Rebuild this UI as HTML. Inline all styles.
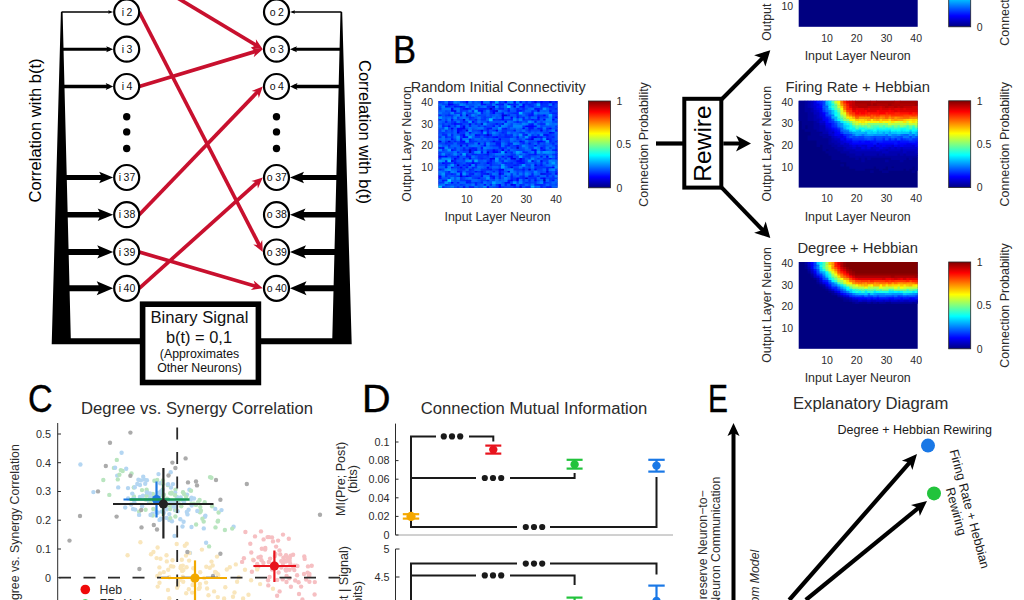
<!DOCTYPE html>
<html><head><meta charset="utf-8"><style>
html,body{margin:0;padding:0;background:#fff;width:1024px;height:600px;overflow:hidden}
svg{display:block;font-family:"Liberation Sans", sans-serif}
</style></head><body>
<svg width="1024" height="600" viewBox="0 0 1024 600">
<defs><linearGradient id="jet" x1="0" y1="1" x2="0" y2="0"><stop offset="0.0000" stop-color="#000080"/><stop offset="0.0625" stop-color="#0000bf"/><stop offset="0.1250" stop-color="#0000ff"/><stop offset="0.1875" stop-color="#0040ff"/><stop offset="0.2500" stop-color="#0080ff"/><stop offset="0.3125" stop-color="#00bfff"/><stop offset="0.3750" stop-color="#00ffff"/><stop offset="0.4375" stop-color="#40ffbf"/><stop offset="0.5000" stop-color="#80ff80"/><stop offset="0.5625" stop-color="#bfff40"/><stop offset="0.6250" stop-color="#ffff00"/><stop offset="0.6875" stop-color="#ffbf00"/><stop offset="0.7500" stop-color="#ff8000"/><stop offset="0.8125" stop-color="#ff4000"/><stop offset="0.8750" stop-color="#ff0000"/><stop offset="0.9375" stop-color="#bf0000"/><stop offset="1.0000" stop-color="#800000"/></linearGradient></defs>
<rect width="1024" height="600" fill="#fff"/>
<polygon points="60.9,12 62.6,12 70.8,338.3 140.5,338.3 140.5,344.2 51.7,344.2" fill="#000"/>
<polygon points="340.5,12 342.2,12 351.7,344.2 260.5,344.2 260.5,338.3 332.3,338.3" fill="#000"/>
<line x1="61.5" y1="12" x2="110.7" y2="12" stroke="#000" stroke-width="1.5"/>
<path d="M113.2 12 L108.2 10.2 Q109.6 12 108.2 13.8 Z" fill="#000"/>
<line x1="341.5" y1="12" x2="292.5" y2="12" stroke="#000" stroke-width="1.5"/>
<path d="M290 12 L295 10.2 Q293.6 12 295 13.8 Z" fill="#000"/>
<line x1="61.5" y1="49.2" x2="109.7" y2="49.2" stroke="#000" stroke-width="3"/>
<path d="M113.2 49.2 L106.2 46.2 Q108.2 49.2 106.2 52.2 Z" fill="#000"/>
<line x1="341.5" y1="49.2" x2="293.5" y2="49.2" stroke="#000" stroke-width="3"/>
<path d="M290 49.2 L297 46.2 Q295 49.2 297 52.2 Z" fill="#000"/>
<line x1="61.5" y1="86.5" x2="109.5" y2="86.5" stroke="#000" stroke-width="3.3"/>
<path d="M113.2 86.5 L105.7 83 Q107.8 86.5 105.7 90 Z" fill="#000"/>
<line x1="341.5" y1="86.5" x2="293.8" y2="86.5" stroke="#000" stroke-width="3.3"/>
<path d="M290 86.5 L297.5 83 Q295.4 86.5 297.5 90 Z" fill="#000"/>
<line x1="61.5" y1="177.5" x2="106.2" y2="177.5" stroke="#000" stroke-width="5"/>
<path d="M113.2 177.5 L99.2 171.7 Q103.1 177.5 99.2 183.3 Z" fill="#000"/>
<line x1="341.5" y1="177.5" x2="297" y2="177.5" stroke="#000" stroke-width="5"/>
<path d="M290 177.5 L304 171.7 Q300.1 177.5 304 183.3 Z" fill="#000"/>
<line x1="61.5" y1="214.7" x2="105.5" y2="214.7" stroke="#000" stroke-width="5.6"/>
<path d="M113.2 214.7 L97.7 208.4 Q102 214.7 97.7 220.9 Z" fill="#000"/>
<line x1="341.5" y1="214.7" x2="297.8" y2="214.7" stroke="#000" stroke-width="5.6"/>
<path d="M290 214.7 L305.5 208.4 Q301.2 214.7 305.5 220.9 Z" fill="#000"/>
<line x1="61.5" y1="252" x2="105.2" y2="252" stroke="#000" stroke-width="5.8"/>
<path d="M113.2 252 L97.2 245.3 Q101.7 252 97.2 258.6 Z" fill="#000"/>
<line x1="341.5" y1="252" x2="298" y2="252" stroke="#000" stroke-width="5.8"/>
<path d="M290 252 L306 245.3 Q301.5 252 306 258.6 Z" fill="#000"/>
<line x1="61.5" y1="288.3" x2="105" y2="288.3" stroke="#000" stroke-width="6"/>
<path d="M113.2 288.3 L96.7 281.3 Q101.3 288.3 96.7 295.3 Z" fill="#000"/>
<line x1="341.5" y1="288.3" x2="298.2" y2="288.3" stroke="#000" stroke-width="6"/>
<path d="M290 288.3 L306.5 281.3 Q301.9 288.3 306.5 295.3 Z" fill="#000"/>
<circle cx="126.7" cy="116.7" r="3.7" fill="#000"/>
<circle cx="276.5" cy="116.7" r="3.7" fill="#000"/>
<circle cx="126.7" cy="131.9" r="3.7" fill="#000"/>
<circle cx="276.5" cy="131.9" r="3.7" fill="#000"/>
<circle cx="126.7" cy="148.5" r="3.7" fill="#000"/>
<circle cx="276.5" cy="148.5" r="3.7" fill="#000"/>
<line x1="139.2" y1="-25" x2="257.7" y2="46.1" stroke="#c8102e" stroke-width="3.7"/>
<polygon points="262.8,49.2 250.8,47.8 256.2,45.2 255.9,39.3" fill="#c8102e"/>
<line x1="139.2" y1="12" x2="260.1" y2="246.7" stroke="#c8102e" stroke-width="3.7"/>
<polygon points="262.8,252 253.3,244.5 259.3,245.2 262.2,239.9" fill="#c8102e"/>
<line x1="139.2" y1="86.5" x2="257.1" y2="50.9" stroke="#c8102e" stroke-width="3.7"/>
<polygon points="262.8,49.2 253.7,57.2 255.4,51.4 250.8,47.6" fill="#c8102e"/>
<line x1="139.2" y1="214.7" x2="258.6" y2="90.8" stroke="#c8102e" stroke-width="3.7"/>
<polygon points="262.8,86.5 258.8,97.9 257.5,92 251.6,90.9" fill="#c8102e"/>
<line x1="139.2" y1="252" x2="257" y2="286.6" stroke="#c8102e" stroke-width="3.7"/>
<polygon points="262.8,288.3 250.8,290 255.4,286.1 253.7,280.4" fill="#c8102e"/>
<line x1="139.2" y1="288.3" x2="258.3" y2="181.5" stroke="#c8102e" stroke-width="3.7"/>
<polygon points="262.8,177.5 257.9,188.6 257.1,182.6 251.3,181.1" fill="#c8102e"/>
<circle cx="126.7" cy="12" r="12.5" fill="#fff" stroke="#000" stroke-width="2.2"/>
<text x="127" y="15.6" font-size="10.5" fill="#111" text-anchor="middle">i<tspan dx="2.5">2</tspan></text>
<circle cx="276.5" cy="12" r="12.5" fill="#fff" stroke="#000" stroke-width="2.2"/>
<text x="276.8" y="15.6" font-size="10.5" fill="#111" text-anchor="middle">o<tspan dx="2.5">2</tspan></text>
<circle cx="126.7" cy="49.2" r="12.5" fill="#fff" stroke="#000" stroke-width="2.2"/>
<text x="127" y="52.8" font-size="10.5" fill="#111" text-anchor="middle">i<tspan dx="2.5">3</tspan></text>
<circle cx="276.5" cy="49.2" r="12.5" fill="#fff" stroke="#000" stroke-width="2.2"/>
<text x="276.8" y="52.8" font-size="10.5" fill="#111" text-anchor="middle">o<tspan dx="2.5">3</tspan></text>
<circle cx="126.7" cy="86.5" r="12.5" fill="#fff" stroke="#000" stroke-width="2.2"/>
<text x="127" y="90.1" font-size="10.5" fill="#111" text-anchor="middle">i<tspan dx="2.5">4</tspan></text>
<circle cx="276.5" cy="86.5" r="12.5" fill="#fff" stroke="#000" stroke-width="2.2"/>
<text x="276.8" y="90.1" font-size="10.5" fill="#111" text-anchor="middle">o<tspan dx="2.5">4</tspan></text>
<circle cx="126.7" cy="177.5" r="12.5" fill="#fff" stroke="#000" stroke-width="2.2"/>
<text x="127" y="181.1" font-size="10.5" fill="#111" text-anchor="middle">i<tspan dx="2.5">37</tspan></text>
<circle cx="276.5" cy="177.5" r="12.5" fill="#fff" stroke="#000" stroke-width="2.2"/>
<text x="276.8" y="181.1" font-size="10.5" fill="#111" text-anchor="middle">o<tspan dx="2.5">37</tspan></text>
<circle cx="126.7" cy="214.7" r="12.5" fill="#fff" stroke="#000" stroke-width="2.2"/>
<text x="127" y="218.3" font-size="10.5" fill="#111" text-anchor="middle">i<tspan dx="2.5">38</tspan></text>
<circle cx="276.5" cy="214.7" r="12.5" fill="#fff" stroke="#000" stroke-width="2.2"/>
<text x="276.8" y="218.3" font-size="10.5" fill="#111" text-anchor="middle">o<tspan dx="2.5">38</tspan></text>
<circle cx="126.7" cy="252" r="12.5" fill="#fff" stroke="#000" stroke-width="2.2"/>
<text x="127" y="255.6" font-size="10.5" fill="#111" text-anchor="middle">i<tspan dx="2.5">39</tspan></text>
<circle cx="276.5" cy="252" r="12.5" fill="#fff" stroke="#000" stroke-width="2.2"/>
<text x="276.8" y="255.6" font-size="10.5" fill="#111" text-anchor="middle">o<tspan dx="2.5">39</tspan></text>
<circle cx="126.7" cy="288.3" r="12.5" fill="#fff" stroke="#000" stroke-width="2.2"/>
<text x="127" y="291.9" font-size="10.5" fill="#111" text-anchor="middle">i<tspan dx="2.5">40</tspan></text>
<circle cx="276.5" cy="288.3" r="12.5" fill="#fff" stroke="#000" stroke-width="2.2"/>
<text x="276.8" y="291.9" font-size="10.5" fill="#111" text-anchor="middle">o<tspan dx="2.5">40</tspan></text>
<text x="41" y="130.5" font-size="16.5" fill="#000" text-anchor="middle" transform="rotate(-90 41 130.5)">Correlation with b(t)</text>
<text x="358.5" y="132" font-size="16.5" fill="#000" text-anchor="middle" transform="rotate(90 358.5 132)">Correlation with b(t)</text>
<rect x="142.6" y="304.2" width="115.8" height="78.3" fill="#fff" stroke="#000" stroke-width="5.6"/>
<text x="199.5" y="322.8" font-size="16" fill="#111" text-anchor="middle" textLength="98" lengthAdjust="spacingAndGlyphs">Binary Signal</text>
<text x="199" y="342.8" font-size="16" fill="#111" text-anchor="middle" textLength="66" lengthAdjust="spacingAndGlyphs">b(t) = 0,1</text>
<text x="199.5" y="357.8" font-size="12.3" fill="#111" text-anchor="middle">(Approximates</text>
<text x="199.5" y="372" font-size="12.3" fill="#111" text-anchor="middle">Other Neurons)</text>
<text transform="translate(393,63) scale(0.89,1)" font-size="38.8" fill="#000" stroke="#000" stroke-width="0.4">B</text>
<rect x="438.5" y="101" width="119" height="86.8" fill="#000080"/>
<path fill="#0000c0" d="M542.62 179.12h3.58v2.77h-3.58zM515.85 146.57h3.58v2.77h-3.58zM489.07 107.51h3.58v2.77h-3.58z"/>
<path fill="#0000d0" d="M456.35 163.93h3.58v2.77h-3.58zM468.25 150.91h3.58v2.77h-3.58zM468.25 148.74h3.58v2.77h-3.58zM486.10 133.55h3.58v2.77h-3.58zM495.02 109.68h3.58v2.77h-3.58z"/>
<path fill="#0000e1" d="M509.90 183.46h3.58v2.77h-3.58zM524.77 176.95h3.58v2.77h-3.58zM459.32 174.78h3.58v2.77h-3.58zM486.10 172.61h3.58v2.77h-3.58zM498.00 172.61h3.58v2.77h-3.58zM539.65 172.61h3.58v2.77h-3.58zM527.75 168.27h3.58v2.77h-3.58zM450.40 159.59h3.58v2.77h-3.58zM530.73 159.59h3.58v2.77h-3.58zM512.88 157.42h3.58v2.77h-3.58zM518.83 157.42h3.58v2.77h-3.58zM486.10 150.91h3.58v2.77h-3.58zM438.50 146.57h3.58v2.77h-3.58zM447.43 140.06h3.58v2.77h-3.58zM530.73 137.89h3.58v2.77h-3.58zM456.35 131.38h3.58v2.77h-3.58zM465.27 129.21h3.58v2.77h-3.58zM480.15 122.70h3.58v2.77h-3.58zM462.30 118.36h3.58v2.77h-3.58zM465.27 114.02h3.58v2.77h-3.58zM500.98 114.02h3.58v2.77h-3.58zM503.95 114.02h3.58v2.77h-3.58zM536.67 109.68h3.58v2.77h-3.58zM492.05 105.34h3.58v2.77h-3.58zM512.88 105.34h3.58v2.77h-3.58zM548.58 101.00h3.58v2.77h-3.58z"/>
<path fill="#0000f1" d="M518.83 185.63h3.58v2.17h-3.58zM542.62 176.95h3.58v2.77h-3.58zM542.62 172.61h3.58v2.77h-3.58zM554.52 172.61h2.98v2.77h-2.98zM506.93 170.44h3.58v2.77h-3.58zM545.60 170.44h3.58v2.77h-3.58zM500.98 168.27h3.58v2.77h-3.58zM509.90 166.10h3.58v2.77h-3.58zM533.70 163.93h3.58v2.77h-3.58zM539.65 159.59h3.58v2.77h-3.58zM468.25 157.42h3.58v2.77h-3.58zM489.07 157.42h3.58v2.77h-3.58zM492.05 157.42h3.58v2.77h-3.58zM509.90 157.42h3.58v2.77h-3.58zM503.95 150.91h3.58v2.77h-3.58zM500.98 148.74h3.58v2.77h-3.58zM459.32 144.40h3.58v2.77h-3.58zM438.50 140.06h3.58v2.77h-3.58zM492.05 140.06h3.58v2.77h-3.58zM545.60 137.89h3.58v2.77h-3.58zM533.70 135.72h3.58v2.77h-3.58zM462.30 133.55h3.58v2.77h-3.58zM524.77 133.55h3.58v2.77h-3.58zM542.62 133.55h3.58v2.77h-3.58zM548.58 131.38h3.58v2.77h-3.58zM480.15 129.21h3.58v2.77h-3.58zM495.02 129.21h3.58v2.77h-3.58zM539.65 129.21h3.58v2.77h-3.58zM450.40 127.04h3.58v2.77h-3.58zM462.30 127.04h3.58v2.77h-3.58zM462.30 124.87h3.58v2.77h-3.58zM468.25 122.70h3.58v2.77h-3.58zM500.98 122.70h3.58v2.77h-3.58zM450.40 109.68h3.58v2.77h-3.58zM453.38 109.68h3.58v2.77h-3.58zM447.43 103.17h3.58v2.77h-3.58zM533.70 101.00h3.58v2.77h-3.58z"/>
<path fill="#0002ff" d="M486.10 185.63h3.58v2.17h-3.58zM498.00 185.63h3.58v2.17h-3.58zM498.00 183.46h3.58v2.77h-3.58zM512.88 183.46h3.58v2.77h-3.58zM450.40 181.29h3.58v2.77h-3.58zM506.93 181.29h3.58v2.77h-3.58zM509.90 179.12h3.58v2.77h-3.58zM515.85 179.12h3.58v2.77h-3.58zM533.70 179.12h3.58v2.77h-3.58zM515.85 176.95h3.58v2.77h-3.58zM438.50 174.78h3.58v2.77h-3.58zM465.27 174.78h3.58v2.77h-3.58zM459.32 172.61h3.58v2.77h-3.58zM498.00 168.27h3.58v2.77h-3.58zM533.70 168.27h3.58v2.77h-3.58zM459.32 166.10h3.58v2.77h-3.58zM486.10 166.10h3.58v2.77h-3.58zM551.55 166.10h3.58v2.77h-3.58zM468.25 163.93h3.58v2.77h-3.58zM441.48 161.76h3.58v2.77h-3.58zM471.23 161.76h3.58v2.77h-3.58zM486.10 161.76h3.58v2.77h-3.58zM515.85 159.59h3.58v2.77h-3.58zM518.83 159.59h3.58v2.77h-3.58zM453.38 157.42h3.58v2.77h-3.58zM438.50 155.25h3.58v2.77h-3.58zM444.45 155.25h3.58v2.77h-3.58zM456.35 155.25h3.58v2.77h-3.58zM509.90 155.25h3.58v2.77h-3.58zM545.60 155.25h3.58v2.77h-3.58zM492.05 150.91h3.58v2.77h-3.58zM495.02 150.91h3.58v2.77h-3.58zM492.05 148.74h3.58v2.77h-3.58zM533.70 148.74h3.58v2.77h-3.58zM441.48 146.57h3.58v2.77h-3.58zM539.65 146.57h3.58v2.77h-3.58zM483.12 144.40h3.58v2.77h-3.58zM533.70 144.40h3.58v2.77h-3.58zM477.18 142.23h3.58v2.77h-3.58zM462.30 140.06h3.58v2.77h-3.58zM518.83 140.06h3.58v2.77h-3.58zM536.67 140.06h3.58v2.77h-3.58zM539.65 140.06h3.58v2.77h-3.58zM498.00 137.89h3.58v2.77h-3.58zM462.30 135.72h3.58v2.77h-3.58zM495.02 135.72h3.58v2.77h-3.58zM530.73 135.72h3.58v2.77h-3.58zM474.20 133.55h3.58v2.77h-3.58zM545.60 133.55h3.58v2.77h-3.58zM456.35 129.21h3.58v2.77h-3.58zM456.35 127.04h3.58v2.77h-3.58zM459.32 127.04h3.58v2.77h-3.58zM521.80 127.04h3.58v2.77h-3.58zM548.58 127.04h3.58v2.77h-3.58zM447.43 124.87h3.58v2.77h-3.58zM524.77 124.87h3.58v2.77h-3.58zM527.75 124.87h3.58v2.77h-3.58zM530.73 124.87h3.58v2.77h-3.58zM453.38 122.70h3.58v2.77h-3.58zM456.35 122.70h3.58v2.77h-3.58zM495.02 122.70h3.58v2.77h-3.58zM471.23 120.53h3.58v2.77h-3.58zM503.95 120.53h3.58v2.77h-3.58zM500.98 118.36h3.58v2.77h-3.58zM542.62 118.36h3.58v2.77h-3.58zM551.55 118.36h3.58v2.77h-3.58zM500.98 116.19h3.58v2.77h-3.58zM509.90 116.19h3.58v2.77h-3.58zM536.67 116.19h3.58v2.77h-3.58zM554.52 116.19h2.98v2.77h-2.98zM542.62 114.02h3.58v2.77h-3.58zM492.05 111.85h3.58v2.77h-3.58zM480.15 109.68h3.58v2.77h-3.58zM492.05 109.68h3.58v2.77h-3.58zM518.83 109.68h3.58v2.77h-3.58zM450.40 107.51h3.58v2.77h-3.58zM465.27 107.51h3.58v2.77h-3.58zM459.32 105.34h3.58v2.77h-3.58zM521.80 105.34h3.58v2.77h-3.58zM450.40 103.17h3.58v2.77h-3.58zM521.80 103.17h3.58v2.77h-3.58zM465.27 101.00h3.58v2.77h-3.58zM480.15 101.00h3.58v2.77h-3.58zM503.95 101.00h3.58v2.77h-3.58zM512.88 101.00h3.58v2.77h-3.58zM539.65 101.00h3.58v2.77h-3.58z"/>
<path fill="#0012ff" d="M462.30 185.63h3.58v2.17h-3.58zM545.60 185.63h3.58v2.17h-3.58zM548.58 185.63h3.58v2.17h-3.58zM483.12 183.46h3.58v2.77h-3.58zM465.27 181.29h3.58v2.77h-3.58zM503.95 181.29h3.58v2.77h-3.58zM542.62 181.29h3.58v2.77h-3.58zM441.48 179.12h3.58v2.77h-3.58zM506.93 179.12h3.58v2.77h-3.58zM551.55 179.12h3.58v2.77h-3.58zM438.50 176.95h3.58v2.77h-3.58zM477.18 176.95h3.58v2.77h-3.58zM492.05 176.95h3.58v2.77h-3.58zM539.65 176.95h3.58v2.77h-3.58zM480.15 174.78h3.58v2.77h-3.58zM489.07 174.78h3.58v2.77h-3.58zM492.05 174.78h3.58v2.77h-3.58zM527.75 174.78h3.58v2.77h-3.58zM450.40 172.61h3.58v2.77h-3.58zM471.23 172.61h3.58v2.77h-3.58zM483.12 172.61h3.58v2.77h-3.58zM500.98 172.61h3.58v2.77h-3.58zM456.35 170.44h3.58v2.77h-3.58zM474.20 170.44h3.58v2.77h-3.58zM480.15 170.44h3.58v2.77h-3.58zM498.00 170.44h3.58v2.77h-3.58zM489.07 168.27h3.58v2.77h-3.58zM521.80 168.27h3.58v2.77h-3.58zM545.60 168.27h3.58v2.77h-3.58zM444.45 166.10h3.58v2.77h-3.58zM450.40 166.10h3.58v2.77h-3.58zM465.27 166.10h3.58v2.77h-3.58zM462.30 163.93h3.58v2.77h-3.58zM512.88 163.93h3.58v2.77h-3.58zM539.65 163.93h3.58v2.77h-3.58zM453.38 161.76h3.58v2.77h-3.58zM518.83 161.76h3.58v2.77h-3.58zM521.80 161.76h3.58v2.77h-3.58zM444.45 159.59h3.58v2.77h-3.58zM489.07 159.59h3.58v2.77h-3.58zM548.58 157.42h3.58v2.77h-3.58zM441.48 155.25h3.58v2.77h-3.58zM465.27 155.25h3.58v2.77h-3.58zM468.25 155.25h3.58v2.77h-3.58zM500.98 155.25h3.58v2.77h-3.58zM506.93 155.25h3.58v2.77h-3.58zM539.65 155.25h3.58v2.77h-3.58zM486.10 153.08h3.58v2.77h-3.58zM533.70 153.08h3.58v2.77h-3.58zM480.15 150.91h3.58v2.77h-3.58zM533.70 150.91h3.58v2.77h-3.58zM450.40 148.74h3.58v2.77h-3.58zM474.20 148.74h3.58v2.77h-3.58zM530.73 148.74h3.58v2.77h-3.58zM542.62 148.74h3.58v2.77h-3.58zM554.52 148.74h2.98v2.77h-2.98zM471.23 146.57h3.58v2.77h-3.58zM480.15 146.57h3.58v2.77h-3.58zM465.27 144.40h3.58v2.77h-3.58zM498.00 144.40h3.58v2.77h-3.58zM506.93 144.40h3.58v2.77h-3.58zM515.85 144.40h3.58v2.77h-3.58zM495.02 142.23h3.58v2.77h-3.58zM498.00 142.23h3.58v2.77h-3.58zM527.75 142.23h3.58v2.77h-3.58zM459.32 140.06h3.58v2.77h-3.58zM450.40 137.89h3.58v2.77h-3.58zM459.32 137.89h3.58v2.77h-3.58zM468.25 137.89h3.58v2.77h-3.58zM527.75 137.89h3.58v2.77h-3.58zM465.27 135.72h3.58v2.77h-3.58zM492.05 135.72h3.58v2.77h-3.58zM515.85 135.72h3.58v2.77h-3.58zM539.65 135.72h3.58v2.77h-3.58zM477.18 133.55h3.58v2.77h-3.58zM483.12 133.55h3.58v2.77h-3.58zM489.07 133.55h3.58v2.77h-3.58zM468.25 131.38h3.58v2.77h-3.58zM551.55 131.38h3.58v2.77h-3.58zM459.32 129.21h3.58v2.77h-3.58zM512.88 129.21h3.58v2.77h-3.58zM554.52 129.21h2.98v2.77h-2.98zM486.10 127.04h3.58v2.77h-3.58zM489.07 127.04h3.58v2.77h-3.58zM503.95 127.04h3.58v2.77h-3.58zM527.75 127.04h3.58v2.77h-3.58zM530.73 127.04h3.58v2.77h-3.58zM536.67 127.04h3.58v2.77h-3.58zM492.05 124.87h3.58v2.77h-3.58zM533.70 124.87h3.58v2.77h-3.58zM459.32 122.70h3.58v2.77h-3.58zM530.73 122.70h3.58v2.77h-3.58zM444.45 120.53h3.58v2.77h-3.58zM515.85 120.53h3.58v2.77h-3.58zM533.70 120.53h3.58v2.77h-3.58zM450.40 118.36h3.58v2.77h-3.58zM530.73 118.36h3.58v2.77h-3.58zM536.67 118.36h3.58v2.77h-3.58zM515.85 116.19h3.58v2.77h-3.58zM459.32 114.02h3.58v2.77h-3.58zM527.75 114.02h3.58v2.77h-3.58zM530.73 114.02h3.58v2.77h-3.58zM500.98 111.85h3.58v2.77h-3.58zM530.73 111.85h3.58v2.77h-3.58zM477.18 109.68h3.58v2.77h-3.58zM506.93 109.68h3.58v2.77h-3.58zM515.85 109.68h3.58v2.77h-3.58zM548.58 109.68h3.58v2.77h-3.58zM462.30 107.51h3.58v2.77h-3.58zM533.70 107.51h3.58v2.77h-3.58zM536.67 107.51h3.58v2.77h-3.58zM444.45 105.34h3.58v2.77h-3.58zM453.38 105.34h3.58v2.77h-3.58zM518.83 105.34h3.58v2.77h-3.58zM548.58 105.34h3.58v2.77h-3.58zM480.15 103.17h3.58v2.77h-3.58zM483.12 103.17h3.58v2.77h-3.58zM495.02 103.17h3.58v2.77h-3.58zM500.98 103.17h3.58v2.77h-3.58zM506.93 103.17h3.58v2.77h-3.58zM551.55 103.17h3.58v2.77h-3.58zM489.07 101.00h3.58v2.77h-3.58zM518.83 101.00h3.58v2.77h-3.58zM554.52 101.00h2.98v2.77h-2.98z"/>
<path fill="#0022ff" d="M441.48 185.63h3.58v2.17h-3.58zM468.25 185.63h3.58v2.17h-3.58zM471.23 185.63h3.58v2.17h-3.58zM512.88 185.63h3.58v2.17h-3.58zM524.77 185.63h3.58v2.17h-3.58zM527.75 185.63h3.58v2.17h-3.58zM539.65 185.63h3.58v2.17h-3.58zM474.20 183.46h3.58v2.77h-3.58zM489.07 183.46h3.58v2.77h-3.58zM503.95 183.46h3.58v2.77h-3.58zM518.83 183.46h3.58v2.77h-3.58zM533.70 183.46h3.58v2.77h-3.58zM536.67 183.46h3.58v2.77h-3.58zM539.65 183.46h3.58v2.77h-3.58zM456.35 181.29h3.58v2.77h-3.58zM468.25 181.29h3.58v2.77h-3.58zM474.20 181.29h3.58v2.77h-3.58zM480.15 181.29h3.58v2.77h-3.58zM524.77 181.29h3.58v2.77h-3.58zM444.45 179.12h3.58v2.77h-3.58zM465.27 179.12h3.58v2.77h-3.58zM468.25 179.12h3.58v2.77h-3.58zM486.10 179.12h3.58v2.77h-3.58zM527.75 179.12h3.58v2.77h-3.58zM498.00 176.95h3.58v2.77h-3.58zM509.90 176.95h3.58v2.77h-3.58zM521.80 176.95h3.58v2.77h-3.58zM533.70 176.95h3.58v2.77h-3.58zM462.30 174.78h3.58v2.77h-3.58zM468.25 174.78h3.58v2.77h-3.58zM498.00 174.78h3.58v2.77h-3.58zM503.95 174.78h3.58v2.77h-3.58zM509.90 174.78h3.58v2.77h-3.58zM521.80 174.78h3.58v2.77h-3.58zM530.73 174.78h3.58v2.77h-3.58zM536.67 174.78h3.58v2.77h-3.58zM545.60 174.78h3.58v2.77h-3.58zM468.25 172.61h3.58v2.77h-3.58zM480.15 172.61h3.58v2.77h-3.58zM530.73 172.61h3.58v2.77h-3.58zM545.60 172.61h3.58v2.77h-3.58zM548.58 172.61h3.58v2.77h-3.58zM447.43 170.44h3.58v2.77h-3.58zM459.32 170.44h3.58v2.77h-3.58zM492.05 170.44h3.58v2.77h-3.58zM554.52 170.44h2.98v2.77h-2.98zM438.50 168.27h3.58v2.77h-3.58zM468.25 168.27h3.58v2.77h-3.58zM486.10 168.27h3.58v2.77h-3.58zM471.23 166.10h3.58v2.77h-3.58zM545.60 166.10h3.58v2.77h-3.58zM548.58 166.10h3.58v2.77h-3.58zM444.45 163.93h3.58v2.77h-3.58zM474.20 163.93h3.58v2.77h-3.58zM489.07 163.93h3.58v2.77h-3.58zM515.85 163.93h3.58v2.77h-3.58zM444.45 161.76h3.58v2.77h-3.58zM447.43 161.76h3.58v2.77h-3.58zM465.27 161.76h3.58v2.77h-3.58zM468.25 161.76h3.58v2.77h-3.58zM474.20 161.76h3.58v2.77h-3.58zM489.07 161.76h3.58v2.77h-3.58zM503.95 161.76h3.58v2.77h-3.58zM509.90 161.76h3.58v2.77h-3.58zM515.85 161.76h3.58v2.77h-3.58zM539.65 161.76h3.58v2.77h-3.58zM453.38 159.59h3.58v2.77h-3.58zM471.23 159.59h3.58v2.77h-3.58zM500.98 159.59h3.58v2.77h-3.58zM521.80 159.59h3.58v2.77h-3.58zM462.30 157.42h3.58v2.77h-3.58zM480.15 157.42h3.58v2.77h-3.58zM503.95 157.42h3.58v2.77h-3.58zM521.80 157.42h3.58v2.77h-3.58zM554.52 157.42h2.98v2.77h-2.98zM459.32 153.08h3.58v2.77h-3.58zM465.27 153.08h3.58v2.77h-3.58zM471.23 153.08h3.58v2.77h-3.58zM474.20 153.08h3.58v2.77h-3.58zM483.12 153.08h3.58v2.77h-3.58zM527.75 153.08h3.58v2.77h-3.58zM530.73 153.08h3.58v2.77h-3.58zM554.52 153.08h2.98v2.77h-2.98zM456.35 150.91h3.58v2.77h-3.58zM509.90 150.91h3.58v2.77h-3.58zM521.80 150.91h3.58v2.77h-3.58zM524.77 150.91h3.58v2.77h-3.58zM462.30 148.74h3.58v2.77h-3.58zM471.23 148.74h3.58v2.77h-3.58zM495.02 148.74h3.58v2.77h-3.58zM506.93 148.74h3.58v2.77h-3.58zM539.65 148.74h3.58v2.77h-3.58zM551.55 148.74h3.58v2.77h-3.58zM462.30 146.57h3.58v2.77h-3.58zM468.25 146.57h3.58v2.77h-3.58zM474.20 146.57h3.58v2.77h-3.58zM498.00 146.57h3.58v2.77h-3.58zM500.98 146.57h3.58v2.77h-3.58zM447.43 144.40h3.58v2.77h-3.58zM495.02 144.40h3.58v2.77h-3.58zM554.52 144.40h2.98v2.77h-2.98zM444.45 142.23h3.58v2.77h-3.58zM459.32 142.23h3.58v2.77h-3.58zM462.30 142.23h3.58v2.77h-3.58zM465.27 142.23h3.58v2.77h-3.58zM483.12 142.23h3.58v2.77h-3.58zM506.93 142.23h3.58v2.77h-3.58zM509.90 142.23h3.58v2.77h-3.58zM521.80 142.23h3.58v2.77h-3.58zM536.67 142.23h3.58v2.77h-3.58zM551.55 142.23h3.58v2.77h-3.58zM453.38 140.06h3.58v2.77h-3.58zM468.25 140.06h3.58v2.77h-3.58zM495.02 140.06h3.58v2.77h-3.58zM498.00 140.06h3.58v2.77h-3.58zM521.80 140.06h3.58v2.77h-3.58zM542.62 140.06h3.58v2.77h-3.58zM548.58 140.06h3.58v2.77h-3.58zM554.52 140.06h2.98v2.77h-2.98zM524.77 137.89h3.58v2.77h-3.58zM548.58 137.89h3.58v2.77h-3.58zM444.45 135.72h3.58v2.77h-3.58zM486.10 135.72h3.58v2.77h-3.58zM503.95 135.72h3.58v2.77h-3.58zM506.93 135.72h3.58v2.77h-3.58zM536.67 135.72h3.58v2.77h-3.58zM545.60 135.72h3.58v2.77h-3.58zM551.55 135.72h3.58v2.77h-3.58zM441.48 133.55h3.58v2.77h-3.58zM444.45 133.55h3.58v2.77h-3.58zM450.40 133.55h3.58v2.77h-3.58zM459.32 133.55h3.58v2.77h-3.58zM503.95 133.55h3.58v2.77h-3.58zM509.90 133.55h3.58v2.77h-3.58zM521.80 133.55h3.58v2.77h-3.58zM536.67 133.55h3.58v2.77h-3.58zM480.15 131.38h3.58v2.77h-3.58zM486.10 131.38h3.58v2.77h-3.58zM500.98 131.38h3.58v2.77h-3.58zM486.10 129.21h3.58v2.77h-3.58zM527.75 129.21h3.58v2.77h-3.58zM500.98 127.04h3.58v2.77h-3.58zM539.65 127.04h3.58v2.77h-3.58zM545.60 127.04h3.58v2.77h-3.58zM441.48 124.87h3.58v2.77h-3.58zM468.25 124.87h3.58v2.77h-3.58zM483.12 124.87h3.58v2.77h-3.58zM498.00 124.87h3.58v2.77h-3.58zM450.40 122.70h3.58v2.77h-3.58zM474.20 122.70h3.58v2.77h-3.58zM527.75 122.70h3.58v2.77h-3.58zM539.65 122.70h3.58v2.77h-3.58zM542.62 122.70h3.58v2.77h-3.58zM453.38 120.53h3.58v2.77h-3.58zM462.30 120.53h3.58v2.77h-3.58zM486.10 120.53h3.58v2.77h-3.58zM438.50 118.36h3.58v2.77h-3.58zM474.20 118.36h3.58v2.77h-3.58zM492.05 118.36h3.58v2.77h-3.58zM498.00 118.36h3.58v2.77h-3.58zM509.90 118.36h3.58v2.77h-3.58zM521.80 118.36h3.58v2.77h-3.58zM468.25 116.19h3.58v2.77h-3.58zM521.80 116.19h3.58v2.77h-3.58zM438.50 114.02h3.58v2.77h-3.58zM447.43 114.02h3.58v2.77h-3.58zM506.93 114.02h3.58v2.77h-3.58zM515.85 114.02h3.58v2.77h-3.58zM536.67 114.02h3.58v2.77h-3.58zM480.15 111.85h3.58v2.77h-3.58zM512.88 111.85h3.58v2.77h-3.58zM515.85 111.85h3.58v2.77h-3.58zM551.55 111.85h3.58v2.77h-3.58zM554.52 111.85h2.98v2.77h-2.98zM471.23 109.68h3.58v2.77h-3.58zM489.07 109.68h3.58v2.77h-3.58zM530.73 109.68h3.58v2.77h-3.58zM468.25 107.51h3.58v2.77h-3.58zM477.18 107.51h3.58v2.77h-3.58zM480.15 107.51h3.58v2.77h-3.58zM483.12 107.51h3.58v2.77h-3.58zM492.05 107.51h3.58v2.77h-3.58zM498.00 107.51h3.58v2.77h-3.58zM500.98 107.51h3.58v2.77h-3.58zM506.93 107.51h3.58v2.77h-3.58zM515.85 107.51h3.58v2.77h-3.58zM521.80 107.51h3.58v2.77h-3.58zM554.52 107.51h2.98v2.77h-2.98zM447.43 105.34h3.58v2.77h-3.58zM456.35 105.34h3.58v2.77h-3.58zM462.30 105.34h3.58v2.77h-3.58zM486.10 105.34h3.58v2.77h-3.58zM489.07 105.34h3.58v2.77h-3.58zM530.73 105.34h3.58v2.77h-3.58zM498.00 103.17h3.58v2.77h-3.58zM509.90 103.17h3.58v2.77h-3.58zM512.88 103.17h3.58v2.77h-3.58zM527.75 103.17h3.58v2.77h-3.58zM539.65 103.17h3.58v2.77h-3.58zM447.43 101.00h3.58v2.77h-3.58zM524.77 101.00h3.58v2.77h-3.58zM530.73 101.00h3.58v2.77h-3.58zM542.62 101.00h3.58v2.77h-3.58zM545.60 101.00h3.58v2.77h-3.58zM551.55 101.00h3.58v2.77h-3.58z"/>
<path fill="#0033ff" d="M456.35 185.63h3.58v2.17h-3.58zM500.98 185.63h3.58v2.17h-3.58zM444.45 183.46h3.58v2.77h-3.58zM459.32 183.46h3.58v2.77h-3.58zM495.02 183.46h3.58v2.77h-3.58zM521.80 183.46h3.58v2.77h-3.58zM542.62 183.46h3.58v2.77h-3.58zM438.50 181.29h3.58v2.77h-3.58zM441.48 181.29h3.58v2.77h-3.58zM527.75 181.29h3.58v2.77h-3.58zM533.70 181.29h3.58v2.77h-3.58zM545.60 181.29h3.58v2.77h-3.58zM459.32 179.12h3.58v2.77h-3.58zM462.30 179.12h3.58v2.77h-3.58zM480.15 179.12h3.58v2.77h-3.58zM512.88 179.12h3.58v2.77h-3.58zM521.80 179.12h3.58v2.77h-3.58zM548.58 179.12h3.58v2.77h-3.58zM447.43 176.95h3.58v2.77h-3.58zM459.32 176.95h3.58v2.77h-3.58zM474.20 176.95h3.58v2.77h-3.58zM489.07 176.95h3.58v2.77h-3.58zM512.88 176.95h3.58v2.77h-3.58zM518.83 176.95h3.58v2.77h-3.58zM527.75 176.95h3.58v2.77h-3.58zM530.73 176.95h3.58v2.77h-3.58zM548.58 176.95h3.58v2.77h-3.58zM551.55 176.95h3.58v2.77h-3.58zM554.52 176.95h2.98v2.77h-2.98zM444.45 174.78h3.58v2.77h-3.58zM456.35 174.78h3.58v2.77h-3.58zM518.83 174.78h3.58v2.77h-3.58zM551.55 174.78h3.58v2.77h-3.58zM444.45 172.61h3.58v2.77h-3.58zM447.43 172.61h3.58v2.77h-3.58zM453.38 172.61h3.58v2.77h-3.58zM489.07 172.61h3.58v2.77h-3.58zM509.90 172.61h3.58v2.77h-3.58zM515.85 172.61h3.58v2.77h-3.58zM465.27 170.44h3.58v2.77h-3.58zM468.25 170.44h3.58v2.77h-3.58zM477.18 170.44h3.58v2.77h-3.58zM483.12 170.44h3.58v2.77h-3.58zM500.98 170.44h3.58v2.77h-3.58zM521.80 170.44h3.58v2.77h-3.58zM459.32 168.27h3.58v2.77h-3.58zM462.30 168.27h3.58v2.77h-3.58zM471.23 168.27h3.58v2.77h-3.58zM480.15 168.27h3.58v2.77h-3.58zM483.12 168.27h3.58v2.77h-3.58zM495.02 168.27h3.58v2.77h-3.58zM512.88 168.27h3.58v2.77h-3.58zM515.85 168.27h3.58v2.77h-3.58zM518.83 168.27h3.58v2.77h-3.58zM456.35 166.10h3.58v2.77h-3.58zM474.20 166.10h3.58v2.77h-3.58zM506.93 166.10h3.58v2.77h-3.58zM521.80 166.10h3.58v2.77h-3.58zM533.70 166.10h3.58v2.77h-3.58zM536.67 166.10h3.58v2.77h-3.58zM539.65 166.10h3.58v2.77h-3.58zM542.62 166.10h3.58v2.77h-3.58zM465.27 163.93h3.58v2.77h-3.58zM498.00 163.93h3.58v2.77h-3.58zM506.93 163.93h3.58v2.77h-3.58zM509.90 163.93h3.58v2.77h-3.58zM527.75 163.93h3.58v2.77h-3.58zM536.67 163.93h3.58v2.77h-3.58zM456.35 161.76h3.58v2.77h-3.58zM477.18 161.76h3.58v2.77h-3.58zM500.98 161.76h3.58v2.77h-3.58zM506.93 161.76h3.58v2.77h-3.58zM533.70 161.76h3.58v2.77h-3.58zM545.60 161.76h3.58v2.77h-3.58zM486.10 159.59h3.58v2.77h-3.58zM512.88 159.59h3.58v2.77h-3.58zM438.50 157.42h3.58v2.77h-3.58zM456.35 157.42h3.58v2.77h-3.58zM477.18 157.42h3.58v2.77h-3.58zM483.12 157.42h3.58v2.77h-3.58zM498.00 157.42h3.58v2.77h-3.58zM527.75 157.42h3.58v2.77h-3.58zM536.67 157.42h3.58v2.77h-3.58zM542.62 157.42h3.58v2.77h-3.58zM545.60 157.42h3.58v2.77h-3.58zM450.40 155.25h3.58v2.77h-3.58zM453.38 155.25h3.58v2.77h-3.58zM477.18 155.25h3.58v2.77h-3.58zM480.15 155.25h3.58v2.77h-3.58zM486.10 155.25h3.58v2.77h-3.58zM492.05 155.25h3.58v2.77h-3.58zM524.77 155.25h3.58v2.77h-3.58zM527.75 155.25h3.58v2.77h-3.58zM554.52 155.25h2.98v2.77h-2.98zM447.43 153.08h3.58v2.77h-3.58zM477.18 153.08h3.58v2.77h-3.58zM480.15 153.08h3.58v2.77h-3.58zM509.90 153.08h3.58v2.77h-3.58zM512.88 153.08h3.58v2.77h-3.58zM542.62 153.08h3.58v2.77h-3.58zM551.55 153.08h3.58v2.77h-3.58zM438.50 150.91h3.58v2.77h-3.58zM471.23 150.91h3.58v2.77h-3.58zM489.07 150.91h3.58v2.77h-3.58zM498.00 150.91h3.58v2.77h-3.58zM441.48 148.74h3.58v2.77h-3.58zM453.38 148.74h3.58v2.77h-3.58zM465.27 148.74h3.58v2.77h-3.58zM480.15 148.74h3.58v2.77h-3.58zM486.10 148.74h3.58v2.77h-3.58zM489.07 148.74h3.58v2.77h-3.58zM453.38 146.57h3.58v2.77h-3.58zM503.95 146.57h3.58v2.77h-3.58zM509.90 146.57h3.58v2.77h-3.58zM530.73 146.57h3.58v2.77h-3.58zM542.62 146.57h3.58v2.77h-3.58zM548.58 146.57h3.58v2.77h-3.58zM554.52 146.57h2.98v2.77h-2.98zM492.05 144.40h3.58v2.77h-3.58zM503.95 144.40h3.58v2.77h-3.58zM512.88 144.40h3.58v2.77h-3.58zM542.62 144.40h3.58v2.77h-3.58zM447.43 142.23h3.58v2.77h-3.58zM450.40 142.23h3.58v2.77h-3.58zM456.35 142.23h3.58v2.77h-3.58zM444.45 140.06h3.58v2.77h-3.58zM471.23 140.06h3.58v2.77h-3.58zM474.20 140.06h3.58v2.77h-3.58zM489.07 140.06h3.58v2.77h-3.58zM506.93 140.06h3.58v2.77h-3.58zM515.85 137.89h3.58v2.77h-3.58zM539.65 137.89h3.58v2.77h-3.58zM438.50 135.72h3.58v2.77h-3.58zM450.40 135.72h3.58v2.77h-3.58zM459.32 135.72h3.58v2.77h-3.58zM474.20 135.72h3.58v2.77h-3.58zM477.18 135.72h3.58v2.77h-3.58zM483.12 135.72h3.58v2.77h-3.58zM489.07 135.72h3.58v2.77h-3.58zM498.00 135.72h3.58v2.77h-3.58zM500.98 135.72h3.58v2.77h-3.58zM509.90 135.72h3.58v2.77h-3.58zM527.75 135.72h3.58v2.77h-3.58zM548.58 135.72h3.58v2.77h-3.58zM480.15 133.55h3.58v2.77h-3.58zM498.00 133.55h3.58v2.77h-3.58zM506.93 133.55h3.58v2.77h-3.58zM530.73 133.55h3.58v2.77h-3.58zM548.58 133.55h3.58v2.77h-3.58zM441.48 131.38h3.58v2.77h-3.58zM459.32 131.38h3.58v2.77h-3.58zM462.30 131.38h3.58v2.77h-3.58zM503.95 131.38h3.58v2.77h-3.58zM518.83 131.38h3.58v2.77h-3.58zM521.80 131.38h3.58v2.77h-3.58zM444.45 129.21h3.58v2.77h-3.58zM450.40 129.21h3.58v2.77h-3.58zM462.30 129.21h3.58v2.77h-3.58zM477.18 129.21h3.58v2.77h-3.58zM492.05 129.21h3.58v2.77h-3.58zM500.98 129.21h3.58v2.77h-3.58zM503.95 129.21h3.58v2.77h-3.58zM545.60 129.21h3.58v2.77h-3.58zM444.45 124.87h3.58v2.77h-3.58zM453.38 124.87h3.58v2.77h-3.58zM459.32 124.87h3.58v2.77h-3.58zM477.18 124.87h3.58v2.77h-3.58zM521.80 124.87h3.58v2.77h-3.58zM554.52 124.87h2.98v2.77h-2.98zM441.48 122.70h3.58v2.77h-3.58zM492.05 122.70h3.58v2.77h-3.58zM498.00 122.70h3.58v2.77h-3.58zM536.67 122.70h3.58v2.77h-3.58zM450.40 120.53h3.58v2.77h-3.58zM465.27 120.53h3.58v2.77h-3.58zM512.88 120.53h3.58v2.77h-3.58zM518.83 120.53h3.58v2.77h-3.58zM554.52 120.53h2.98v2.77h-2.98zM468.25 118.36h3.58v2.77h-3.58zM480.15 118.36h3.58v2.77h-3.58zM483.12 118.36h3.58v2.77h-3.58zM495.02 118.36h3.58v2.77h-3.58zM503.95 118.36h3.58v2.77h-3.58zM506.93 118.36h3.58v2.77h-3.58zM527.75 118.36h3.58v2.77h-3.58zM533.70 118.36h3.58v2.77h-3.58zM456.35 116.19h3.58v2.77h-3.58zM471.23 116.19h3.58v2.77h-3.58zM483.12 116.19h3.58v2.77h-3.58zM527.75 116.19h3.58v2.77h-3.58zM551.55 116.19h3.58v2.77h-3.58zM444.45 114.02h3.58v2.77h-3.58zM450.40 114.02h3.58v2.77h-3.58zM477.18 114.02h3.58v2.77h-3.58zM539.65 114.02h3.58v2.77h-3.58zM554.52 114.02h2.98v2.77h-2.98zM453.38 111.85h3.58v2.77h-3.58zM456.35 111.85h3.58v2.77h-3.58zM459.32 111.85h3.58v2.77h-3.58zM468.25 111.85h3.58v2.77h-3.58zM489.07 111.85h3.58v2.77h-3.58zM509.90 111.85h3.58v2.77h-3.58zM527.75 111.85h3.58v2.77h-3.58zM459.32 109.68h3.58v2.77h-3.58zM521.80 109.68h3.58v2.77h-3.58zM438.50 107.51h3.58v2.77h-3.58zM459.32 107.51h3.58v2.77h-3.58zM474.20 107.51h3.58v2.77h-3.58zM486.10 107.51h3.58v2.77h-3.58zM539.65 107.51h3.58v2.77h-3.58zM548.58 107.51h3.58v2.77h-3.58zM551.55 107.51h3.58v2.77h-3.58zM471.23 105.34h3.58v2.77h-3.58zM498.00 105.34h3.58v2.77h-3.58zM527.75 105.34h3.58v2.77h-3.58zM539.65 105.34h3.58v2.77h-3.58zM542.62 105.34h3.58v2.77h-3.58zM545.60 105.34h3.58v2.77h-3.58zM551.55 105.34h3.58v2.77h-3.58zM453.38 103.17h3.58v2.77h-3.58zM489.07 103.17h3.58v2.77h-3.58zM515.85 103.17h3.58v2.77h-3.58zM524.77 103.17h3.58v2.77h-3.58zM530.73 103.17h3.58v2.77h-3.58zM542.62 103.17h3.58v2.77h-3.58zM545.60 103.17h3.58v2.77h-3.58zM438.50 101.00h3.58v2.77h-3.58zM450.40 101.00h3.58v2.77h-3.58zM462.30 101.00h3.58v2.77h-3.58zM492.05 101.00h3.58v2.77h-3.58zM498.00 101.00h3.58v2.77h-3.58zM536.67 101.00h3.58v2.77h-3.58z"/>
<path fill="#0043ff" d="M495.02 185.63h3.58v2.17h-3.58zM503.95 185.63h3.58v2.17h-3.58zM506.93 185.63h3.58v2.17h-3.58zM509.90 185.63h3.58v2.17h-3.58zM515.85 185.63h3.58v2.17h-3.58zM542.62 185.63h3.58v2.17h-3.58zM447.43 183.46h3.58v2.77h-3.58zM453.38 183.46h3.58v2.77h-3.58zM462.30 183.46h3.58v2.77h-3.58zM527.75 183.46h3.58v2.77h-3.58zM548.58 183.46h3.58v2.77h-3.58zM554.52 183.46h2.98v2.77h-2.98zM471.23 181.29h3.58v2.77h-3.58zM477.18 181.29h3.58v2.77h-3.58zM509.90 181.29h3.58v2.77h-3.58zM515.85 181.29h3.58v2.77h-3.58zM521.80 181.29h3.58v2.77h-3.58zM530.73 181.29h3.58v2.77h-3.58zM548.58 181.29h3.58v2.77h-3.58zM483.12 179.12h3.58v2.77h-3.58zM492.05 179.12h3.58v2.77h-3.58zM536.67 179.12h3.58v2.77h-3.58zM462.30 176.95h3.58v2.77h-3.58zM471.23 176.95h3.58v2.77h-3.58zM480.15 176.95h3.58v2.77h-3.58zM545.60 176.95h3.58v2.77h-3.58zM453.38 174.78h3.58v2.77h-3.58zM471.23 174.78h3.58v2.77h-3.58zM474.20 174.78h3.58v2.77h-3.58zM477.18 174.78h3.58v2.77h-3.58zM533.70 174.78h3.58v2.77h-3.58zM521.80 172.61h3.58v2.77h-3.58zM444.45 170.44h3.58v2.77h-3.58zM471.23 170.44h3.58v2.77h-3.58zM515.85 170.44h3.58v2.77h-3.58zM530.73 170.44h3.58v2.77h-3.58zM539.65 170.44h3.58v2.77h-3.58zM548.58 170.44h3.58v2.77h-3.58zM441.48 168.27h3.58v2.77h-3.58zM456.35 168.27h3.58v2.77h-3.58zM492.05 168.27h3.58v2.77h-3.58zM524.77 168.27h3.58v2.77h-3.58zM536.67 168.27h3.58v2.77h-3.58zM539.65 168.27h3.58v2.77h-3.58zM554.52 168.27h2.98v2.77h-2.98zM453.38 166.10h3.58v2.77h-3.58zM462.30 166.10h3.58v2.77h-3.58zM489.07 166.10h3.58v2.77h-3.58zM498.00 166.10h3.58v2.77h-3.58zM512.88 166.10h3.58v2.77h-3.58zM515.85 166.10h3.58v2.77h-3.58zM527.75 166.10h3.58v2.77h-3.58zM438.50 163.93h3.58v2.77h-3.58zM441.48 163.93h3.58v2.77h-3.58zM453.38 163.93h3.58v2.77h-3.58zM459.32 163.93h3.58v2.77h-3.58zM483.12 163.93h3.58v2.77h-3.58zM492.05 163.93h3.58v2.77h-3.58zM495.02 163.93h3.58v2.77h-3.58zM503.95 163.93h3.58v2.77h-3.58zM518.83 163.93h3.58v2.77h-3.58zM524.77 163.93h3.58v2.77h-3.58zM542.62 163.93h3.58v2.77h-3.58zM438.50 161.76h3.58v2.77h-3.58zM450.40 161.76h3.58v2.77h-3.58zM459.32 161.76h3.58v2.77h-3.58zM483.12 161.76h3.58v2.77h-3.58zM492.05 161.76h3.58v2.77h-3.58zM512.88 161.76h3.58v2.77h-3.58zM524.77 161.76h3.58v2.77h-3.58zM462.30 159.59h3.58v2.77h-3.58zM492.05 159.59h3.58v2.77h-3.58zM498.00 159.59h3.58v2.77h-3.58zM509.90 159.59h3.58v2.77h-3.58zM524.77 159.59h3.58v2.77h-3.58zM533.70 159.59h3.58v2.77h-3.58zM542.62 159.59h3.58v2.77h-3.58zM545.60 159.59h3.58v2.77h-3.58zM450.40 157.42h3.58v2.77h-3.58zM486.10 157.42h3.58v2.77h-3.58zM515.85 157.42h3.58v2.77h-3.58zM551.55 157.42h3.58v2.77h-3.58zM447.43 155.25h3.58v2.77h-3.58zM483.12 155.25h3.58v2.77h-3.58zM495.02 155.25h3.58v2.77h-3.58zM503.95 155.25h3.58v2.77h-3.58zM512.88 155.25h3.58v2.77h-3.58zM515.85 155.25h3.58v2.77h-3.58zM521.80 155.25h3.58v2.77h-3.58zM438.50 153.08h3.58v2.77h-3.58zM444.45 153.08h3.58v2.77h-3.58zM468.25 153.08h3.58v2.77h-3.58zM489.07 153.08h3.58v2.77h-3.58zM518.83 153.08h3.58v2.77h-3.58zM524.77 153.08h3.58v2.77h-3.58zM536.67 153.08h3.58v2.77h-3.58zM462.30 150.91h3.58v2.77h-3.58zM465.27 150.91h3.58v2.77h-3.58zM506.93 150.91h3.58v2.77h-3.58zM554.52 150.91h2.98v2.77h-2.98zM459.32 148.74h3.58v2.77h-3.58zM498.00 148.74h3.58v2.77h-3.58zM515.85 148.74h3.58v2.77h-3.58zM518.83 148.74h3.58v2.77h-3.58zM521.80 148.74h3.58v2.77h-3.58zM447.43 146.57h3.58v2.77h-3.58zM512.88 146.57h3.58v2.77h-3.58zM518.83 146.57h3.58v2.77h-3.58zM527.75 146.57h3.58v2.77h-3.58zM480.15 144.40h3.58v2.77h-3.58zM489.07 144.40h3.58v2.77h-3.58zM509.90 144.40h3.58v2.77h-3.58zM518.83 144.40h3.58v2.77h-3.58zM527.75 144.40h3.58v2.77h-3.58zM530.73 144.40h3.58v2.77h-3.58zM539.65 144.40h3.58v2.77h-3.58zM551.55 144.40h3.58v2.77h-3.58zM438.50 142.23h3.58v2.77h-3.58zM441.48 142.23h3.58v2.77h-3.58zM468.25 142.23h3.58v2.77h-3.58zM471.23 142.23h3.58v2.77h-3.58zM518.83 142.23h3.58v2.77h-3.58zM530.73 142.23h3.58v2.77h-3.58zM542.62 142.23h3.58v2.77h-3.58zM548.58 142.23h3.58v2.77h-3.58zM450.40 140.06h3.58v2.77h-3.58zM456.35 140.06h3.58v2.77h-3.58zM483.12 140.06h3.58v2.77h-3.58zM503.95 140.06h3.58v2.77h-3.58zM512.88 140.06h3.58v2.77h-3.58zM527.75 140.06h3.58v2.77h-3.58zM530.73 140.06h3.58v2.77h-3.58zM533.70 140.06h3.58v2.77h-3.58zM551.55 140.06h3.58v2.77h-3.58zM453.38 137.89h3.58v2.77h-3.58zM471.23 137.89h3.58v2.77h-3.58zM480.15 137.89h3.58v2.77h-3.58zM486.10 137.89h3.58v2.77h-3.58zM492.05 137.89h3.58v2.77h-3.58zM500.98 137.89h3.58v2.77h-3.58zM503.95 137.89h3.58v2.77h-3.58zM506.93 137.89h3.58v2.77h-3.58zM518.83 137.89h3.58v2.77h-3.58zM551.55 137.89h3.58v2.77h-3.58zM447.43 135.72h3.58v2.77h-3.58zM521.80 135.72h3.58v2.77h-3.58zM500.98 133.55h3.58v2.77h-3.58zM551.55 133.55h3.58v2.77h-3.58zM438.50 131.38h3.58v2.77h-3.58zM444.45 131.38h3.58v2.77h-3.58zM450.40 131.38h3.58v2.77h-3.58zM498.00 131.38h3.58v2.77h-3.58zM527.75 131.38h3.58v2.77h-3.58zM542.62 131.38h3.58v2.77h-3.58zM545.60 131.38h3.58v2.77h-3.58zM438.50 129.21h3.58v2.77h-3.58zM471.23 129.21h3.58v2.77h-3.58zM474.20 129.21h3.58v2.77h-3.58zM483.12 129.21h3.58v2.77h-3.58zM506.93 129.21h3.58v2.77h-3.58zM509.90 129.21h3.58v2.77h-3.58zM524.77 129.21h3.58v2.77h-3.58zM530.73 129.21h3.58v2.77h-3.58zM533.70 129.21h3.58v2.77h-3.58zM536.67 129.21h3.58v2.77h-3.58zM441.48 127.04h3.58v2.77h-3.58zM447.43 127.04h3.58v2.77h-3.58zM465.27 127.04h3.58v2.77h-3.58zM483.12 127.04h3.58v2.77h-3.58zM506.93 127.04h3.58v2.77h-3.58zM554.52 127.04h2.98v2.77h-2.98zM486.10 124.87h3.58v2.77h-3.58zM489.07 124.87h3.58v2.77h-3.58zM506.93 124.87h3.58v2.77h-3.58zM509.90 124.87h3.58v2.77h-3.58zM539.65 124.87h3.58v2.77h-3.58zM447.43 122.70h3.58v2.77h-3.58zM462.30 122.70h3.58v2.77h-3.58zM465.27 122.70h3.58v2.77h-3.58zM477.18 122.70h3.58v2.77h-3.58zM489.07 122.70h3.58v2.77h-3.58zM509.90 122.70h3.58v2.77h-3.58zM459.32 120.53h3.58v2.77h-3.58zM474.20 120.53h3.58v2.77h-3.58zM524.77 120.53h3.58v2.77h-3.58zM539.65 120.53h3.58v2.77h-3.58zM551.55 120.53h3.58v2.77h-3.58zM444.45 118.36h3.58v2.77h-3.58zM456.35 118.36h3.58v2.77h-3.58zM459.32 118.36h3.58v2.77h-3.58zM471.23 118.36h3.58v2.77h-3.58zM524.77 118.36h3.58v2.77h-3.58zM450.40 116.19h3.58v2.77h-3.58zM480.15 116.19h3.58v2.77h-3.58zM486.10 116.19h3.58v2.77h-3.58zM489.07 116.19h3.58v2.77h-3.58zM518.83 116.19h3.58v2.77h-3.58zM539.65 116.19h3.58v2.77h-3.58zM542.62 116.19h3.58v2.77h-3.58zM545.60 116.19h3.58v2.77h-3.58zM468.25 114.02h3.58v2.77h-3.58zM480.15 114.02h3.58v2.77h-3.58zM483.12 114.02h3.58v2.77h-3.58zM489.07 114.02h3.58v2.77h-3.58zM518.83 114.02h3.58v2.77h-3.58zM524.77 114.02h3.58v2.77h-3.58zM551.55 114.02h3.58v2.77h-3.58zM447.43 111.85h3.58v2.77h-3.58zM465.27 111.85h3.58v2.77h-3.58zM471.23 111.85h3.58v2.77h-3.58zM498.00 111.85h3.58v2.77h-3.58zM506.93 111.85h3.58v2.77h-3.58zM524.77 111.85h3.58v2.77h-3.58zM548.58 111.85h3.58v2.77h-3.58zM444.45 109.68h3.58v2.77h-3.58zM462.30 109.68h3.58v2.77h-3.58zM465.27 109.68h3.58v2.77h-3.58zM483.12 109.68h3.58v2.77h-3.58zM503.95 109.68h3.58v2.77h-3.58zM533.70 109.68h3.58v2.77h-3.58zM551.55 109.68h3.58v2.77h-3.58zM554.52 109.68h2.98v2.77h-2.98zM518.83 107.51h3.58v2.77h-3.58zM524.77 107.51h3.58v2.77h-3.58zM438.50 105.34h3.58v2.77h-3.58zM450.40 105.34h3.58v2.77h-3.58zM468.25 105.34h3.58v2.77h-3.58zM477.18 105.34h3.58v2.77h-3.58zM500.98 105.34h3.58v2.77h-3.58zM554.52 105.34h2.98v2.77h-2.98zM441.48 103.17h3.58v2.77h-3.58zM444.45 103.17h3.58v2.77h-3.58zM456.35 103.17h3.58v2.77h-3.58zM465.27 103.17h3.58v2.77h-3.58zM486.10 103.17h3.58v2.77h-3.58zM554.52 103.17h2.98v2.77h-2.98zM441.48 101.00h3.58v2.77h-3.58zM459.32 101.00h3.58v2.77h-3.58zM471.23 101.00h3.58v2.77h-3.58zM500.98 101.00h3.58v2.77h-3.58z"/>
<path fill="#0053ff" d="M444.45 185.63h3.58v2.17h-3.58zM453.38 185.63h3.58v2.17h-3.58zM477.18 185.63h3.58v2.17h-3.58zM492.05 185.63h3.58v2.17h-3.58zM521.80 185.63h3.58v2.17h-3.58zM450.40 183.46h3.58v2.77h-3.58zM456.35 183.46h3.58v2.77h-3.58zM468.25 183.46h3.58v2.77h-3.58zM477.18 183.46h3.58v2.77h-3.58zM506.93 183.46h3.58v2.77h-3.58zM551.55 183.46h3.58v2.77h-3.58zM453.38 181.29h3.58v2.77h-3.58zM486.10 181.29h3.58v2.77h-3.58zM489.07 181.29h3.58v2.77h-3.58zM500.98 181.29h3.58v2.77h-3.58zM554.52 181.29h2.98v2.77h-2.98zM438.50 179.12h3.58v2.77h-3.58zM453.38 179.12h3.58v2.77h-3.58zM477.18 179.12h3.58v2.77h-3.58zM489.07 179.12h3.58v2.77h-3.58zM498.00 179.12h3.58v2.77h-3.58zM524.77 179.12h3.58v2.77h-3.58zM530.73 179.12h3.58v2.77h-3.58zM441.48 176.95h3.58v2.77h-3.58zM444.45 176.95h3.58v2.77h-3.58zM453.38 176.95h3.58v2.77h-3.58zM483.12 176.95h3.58v2.77h-3.58zM500.98 176.95h3.58v2.77h-3.58zM447.43 174.78h3.58v2.77h-3.58zM450.40 174.78h3.58v2.77h-3.58zM495.02 174.78h3.58v2.77h-3.58zM512.88 174.78h3.58v2.77h-3.58zM548.58 174.78h3.58v2.77h-3.58zM465.27 172.61h3.58v2.77h-3.58zM477.18 172.61h3.58v2.77h-3.58zM551.55 172.61h3.58v2.77h-3.58zM489.07 170.44h3.58v2.77h-3.58zM495.02 170.44h3.58v2.77h-3.58zM503.95 170.44h3.58v2.77h-3.58zM518.83 170.44h3.58v2.77h-3.58zM527.75 170.44h3.58v2.77h-3.58zM536.67 170.44h3.58v2.77h-3.58zM542.62 170.44h3.58v2.77h-3.58zM551.55 170.44h3.58v2.77h-3.58zM530.73 168.27h3.58v2.77h-3.58zM483.12 166.10h3.58v2.77h-3.58zM524.77 166.10h3.58v2.77h-3.58zM447.43 163.93h3.58v2.77h-3.58zM477.18 163.93h3.58v2.77h-3.58zM480.15 163.93h3.58v2.77h-3.58zM486.10 163.93h3.58v2.77h-3.58zM551.55 163.93h3.58v2.77h-3.58zM462.30 161.76h3.58v2.77h-3.58zM480.15 161.76h3.58v2.77h-3.58zM495.02 161.76h3.58v2.77h-3.58zM527.75 161.76h3.58v2.77h-3.58zM530.73 161.76h3.58v2.77h-3.58zM536.67 161.76h3.58v2.77h-3.58zM456.35 159.59h3.58v2.77h-3.58zM459.32 159.59h3.58v2.77h-3.58zM477.18 159.59h3.58v2.77h-3.58zM480.15 159.59h3.58v2.77h-3.58zM506.93 159.59h3.58v2.77h-3.58zM459.32 157.42h3.58v2.77h-3.58zM465.27 157.42h3.58v2.77h-3.58zM471.23 157.42h3.58v2.77h-3.58zM474.20 157.42h3.58v2.77h-3.58zM500.98 157.42h3.58v2.77h-3.58zM524.77 157.42h3.58v2.77h-3.58zM533.70 157.42h3.58v2.77h-3.58zM539.65 157.42h3.58v2.77h-3.58zM459.32 155.25h3.58v2.77h-3.58zM462.30 155.25h3.58v2.77h-3.58zM474.20 155.25h3.58v2.77h-3.58zM489.07 155.25h3.58v2.77h-3.58zM498.00 155.25h3.58v2.77h-3.58zM530.73 155.25h3.58v2.77h-3.58zM533.70 155.25h3.58v2.77h-3.58zM450.40 153.08h3.58v2.77h-3.58zM456.35 153.08h3.58v2.77h-3.58zM492.05 153.08h3.58v2.77h-3.58zM503.95 153.08h3.58v2.77h-3.58zM506.93 153.08h3.58v2.77h-3.58zM539.65 153.08h3.58v2.77h-3.58zM545.60 153.08h3.58v2.77h-3.58zM441.48 150.91h3.58v2.77h-3.58zM444.45 150.91h3.58v2.77h-3.58zM447.43 150.91h3.58v2.77h-3.58zM450.40 150.91h3.58v2.77h-3.58zM459.32 150.91h3.58v2.77h-3.58zM527.75 150.91h3.58v2.77h-3.58zM444.45 148.74h3.58v2.77h-3.58zM503.95 148.74h3.58v2.77h-3.58zM512.88 148.74h3.58v2.77h-3.58zM545.60 148.74h3.58v2.77h-3.58zM450.40 146.57h3.58v2.77h-3.58zM459.32 146.57h3.58v2.77h-3.58zM465.27 146.57h3.58v2.77h-3.58zM492.05 146.57h3.58v2.77h-3.58zM495.02 146.57h3.58v2.77h-3.58zM521.80 146.57h3.58v2.77h-3.58zM441.48 144.40h3.58v2.77h-3.58zM444.45 144.40h3.58v2.77h-3.58zM456.35 144.40h3.58v2.77h-3.58zM536.67 144.40h3.58v2.77h-3.58zM545.60 144.40h3.58v2.77h-3.58zM489.07 142.23h3.58v2.77h-3.58zM492.05 142.23h3.58v2.77h-3.58zM503.95 142.23h3.58v2.77h-3.58zM524.77 142.23h3.58v2.77h-3.58zM539.65 142.23h3.58v2.77h-3.58zM554.52 142.23h2.98v2.77h-2.98zM477.18 140.06h3.58v2.77h-3.58zM480.15 140.06h3.58v2.77h-3.58zM486.10 140.06h3.58v2.77h-3.58zM500.98 140.06h3.58v2.77h-3.58zM515.85 140.06h3.58v2.77h-3.58zM444.45 137.89h3.58v2.77h-3.58zM489.07 137.89h3.58v2.77h-3.58zM495.02 137.89h3.58v2.77h-3.58zM554.52 137.89h2.98v2.77h-2.98zM480.15 135.72h3.58v2.77h-3.58zM512.88 135.72h3.58v2.77h-3.58zM542.62 135.72h3.58v2.77h-3.58zM554.52 135.72h2.98v2.77h-2.98zM438.50 133.55h3.58v2.77h-3.58zM456.35 133.55h3.58v2.77h-3.58zM468.25 133.55h3.58v2.77h-3.58zM495.02 133.55h3.58v2.77h-3.58zM515.85 133.55h3.58v2.77h-3.58zM533.70 133.55h3.58v2.77h-3.58zM554.52 133.55h2.98v2.77h-2.98zM447.43 131.38h3.58v2.77h-3.58zM471.23 131.38h3.58v2.77h-3.58zM477.18 131.38h3.58v2.77h-3.58zM489.07 131.38h3.58v2.77h-3.58zM509.90 131.38h3.58v2.77h-3.58zM515.85 131.38h3.58v2.77h-3.58zM533.70 131.38h3.58v2.77h-3.58zM539.65 131.38h3.58v2.77h-3.58zM447.43 129.21h3.58v2.77h-3.58zM489.07 129.21h3.58v2.77h-3.58zM518.83 129.21h3.58v2.77h-3.58zM542.62 129.21h3.58v2.77h-3.58zM548.58 129.21h3.58v2.77h-3.58zM438.50 127.04h3.58v2.77h-3.58zM453.38 127.04h3.58v2.77h-3.58zM471.23 127.04h3.58v2.77h-3.58zM495.02 127.04h3.58v2.77h-3.58zM512.88 127.04h3.58v2.77h-3.58zM524.77 127.04h3.58v2.77h-3.58zM533.70 127.04h3.58v2.77h-3.58zM551.55 127.04h3.58v2.77h-3.58zM450.40 124.87h3.58v2.77h-3.58zM480.15 124.87h3.58v2.77h-3.58zM542.62 124.87h3.58v2.77h-3.58zM545.60 124.87h3.58v2.77h-3.58zM548.58 124.87h3.58v2.77h-3.58zM438.50 122.70h3.58v2.77h-3.58zM444.45 122.70h3.58v2.77h-3.58zM471.23 122.70h3.58v2.77h-3.58zM486.10 122.70h3.58v2.77h-3.58zM518.83 122.70h3.58v2.77h-3.58zM441.48 120.53h3.58v2.77h-3.58zM447.43 120.53h3.58v2.77h-3.58zM480.15 120.53h3.58v2.77h-3.58zM483.12 120.53h3.58v2.77h-3.58zM489.07 120.53h3.58v2.77h-3.58zM492.05 120.53h3.58v2.77h-3.58zM495.02 120.53h3.58v2.77h-3.58zM498.00 120.53h3.58v2.77h-3.58zM521.80 120.53h3.58v2.77h-3.58zM515.85 118.36h3.58v2.77h-3.58zM539.65 118.36h3.58v2.77h-3.58zM554.52 118.36h2.98v2.77h-2.98zM444.45 116.19h3.58v2.77h-3.58zM465.27 116.19h3.58v2.77h-3.58zM474.20 116.19h3.58v2.77h-3.58zM495.02 116.19h3.58v2.77h-3.58zM441.48 114.02h3.58v2.77h-3.58zM492.05 114.02h3.58v2.77h-3.58zM498.00 114.02h3.58v2.77h-3.58zM509.90 114.02h3.58v2.77h-3.58zM512.88 114.02h3.58v2.77h-3.58zM533.70 114.02h3.58v2.77h-3.58zM545.60 114.02h3.58v2.77h-3.58zM441.48 111.85h3.58v2.77h-3.58zM444.45 111.85h3.58v2.77h-3.58zM483.12 111.85h3.58v2.77h-3.58zM495.02 111.85h3.58v2.77h-3.58zM521.80 111.85h3.58v2.77h-3.58zM438.50 109.68h3.58v2.77h-3.58zM447.43 109.68h3.58v2.77h-3.58zM500.98 109.68h3.58v2.77h-3.58zM509.90 109.68h3.58v2.77h-3.58zM512.88 109.68h3.58v2.77h-3.58zM542.62 109.68h3.58v2.77h-3.58zM495.02 107.51h3.58v2.77h-3.58zM503.95 107.51h3.58v2.77h-3.58zM512.88 107.51h3.58v2.77h-3.58zM509.90 105.34h3.58v2.77h-3.58zM524.77 105.34h3.58v2.77h-3.58zM533.70 105.34h3.58v2.77h-3.58zM468.25 103.17h3.58v2.77h-3.58zM471.23 103.17h3.58v2.77h-3.58zM533.70 103.17h3.58v2.77h-3.58zM477.18 101.00h3.58v2.77h-3.58zM521.80 101.00h3.58v2.77h-3.58zM527.75 101.00h3.58v2.77h-3.58z"/>
<path fill="#0063ff" d="M447.43 185.63h3.58v2.17h-3.58zM459.32 185.63h3.58v2.17h-3.58zM465.27 185.63h3.58v2.17h-3.58zM480.15 185.63h3.58v2.17h-3.58zM489.07 185.63h3.58v2.17h-3.58zM533.70 185.63h3.58v2.17h-3.58zM551.55 185.63h3.58v2.17h-3.58zM554.52 185.63h2.98v2.17h-2.98zM438.50 183.46h3.58v2.77h-3.58zM465.27 183.46h3.58v2.77h-3.58zM480.15 183.46h3.58v2.77h-3.58zM486.10 183.46h3.58v2.77h-3.58zM500.98 183.46h3.58v2.77h-3.58zM515.85 183.46h3.58v2.77h-3.58zM524.77 183.46h3.58v2.77h-3.58zM545.60 183.46h3.58v2.77h-3.58zM447.43 181.29h3.58v2.77h-3.58zM459.32 181.29h3.58v2.77h-3.58zM462.30 181.29h3.58v2.77h-3.58zM536.67 181.29h3.58v2.77h-3.58zM551.55 181.29h3.58v2.77h-3.58zM450.40 179.12h3.58v2.77h-3.58zM456.35 179.12h3.58v2.77h-3.58zM471.23 179.12h3.58v2.77h-3.58zM474.20 179.12h3.58v2.77h-3.58zM500.98 179.12h3.58v2.77h-3.58zM539.65 179.12h3.58v2.77h-3.58zM545.60 179.12h3.58v2.77h-3.58zM554.52 179.12h2.98v2.77h-2.98zM465.27 176.95h3.58v2.77h-3.58zM495.02 176.95h3.58v2.77h-3.58zM506.93 176.95h3.58v2.77h-3.58zM536.67 176.95h3.58v2.77h-3.58zM500.98 174.78h3.58v2.77h-3.58zM506.93 174.78h3.58v2.77h-3.58zM515.85 174.78h3.58v2.77h-3.58zM524.77 174.78h3.58v2.77h-3.58zM539.65 174.78h3.58v2.77h-3.58zM542.62 174.78h3.58v2.77h-3.58zM438.50 172.61h3.58v2.77h-3.58zM474.20 172.61h3.58v2.77h-3.58zM495.02 172.61h3.58v2.77h-3.58zM527.75 172.61h3.58v2.77h-3.58zM536.67 172.61h3.58v2.77h-3.58zM441.48 170.44h3.58v2.77h-3.58zM462.30 170.44h3.58v2.77h-3.58zM486.10 170.44h3.58v2.77h-3.58zM512.88 170.44h3.58v2.77h-3.58zM524.77 170.44h3.58v2.77h-3.58zM450.40 168.27h3.58v2.77h-3.58zM453.38 168.27h3.58v2.77h-3.58zM465.27 168.27h3.58v2.77h-3.58zM474.20 168.27h3.58v2.77h-3.58zM477.18 168.27h3.58v2.77h-3.58zM503.95 168.27h3.58v2.77h-3.58zM542.62 168.27h3.58v2.77h-3.58zM438.50 166.10h3.58v2.77h-3.58zM441.48 166.10h3.58v2.77h-3.58zM468.25 166.10h3.58v2.77h-3.58zM480.15 166.10h3.58v2.77h-3.58zM492.05 166.10h3.58v2.77h-3.58zM495.02 166.10h3.58v2.77h-3.58zM503.95 166.10h3.58v2.77h-3.58zM545.60 163.93h3.58v2.77h-3.58zM498.00 161.76h3.58v2.77h-3.58zM542.62 161.76h3.58v2.77h-3.58zM554.52 161.76h2.98v2.77h-2.98zM483.12 159.59h3.58v2.77h-3.58zM554.52 159.59h2.98v2.77h-2.98zM506.93 157.42h3.58v2.77h-3.58zM536.67 155.25h3.58v2.77h-3.58zM542.62 155.25h3.58v2.77h-3.58zM551.55 155.25h3.58v2.77h-3.58zM521.80 153.08h3.58v2.77h-3.58zM548.58 153.08h3.58v2.77h-3.58zM512.88 150.91h3.58v2.77h-3.58zM539.65 150.91h3.58v2.77h-3.58zM456.35 148.74h3.58v2.77h-3.58zM477.18 148.74h3.58v2.77h-3.58zM483.12 148.74h3.58v2.77h-3.58zM509.90 148.74h3.58v2.77h-3.58zM524.77 148.74h3.58v2.77h-3.58zM527.75 148.74h3.58v2.77h-3.58zM548.58 148.74h3.58v2.77h-3.58zM456.35 146.57h3.58v2.77h-3.58zM477.18 146.57h3.58v2.77h-3.58zM489.07 146.57h3.58v2.77h-3.58zM506.93 146.57h3.58v2.77h-3.58zM536.67 146.57h3.58v2.77h-3.58zM551.55 146.57h3.58v2.77h-3.58zM450.40 144.40h3.58v2.77h-3.58zM453.38 144.40h3.58v2.77h-3.58zM462.30 144.40h3.58v2.77h-3.58zM468.25 144.40h3.58v2.77h-3.58zM477.18 144.40h3.58v2.77h-3.58zM524.77 144.40h3.58v2.77h-3.58zM548.58 144.40h3.58v2.77h-3.58zM453.38 142.23h3.58v2.77h-3.58zM480.15 142.23h3.58v2.77h-3.58zM533.70 142.23h3.58v2.77h-3.58zM545.60 142.23h3.58v2.77h-3.58zM441.48 140.06h3.58v2.77h-3.58zM509.90 140.06h3.58v2.77h-3.58zM438.50 137.89h3.58v2.77h-3.58zM447.43 137.89h3.58v2.77h-3.58zM474.20 137.89h3.58v2.77h-3.58zM477.18 137.89h3.58v2.77h-3.58zM483.12 137.89h3.58v2.77h-3.58zM512.88 137.89h3.58v2.77h-3.58zM521.80 137.89h3.58v2.77h-3.58zM533.70 137.89h3.58v2.77h-3.58zM536.67 137.89h3.58v2.77h-3.58zM453.38 135.72h3.58v2.77h-3.58zM471.23 135.72h3.58v2.77h-3.58zM518.83 135.72h3.58v2.77h-3.58zM453.38 133.55h3.58v2.77h-3.58zM492.05 133.55h3.58v2.77h-3.58zM453.38 131.38h3.58v2.77h-3.58zM474.20 131.38h3.58v2.77h-3.58zM495.02 131.38h3.58v2.77h-3.58zM512.88 131.38h3.58v2.77h-3.58zM524.77 131.38h3.58v2.77h-3.58zM530.73 131.38h3.58v2.77h-3.58zM536.67 131.38h3.58v2.77h-3.58zM554.52 131.38h2.98v2.77h-2.98zM453.38 129.21h3.58v2.77h-3.58zM498.00 129.21h3.58v2.77h-3.58zM515.85 129.21h3.58v2.77h-3.58zM474.20 127.04h3.58v2.77h-3.58zM492.05 127.04h3.58v2.77h-3.58zM509.90 127.04h3.58v2.77h-3.58zM518.83 127.04h3.58v2.77h-3.58zM465.27 124.87h3.58v2.77h-3.58zM471.23 124.87h3.58v2.77h-3.58zM474.20 124.87h3.58v2.77h-3.58zM495.02 124.87h3.58v2.77h-3.58zM551.55 124.87h3.58v2.77h-3.58zM506.93 122.70h3.58v2.77h-3.58zM515.85 122.70h3.58v2.77h-3.58zM551.55 122.70h3.58v2.77h-3.58zM438.50 120.53h3.58v2.77h-3.58zM500.98 120.53h3.58v2.77h-3.58zM509.90 120.53h3.58v2.77h-3.58zM536.67 120.53h3.58v2.77h-3.58zM542.62 120.53h3.58v2.77h-3.58zM441.48 118.36h3.58v2.77h-3.58zM453.38 118.36h3.58v2.77h-3.58zM477.18 118.36h3.58v2.77h-3.58zM486.10 118.36h3.58v2.77h-3.58zM441.48 116.19h3.58v2.77h-3.58zM447.43 116.19h3.58v2.77h-3.58zM459.32 116.19h3.58v2.77h-3.58zM498.00 116.19h3.58v2.77h-3.58zM503.95 116.19h3.58v2.77h-3.58zM506.93 116.19h3.58v2.77h-3.58zM512.88 116.19h3.58v2.77h-3.58zM524.77 116.19h3.58v2.77h-3.58zM530.73 116.19h3.58v2.77h-3.58zM533.70 116.19h3.58v2.77h-3.58zM453.38 114.02h3.58v2.77h-3.58zM474.20 114.02h3.58v2.77h-3.58zM486.10 114.02h3.58v2.77h-3.58zM495.02 114.02h3.58v2.77h-3.58zM521.80 114.02h3.58v2.77h-3.58zM474.20 111.85h3.58v2.77h-3.58zM486.10 111.85h3.58v2.77h-3.58zM503.95 111.85h3.58v2.77h-3.58zM536.67 111.85h3.58v2.77h-3.58zM441.48 109.68h3.58v2.77h-3.58zM524.77 109.68h3.58v2.77h-3.58zM527.75 109.68h3.58v2.77h-3.58zM539.65 109.68h3.58v2.77h-3.58zM545.60 109.68h3.58v2.77h-3.58zM453.38 107.51h3.58v2.77h-3.58zM509.90 107.51h3.58v2.77h-3.58zM527.75 107.51h3.58v2.77h-3.58zM545.60 107.51h3.58v2.77h-3.58zM480.15 105.34h3.58v2.77h-3.58zM503.95 105.34h3.58v2.77h-3.58zM536.67 105.34h3.58v2.77h-3.58zM438.50 103.17h3.58v2.77h-3.58zM474.20 103.17h3.58v2.77h-3.58zM474.20 101.00h3.58v2.77h-3.58z"/>
<path fill="#0073ff" d="M474.20 185.63h3.58v2.17h-3.58zM536.67 185.63h3.58v2.17h-3.58zM441.48 183.46h3.58v2.77h-3.58zM471.23 183.46h3.58v2.77h-3.58zM492.05 183.46h3.58v2.77h-3.58zM530.73 183.46h3.58v2.77h-3.58zM483.12 181.29h3.58v2.77h-3.58zM495.02 181.29h3.58v2.77h-3.58zM498.00 181.29h3.58v2.77h-3.58zM495.02 179.12h3.58v2.77h-3.58zM503.95 179.12h3.58v2.77h-3.58zM518.83 179.12h3.58v2.77h-3.58zM468.25 176.95h3.58v2.77h-3.58zM441.48 174.78h3.58v2.77h-3.58zM483.12 174.78h3.58v2.77h-3.58zM486.10 174.78h3.58v2.77h-3.58zM554.52 174.78h2.98v2.77h-2.98zM492.05 172.61h3.58v2.77h-3.58zM503.95 172.61h3.58v2.77h-3.58zM512.88 172.61h3.58v2.77h-3.58zM518.83 172.61h3.58v2.77h-3.58zM533.70 172.61h3.58v2.77h-3.58zM438.50 170.44h3.58v2.77h-3.58zM453.38 170.44h3.58v2.77h-3.58zM506.93 168.27h3.58v2.77h-3.58zM548.58 168.27h3.58v2.77h-3.58zM477.18 166.10h3.58v2.77h-3.58zM518.83 166.10h3.58v2.77h-3.58zM530.73 166.10h3.58v2.77h-3.58zM530.73 163.93h3.58v2.77h-3.58zM548.58 163.93h3.58v2.77h-3.58zM554.52 163.93h2.98v2.77h-2.98zM548.58 161.76h3.58v2.77h-3.58zM503.95 159.59h3.58v2.77h-3.58zM536.67 159.59h3.58v2.77h-3.58zM551.55 159.59h3.58v2.77h-3.58zM471.23 155.25h3.58v2.77h-3.58zM495.02 153.08h3.58v2.77h-3.58zM498.00 153.08h3.58v2.77h-3.58zM500.98 153.08h3.58v2.77h-3.58zM515.85 153.08h3.58v2.77h-3.58zM453.38 150.91h3.58v2.77h-3.58zM483.12 150.91h3.58v2.77h-3.58zM530.73 150.91h3.58v2.77h-3.58zM551.55 150.91h3.58v2.77h-3.58zM536.67 148.74h3.58v2.77h-3.58zM486.10 146.57h3.58v2.77h-3.58zM524.77 146.57h3.58v2.77h-3.58zM545.60 146.57h3.58v2.77h-3.58zM438.50 144.40h3.58v2.77h-3.58zM471.23 144.40h3.58v2.77h-3.58zM474.20 144.40h3.58v2.77h-3.58zM486.10 144.40h3.58v2.77h-3.58zM500.98 144.40h3.58v2.77h-3.58zM474.20 142.23h3.58v2.77h-3.58zM500.98 142.23h3.58v2.77h-3.58zM515.85 142.23h3.58v2.77h-3.58zM524.77 140.06h3.58v2.77h-3.58zM441.48 137.89h3.58v2.77h-3.58zM462.30 137.89h3.58v2.77h-3.58zM465.27 137.89h3.58v2.77h-3.58zM509.90 137.89h3.58v2.77h-3.58zM441.48 135.72h3.58v2.77h-3.58zM447.43 133.55h3.58v2.77h-3.58zM471.23 133.55h3.58v2.77h-3.58zM512.88 133.55h3.58v2.77h-3.58zM465.27 131.38h3.58v2.77h-3.58zM506.93 131.38h3.58v2.77h-3.58zM441.48 129.21h3.58v2.77h-3.58zM521.80 129.21h3.58v2.77h-3.58zM551.55 129.21h3.58v2.77h-3.58zM468.25 127.04h3.58v2.77h-3.58zM477.18 127.04h3.58v2.77h-3.58zM480.15 127.04h3.58v2.77h-3.58zM515.85 127.04h3.58v2.77h-3.58zM542.62 127.04h3.58v2.77h-3.58zM438.50 124.87h3.58v2.77h-3.58zM503.95 124.87h3.58v2.77h-3.58zM536.67 124.87h3.58v2.77h-3.58zM512.88 122.70h3.58v2.77h-3.58zM524.77 122.70h3.58v2.77h-3.58zM533.70 122.70h3.58v2.77h-3.58zM548.58 122.70h3.58v2.77h-3.58zM554.52 122.70h2.98v2.77h-2.98zM456.35 120.53h3.58v2.77h-3.58zM477.18 120.53h3.58v2.77h-3.58zM506.93 120.53h3.58v2.77h-3.58zM530.73 120.53h3.58v2.77h-3.58zM545.60 120.53h3.58v2.77h-3.58zM548.58 120.53h3.58v2.77h-3.58zM447.43 118.36h3.58v2.77h-3.58zM465.27 118.36h3.58v2.77h-3.58zM462.30 116.19h3.58v2.77h-3.58zM477.18 116.19h3.58v2.77h-3.58zM492.05 116.19h3.58v2.77h-3.58zM462.30 114.02h3.58v2.77h-3.58zM438.50 111.85h3.58v2.77h-3.58zM539.65 111.85h3.58v2.77h-3.58zM542.62 111.85h3.58v2.77h-3.58zM545.60 111.85h3.58v2.77h-3.58zM456.35 109.68h3.58v2.77h-3.58zM468.25 109.68h3.58v2.77h-3.58zM486.10 109.68h3.58v2.77h-3.58zM498.00 109.68h3.58v2.77h-3.58zM441.48 107.51h3.58v2.77h-3.58zM444.45 107.51h3.58v2.77h-3.58zM447.43 107.51h3.58v2.77h-3.58zM456.35 107.51h3.58v2.77h-3.58zM471.23 107.51h3.58v2.77h-3.58zM530.73 107.51h3.58v2.77h-3.58zM465.27 105.34h3.58v2.77h-3.58zM474.20 105.34h3.58v2.77h-3.58zM483.12 105.34h3.58v2.77h-3.58zM515.85 105.34h3.58v2.77h-3.58zM462.30 103.17h3.58v2.77h-3.58zM477.18 103.17h3.58v2.77h-3.58zM492.05 103.17h3.58v2.77h-3.58zM503.95 103.17h3.58v2.77h-3.58zM548.58 103.17h3.58v2.77h-3.58zM444.45 101.00h3.58v2.77h-3.58zM456.35 101.00h3.58v2.77h-3.58zM468.25 101.00h3.58v2.77h-3.58zM483.12 101.00h3.58v2.77h-3.58zM486.10 101.00h3.58v2.77h-3.58zM506.93 101.00h3.58v2.77h-3.58z"/>
<path fill="#0084ff" d="M450.40 185.63h3.58v2.17h-3.58zM518.83 181.29h3.58v2.77h-3.58zM539.65 181.29h3.58v2.77h-3.58zM450.40 176.95h3.58v2.77h-3.58zM456.35 176.95h3.58v2.77h-3.58zM503.95 176.95h3.58v2.77h-3.58zM456.35 172.61h3.58v2.77h-3.58zM506.93 172.61h3.58v2.77h-3.58zM524.77 172.61h3.58v2.77h-3.58zM450.40 170.44h3.58v2.77h-3.58zM509.90 170.44h3.58v2.77h-3.58zM533.70 170.44h3.58v2.77h-3.58zM444.45 168.27h3.58v2.77h-3.58zM509.90 168.27h3.58v2.77h-3.58zM551.55 168.27h3.58v2.77h-3.58zM447.43 166.10h3.58v2.77h-3.58zM554.52 166.10h2.98v2.77h-2.98zM471.23 163.93h3.58v2.77h-3.58zM441.48 159.59h3.58v2.77h-3.58zM465.27 159.59h3.58v2.77h-3.58zM495.02 159.59h3.58v2.77h-3.58zM548.58 159.59h3.58v2.77h-3.58zM441.48 157.42h3.58v2.77h-3.58zM444.45 157.42h3.58v2.77h-3.58zM447.43 157.42h3.58v2.77h-3.58zM530.73 157.42h3.58v2.77h-3.58zM548.58 155.25h3.58v2.77h-3.58zM441.48 153.08h3.58v2.77h-3.58zM453.38 153.08h3.58v2.77h-3.58zM474.20 150.91h3.58v2.77h-3.58zM518.83 150.91h3.58v2.77h-3.58zM548.58 150.91h3.58v2.77h-3.58zM438.50 148.74h3.58v2.77h-3.58zM444.45 146.57h3.58v2.77h-3.58zM483.12 146.57h3.58v2.77h-3.58zM533.70 146.57h3.58v2.77h-3.58zM521.80 144.40h3.58v2.77h-3.58zM486.10 142.23h3.58v2.77h-3.58zM512.88 142.23h3.58v2.77h-3.58zM456.35 137.89h3.58v2.77h-3.58zM465.27 133.55h3.58v2.77h-3.58zM527.75 133.55h3.58v2.77h-3.58zM539.65 133.55h3.58v2.77h-3.58zM492.05 131.38h3.58v2.77h-3.58zM468.25 129.21h3.58v2.77h-3.58zM456.35 124.87h3.58v2.77h-3.58zM500.98 124.87h3.58v2.77h-3.58zM512.88 124.87h3.58v2.77h-3.58zM515.85 124.87h3.58v2.77h-3.58zM518.83 124.87h3.58v2.77h-3.58zM503.95 122.70h3.58v2.77h-3.58zM521.80 122.70h3.58v2.77h-3.58zM512.88 118.36h3.58v2.77h-3.58zM518.83 118.36h3.58v2.77h-3.58zM545.60 118.36h3.58v2.77h-3.58zM548.58 118.36h3.58v2.77h-3.58zM453.38 116.19h3.58v2.77h-3.58zM548.58 116.19h3.58v2.77h-3.58zM456.35 114.02h3.58v2.77h-3.58zM471.23 114.02h3.58v2.77h-3.58zM450.40 111.85h3.58v2.77h-3.58zM462.30 111.85h3.58v2.77h-3.58zM533.70 111.85h3.58v2.77h-3.58zM441.48 105.34h3.58v2.77h-3.58zM495.02 105.34h3.58v2.77h-3.58zM459.32 103.17h3.58v2.77h-3.58zM518.83 103.17h3.58v2.77h-3.58zM453.38 101.00h3.58v2.77h-3.58zM509.90 101.00h3.58v2.77h-3.58zM515.85 101.00h3.58v2.77h-3.58z"/>
<path fill="#0094ff" d="M483.12 185.63h3.58v2.17h-3.58zM444.45 181.29h3.58v2.77h-3.58zM512.88 181.29h3.58v2.77h-3.58zM486.10 176.95h3.58v2.77h-3.58zM441.48 172.61h3.58v2.77h-3.58zM462.30 172.61h3.58v2.77h-3.58zM447.43 168.27h3.58v2.77h-3.58zM450.40 163.93h3.58v2.77h-3.58zM500.98 163.93h3.58v2.77h-3.58zM521.80 163.93h3.58v2.77h-3.58zM438.50 159.59h3.58v2.77h-3.58zM468.25 159.59h3.58v2.77h-3.58zM527.75 159.59h3.58v2.77h-3.58zM495.02 157.42h3.58v2.77h-3.58zM477.18 150.91h3.58v2.77h-3.58zM536.67 150.91h3.58v2.77h-3.58zM542.62 150.91h3.58v2.77h-3.58zM545.60 150.91h3.58v2.77h-3.58zM447.43 148.74h3.58v2.77h-3.58zM465.27 140.06h3.58v2.77h-3.58zM545.60 140.06h3.58v2.77h-3.58zM542.62 137.89h3.58v2.77h-3.58zM456.35 135.72h3.58v2.77h-3.58zM524.77 135.72h3.58v2.77h-3.58zM518.83 133.55h3.58v2.77h-3.58zM483.12 131.38h3.58v2.77h-3.58zM444.45 127.04h3.58v2.77h-3.58zM498.00 127.04h3.58v2.77h-3.58zM483.12 122.70h3.58v2.77h-3.58zM545.60 122.70h3.58v2.77h-3.58zM468.25 120.53h3.58v2.77h-3.58zM527.75 120.53h3.58v2.77h-3.58zM438.50 116.19h3.58v2.77h-3.58zM477.18 111.85h3.58v2.77h-3.58zM542.62 107.51h3.58v2.77h-3.58z"/>
<path fill="#00a4ff" d="M492.05 181.29h3.58v2.77h-3.58zM500.98 166.10h3.58v2.77h-3.58zM551.55 161.76h3.58v2.77h-3.58zM474.20 159.59h3.58v2.77h-3.58zM518.83 155.25h3.58v2.77h-3.58zM462.30 153.08h3.58v2.77h-3.58zM500.98 150.91h3.58v2.77h-3.58zM515.85 150.91h3.58v2.77h-3.58zM468.25 135.72h3.58v2.77h-3.58zM548.58 114.02h3.58v2.77h-3.58zM474.20 109.68h3.58v2.77h-3.58zM536.67 103.17h3.58v2.77h-3.58zM495.02 101.00h3.58v2.77h-3.58z"/>
<path fill="#00b4ff" d="M530.73 185.63h3.58v2.17h-3.58zM447.43 159.59h3.58v2.77h-3.58zM518.83 111.85h3.58v2.77h-3.58z"/>
<path fill="#00c4ff" d="M438.50 185.63h3.58v2.17h-3.58zM489.07 118.36h3.58v2.77h-3.58zM506.93 105.34h3.58v2.77h-3.58z"/>
<path fill="#00d4ff" d="M447.43 179.12h3.58v2.77h-3.58z"/>
<text x="466.8" y="202.6" font-size="10.5" fill="#2b2b2b" text-anchor="middle">10</text>
<text x="433" y="170.9" font-size="10.5" fill="#2b2b2b" text-anchor="end">10</text>
<text x="496.5" y="202.6" font-size="10.5" fill="#2b2b2b" text-anchor="middle">20</text>
<text x="433" y="149.2" font-size="10.5" fill="#2b2b2b" text-anchor="end">20</text>
<text x="526.3" y="202.6" font-size="10.5" fill="#2b2b2b" text-anchor="middle">30</text>
<text x="433" y="127.5" font-size="10.5" fill="#2b2b2b" text-anchor="end">30</text>
<text x="556" y="202.6" font-size="10.5" fill="#2b2b2b" text-anchor="middle">40</text>
<text x="433" y="105.8" font-size="10.5" fill="#2b2b2b" text-anchor="end">40</text>
<text x="497.5" y="221.2" font-size="12.4" fill="#2b2b2b" text-anchor="middle">Input Layer Neuron</text>
<text x="411" y="143.9" font-size="12.4" fill="#2b2b2b" text-anchor="middle" transform="rotate(-90 411 143.9)">Output Layer Neuron</text>
<rect x="588.5" y="101" width="22" height="86.8" fill="url(#jet)" stroke="#262626" stroke-width="0.8"/>
<text x="616.5" y="104.7" font-size="10.5" fill="#2b2b2b" text-anchor="start">1</text>
<text x="616.5" y="148.1" font-size="10.5" fill="#2b2b2b" text-anchor="start">0.5</text>
<text x="616.5" y="191.5" font-size="10.5" fill="#2b2b2b" text-anchor="start">0</text>
<text x="648.5" y="144.4" font-size="12.45" fill="#2b2b2b" text-anchor="middle" transform="rotate(-90 648.5 144.4)">Connection Probability</text>
<text x="498.3" y="92" font-size="14.45" fill="#2b2b2b" text-anchor="middle">Random Initial Connectivity</text>
<rect x="798.7" y="-60" width="119" height="86.8" fill="#000080"/>
<path fill="#000090" d="M852.25 -20.94h3.58v2.77h-3.58zM858.20 -20.94h3.58v2.77h-3.58zM861.18 -20.94h3.58v2.77h-3.58zM864.15 -20.94h3.58v2.77h-3.58zM870.10 -20.94h3.58v2.77h-3.58zM876.05 -20.94h3.58v2.77h-3.58zM884.98 -20.94h3.58v2.77h-3.58zM887.95 -20.94h3.58v2.77h-3.58zM911.75 -20.94h3.58v2.77h-3.58zM843.33 -23.11h3.58v2.77h-3.58zM846.30 -23.11h3.58v2.77h-3.58zM840.35 -25.28h3.58v2.77h-3.58zM831.43 -29.62h3.58v2.77h-3.58zM828.45 -31.79h3.58v2.77h-3.58zM825.48 -33.96h3.58v2.77h-3.58zM822.50 -36.13h3.58v2.77h-3.58zM819.53 -38.30h3.58v2.77h-3.58zM816.55 -40.47h3.58v2.77h-3.58zM813.58 -44.81h3.58v2.77h-3.58zM810.60 -46.98h3.58v2.77h-3.58zM807.62 -51.32h3.58v2.77h-3.58zM804.65 -55.66h3.58v2.77h-3.58zM804.65 -57.83h3.58v2.77h-3.58z"/>
<path fill="#0000a0" d="M855.23 -20.94h3.58v2.77h-3.58zM867.12 -20.94h3.58v2.77h-3.58zM873.08 -20.94h3.58v2.77h-3.58zM879.03 -20.94h3.58v2.77h-3.58zM882.00 -20.94h3.58v2.77h-3.58zM890.93 -20.94h3.58v2.77h-3.58zM893.90 -20.94h3.58v2.77h-3.58zM896.88 -20.94h3.58v2.77h-3.58zM899.85 -20.94h3.58v2.77h-3.58zM902.83 -20.94h3.58v2.77h-3.58zM905.80 -20.94h3.58v2.77h-3.58zM908.78 -20.94h3.58v2.77h-3.58zM914.73 -20.94h2.98v2.77h-2.98zM849.28 -23.11h3.58v2.77h-3.58zM843.33 -25.28h3.58v2.77h-3.58zM837.38 -27.45h3.58v2.77h-3.58zM834.40 -29.62h3.58v2.77h-3.58zM831.43 -31.79h3.58v2.77h-3.58zM822.50 -38.30h3.58v2.77h-3.58zM816.55 -42.64h3.58v2.77h-3.58zM810.60 -49.15h3.58v2.77h-3.58zM807.62 -53.49h3.58v2.77h-3.58zM804.65 -60.00h3.58v2.77h-3.58z"/>
<path fill="#0000b0" d="M852.25 -23.11h3.58v2.77h-3.58zM855.23 -23.11h3.58v2.77h-3.58zM846.30 -25.28h3.58v2.77h-3.58zM840.35 -27.45h3.58v2.77h-3.58zM828.45 -33.96h3.58v2.77h-3.58zM825.48 -36.13h3.58v2.77h-3.58zM819.53 -40.47h3.58v2.77h-3.58zM816.55 -44.81h3.58v2.77h-3.58zM807.62 -55.66h3.58v2.77h-3.58z"/>
<path fill="#0000c0" d="M861.18 -23.11h3.58v2.77h-3.58zM864.15 -23.11h3.58v2.77h-3.58zM870.10 -23.11h3.58v2.77h-3.58zM873.08 -23.11h3.58v2.77h-3.58zM882.00 -23.11h3.58v2.77h-3.58zM887.95 -23.11h3.58v2.77h-3.58zM896.88 -23.11h3.58v2.77h-3.58zM902.83 -23.11h3.58v2.77h-3.58zM905.80 -23.11h3.58v2.77h-3.58zM914.73 -23.11h2.98v2.77h-2.98zM849.28 -25.28h3.58v2.77h-3.58zM837.38 -29.62h3.58v2.77h-3.58zM813.58 -46.98h3.58v2.77h-3.58zM810.60 -51.32h3.58v2.77h-3.58zM807.62 -57.83h3.58v2.77h-3.58z"/>
<path fill="#0000d0" d="M858.20 -23.11h3.58v2.77h-3.58zM867.12 -23.11h3.58v2.77h-3.58zM876.05 -23.11h3.58v2.77h-3.58zM879.03 -23.11h3.58v2.77h-3.58zM884.98 -23.11h3.58v2.77h-3.58zM890.93 -23.11h3.58v2.77h-3.58zM893.90 -23.11h3.58v2.77h-3.58zM899.85 -23.11h3.58v2.77h-3.58zM908.78 -23.11h3.58v2.77h-3.58zM911.75 -23.11h3.58v2.77h-3.58zM843.33 -27.45h3.58v2.77h-3.58zM834.40 -31.79h3.58v2.77h-3.58zM819.53 -42.64h3.58v2.77h-3.58zM813.58 -49.15h3.58v2.77h-3.58zM810.60 -53.49h3.58v2.77h-3.58zM807.62 -60.00h3.58v2.77h-3.58z"/>
<path fill="#0000e1" d="M852.25 -25.28h3.58v2.77h-3.58zM846.30 -27.45h3.58v2.77h-3.58zM831.43 -33.96h3.58v2.77h-3.58zM828.45 -36.13h3.58v2.77h-3.58zM825.48 -38.30h3.58v2.77h-3.58zM822.50 -40.47h3.58v2.77h-3.58zM816.55 -46.98h3.58v2.77h-3.58z"/>
<path fill="#0000f1" d="M855.23 -25.28h3.58v2.77h-3.58zM908.78 -25.28h3.58v2.77h-3.58zM840.35 -29.62h3.58v2.77h-3.58zM837.38 -31.79h3.58v2.77h-3.58zM819.53 -44.81h3.58v2.77h-3.58zM813.58 -51.32h3.58v2.77h-3.58zM810.60 -55.66h3.58v2.77h-3.58zM810.60 -57.83h3.58v2.77h-3.58z"/>
<path fill="#0002ff" d="M858.20 -25.28h3.58v2.77h-3.58zM861.18 -25.28h3.58v2.77h-3.58zM864.15 -25.28h3.58v2.77h-3.58zM870.10 -25.28h3.58v2.77h-3.58zM876.05 -25.28h3.58v2.77h-3.58zM887.95 -25.28h3.58v2.77h-3.58zM890.93 -25.28h3.58v2.77h-3.58zM899.85 -25.28h3.58v2.77h-3.58zM911.75 -25.28h3.58v2.77h-3.58zM825.48 -40.47h3.58v2.77h-3.58zM810.60 -60.00h3.58v2.77h-3.58z"/>
<path fill="#0012ff" d="M867.12 -25.28h3.58v2.77h-3.58zM873.08 -25.28h3.58v2.77h-3.58zM879.03 -25.28h3.58v2.77h-3.58zM882.00 -25.28h3.58v2.77h-3.58zM884.98 -25.28h3.58v2.77h-3.58zM893.90 -25.28h3.58v2.77h-3.58zM896.88 -25.28h3.58v2.77h-3.58zM902.83 -25.28h3.58v2.77h-3.58zM905.80 -25.28h3.58v2.77h-3.58zM914.73 -25.28h2.98v2.77h-2.98zM843.33 -29.62h3.58v2.77h-3.58zM834.40 -33.96h3.58v2.77h-3.58zM828.45 -38.30h3.58v2.77h-3.58zM822.50 -42.64h3.58v2.77h-3.58zM813.58 -53.49h3.58v2.77h-3.58z"/>
<path fill="#0022ff" d="M849.28 -27.45h3.58v2.77h-3.58zM831.43 -36.13h3.58v2.77h-3.58zM834.40 -36.13h3.58v2.77h-3.58zM825.48 -42.64h3.58v2.77h-3.58zM819.53 -46.98h3.58v2.77h-3.58zM816.55 -49.15h3.58v2.77h-3.58z"/>
<path fill="#0033ff" d="M852.25 -27.45h3.58v2.77h-3.58zM861.18 -27.45h3.58v2.77h-3.58zM896.88 -27.45h3.58v2.77h-3.58zM914.73 -27.45h2.98v2.77h-2.98zM846.30 -29.62h3.58v2.77h-3.58zM840.35 -31.79h3.58v2.77h-3.58zM837.38 -33.96h3.58v2.77h-3.58zM813.58 -57.83h3.58v2.77h-3.58z"/>
<path fill="#0043ff" d="M855.23 -27.45h3.58v2.77h-3.58zM858.20 -27.45h3.58v2.77h-3.58zM867.12 -27.45h3.58v2.77h-3.58zM870.10 -27.45h3.58v2.77h-3.58zM876.05 -27.45h3.58v2.77h-3.58zM890.93 -27.45h3.58v2.77h-3.58zM899.85 -27.45h3.58v2.77h-3.58zM905.80 -27.45h3.58v2.77h-3.58zM828.45 -40.47h3.58v2.77h-3.58zM822.50 -44.81h3.58v2.77h-3.58zM819.53 -49.15h3.58v2.77h-3.58zM816.55 -51.32h3.58v2.77h-3.58zM813.58 -55.66h3.58v2.77h-3.58zM813.58 -60.00h3.58v2.77h-3.58z"/>
<path fill="#0053ff" d="M884.98 -27.45h3.58v2.77h-3.58zM887.95 -27.45h3.58v2.77h-3.58zM902.83 -27.45h3.58v2.77h-3.58zM908.78 -27.45h3.58v2.77h-3.58zM911.75 -27.45h3.58v2.77h-3.58zM849.28 -29.62h3.58v2.77h-3.58zM843.33 -31.79h3.58v2.77h-3.58zM816.55 -53.49h3.58v2.77h-3.58z"/>
<path fill="#0063ff" d="M864.15 -27.45h3.58v2.77h-3.58zM873.08 -27.45h3.58v2.77h-3.58zM879.03 -27.45h3.58v2.77h-3.58zM882.00 -27.45h3.58v2.77h-3.58zM893.90 -27.45h3.58v2.77h-3.58zM840.35 -33.96h3.58v2.77h-3.58zM837.38 -36.13h3.58v2.77h-3.58zM831.43 -38.30h3.58v2.77h-3.58zM825.48 -44.81h3.58v2.77h-3.58zM822.50 -46.98h3.58v2.77h-3.58z"/>
<path fill="#0073ff" d="M834.40 -38.30h3.58v2.77h-3.58zM831.43 -40.47h3.58v2.77h-3.58zM828.45 -42.64h3.58v2.77h-3.58zM816.55 -57.83h3.58v2.77h-3.58z"/>
<path fill="#0084ff" d="M852.25 -29.62h3.58v2.77h-3.58zM867.12 -29.62h3.58v2.77h-3.58zM914.73 -29.62h2.98v2.77h-2.98zM846.30 -31.79h3.58v2.77h-3.58zM816.55 -55.66h3.58v2.77h-3.58z"/>
<path fill="#0094ff" d="M876.05 -29.62h3.58v2.77h-3.58zM879.03 -29.62h3.58v2.77h-3.58zM882.00 -29.62h3.58v2.77h-3.58zM890.93 -29.62h3.58v2.77h-3.58zM893.90 -29.62h3.58v2.77h-3.58zM896.88 -29.62h3.58v2.77h-3.58zM899.85 -29.62h3.58v2.77h-3.58zM911.75 -29.62h3.58v2.77h-3.58zM843.33 -33.96h3.58v2.77h-3.58zM822.50 -49.15h3.58v2.77h-3.58zM819.53 -51.32h3.58v2.77h-3.58z"/>
<path fill="#00a4ff" d="M855.23 -29.62h3.58v2.77h-3.58zM873.08 -29.62h3.58v2.77h-3.58zM884.98 -29.62h3.58v2.77h-3.58zM887.95 -29.62h3.58v2.77h-3.58zM908.78 -29.62h3.58v2.77h-3.58zM840.35 -36.13h3.58v2.77h-3.58z"/>
<path fill="#00b4ff" d="M858.20 -29.62h3.58v2.77h-3.58zM861.18 -29.62h3.58v2.77h-3.58zM905.80 -29.62h3.58v2.77h-3.58zM837.38 -38.30h3.58v2.77h-3.58zM834.40 -40.47h3.58v2.77h-3.58zM822.50 -51.32h3.58v2.77h-3.58z"/>
<path fill="#00c4ff" d="M864.15 -29.62h3.58v2.77h-3.58zM870.10 -29.62h3.58v2.77h-3.58zM902.83 -29.62h3.58v2.77h-3.58zM849.28 -31.79h3.58v2.77h-3.58zM825.48 -46.98h3.58v2.77h-3.58zM816.55 -60.00h3.58v2.77h-3.58z"/>
<path fill="#00d4ff" d="M843.33 -36.13h3.58v2.77h-3.58zM819.53 -53.49h3.58v2.77h-3.58z"/>
<path fill="#00e5ff" d="M864.15 -31.79h3.58v2.77h-3.58zM873.08 -31.79h3.58v2.77h-3.58zM887.95 -31.79h3.58v2.77h-3.58zM890.93 -31.79h3.58v2.77h-3.58zM896.88 -31.79h3.58v2.77h-3.58zM911.75 -31.79h3.58v2.77h-3.58zM849.28 -33.96h3.58v2.77h-3.58zM840.35 -38.30h3.58v2.77h-3.58zM828.45 -44.81h3.58v2.77h-3.58zM825.48 -49.15h3.58v2.77h-3.58zM819.53 -55.66h3.58v2.77h-3.58z"/>
<path fill="#00f5ff" d="M852.25 -31.79h3.58v2.77h-3.58zM858.20 -31.79h3.58v2.77h-3.58zM893.90 -31.79h3.58v2.77h-3.58zM899.85 -31.79h3.58v2.77h-3.58zM846.30 -33.96h3.58v2.77h-3.58zM831.43 -42.64h3.58v2.77h-3.58zM819.53 -60.00h3.58v2.77h-3.58z"/>
<path fill="#06fff9" d="M876.05 -31.79h3.58v2.77h-3.58zM914.73 -31.79h2.98v2.77h-2.98zM846.30 -36.13h3.58v2.77h-3.58zM825.48 -51.32h3.58v2.77h-3.58z"/>
<path fill="#16ffe9" d="M855.23 -31.79h3.58v2.77h-3.58zM867.12 -31.79h3.58v2.77h-3.58zM879.03 -31.79h3.58v2.77h-3.58zM882.00 -31.79h3.58v2.77h-3.58zM884.98 -31.79h3.58v2.77h-3.58zM905.80 -31.79h3.58v2.77h-3.58zM908.78 -31.79h3.58v2.77h-3.58zM828.45 -46.98h3.58v2.77h-3.58zM822.50 -53.49h3.58v2.77h-3.58zM819.53 -57.83h3.58v2.77h-3.58z"/>
<path fill="#26ffd9" d="M861.18 -31.79h3.58v2.77h-3.58zM870.10 -31.79h3.58v2.77h-3.58zM902.83 -31.79h3.58v2.77h-3.58zM852.25 -33.96h3.58v2.77h-3.58zM831.43 -44.81h3.58v2.77h-3.58zM828.45 -49.15h3.58v2.77h-3.58z"/>
<path fill="#37ffc8" d="M855.23 -33.96h3.58v2.77h-3.58zM887.95 -33.96h3.58v2.77h-3.58zM843.33 -38.30h3.58v2.77h-3.58zM837.38 -40.47h3.58v2.77h-3.58zM834.40 -42.64h3.58v2.77h-3.58z"/>
<path fill="#47ffb8" d="M864.15 -33.96h3.58v2.77h-3.58zM890.93 -33.96h3.58v2.77h-3.58zM905.80 -33.96h3.58v2.77h-3.58zM914.73 -33.96h2.98v2.77h-2.98zM822.50 -57.83h3.58v2.77h-3.58zM822.50 -60.00h3.58v2.77h-3.58z"/>
<path fill="#57ffa8" d="M858.20 -33.96h3.58v2.77h-3.58zM873.08 -33.96h3.58v2.77h-3.58zM879.03 -33.96h3.58v2.77h-3.58zM822.50 -55.66h3.58v2.77h-3.58z"/>
<path fill="#67ff98" d="M861.18 -33.96h3.58v2.77h-3.58zM867.12 -33.96h3.58v2.77h-3.58zM870.10 -33.96h3.58v2.77h-3.58zM911.75 -33.96h3.58v2.77h-3.58zM849.28 -36.13h3.58v2.77h-3.58z"/>
<path fill="#77ff88" d="M908.78 -33.96h3.58v2.77h-3.58zM840.35 -40.47h3.58v2.77h-3.58zM834.40 -44.81h3.58v2.77h-3.58zM831.43 -46.98h3.58v2.77h-3.58zM828.45 -51.32h3.58v2.77h-3.58z"/>
<path fill="#88ff77" d="M876.05 -33.96h3.58v2.77h-3.58zM882.00 -33.96h3.58v2.77h-3.58zM884.98 -33.96h3.58v2.77h-3.58zM893.90 -33.96h3.58v2.77h-3.58zM896.88 -33.96h3.58v2.77h-3.58zM899.85 -33.96h3.58v2.77h-3.58zM902.83 -33.96h3.58v2.77h-3.58zM825.48 -53.49h3.58v2.77h-3.58z"/>
<path fill="#98ff67" d="M846.30 -38.30h3.58v2.77h-3.58zM837.38 -42.64h3.58v2.77h-3.58z"/>
<path fill="#a8ff57" d="M852.25 -36.13h3.58v2.77h-3.58zM855.23 -36.13h3.58v2.77h-3.58zM867.12 -36.13h3.58v2.77h-3.58zM873.08 -36.13h3.58v2.77h-3.58zM876.05 -36.13h3.58v2.77h-3.58zM896.88 -36.13h3.58v2.77h-3.58zM840.35 -42.64h3.58v2.77h-3.58zM831.43 -49.15h3.58v2.77h-3.58zM825.48 -55.66h3.58v2.77h-3.58zM825.48 -60.00h3.58v2.77h-3.58z"/>
<path fill="#b8ff47" d="M858.20 -36.13h3.58v2.77h-3.58zM861.18 -36.13h3.58v2.77h-3.58zM870.10 -36.13h3.58v2.77h-3.58zM884.98 -36.13h3.58v2.77h-3.58zM887.95 -36.13h3.58v2.77h-3.58zM890.93 -36.13h3.58v2.77h-3.58zM908.78 -36.13h3.58v2.77h-3.58zM849.28 -38.30h3.58v2.77h-3.58zM837.38 -44.81h3.58v2.77h-3.58zM834.40 -46.98h3.58v2.77h-3.58zM825.48 -57.83h3.58v2.77h-3.58z"/>
<path fill="#c8ff37" d="M882.00 -36.13h3.58v2.77h-3.58zM905.80 -36.13h3.58v2.77h-3.58zM911.75 -36.13h3.58v2.77h-3.58zM914.73 -36.13h2.98v2.77h-2.98zM852.25 -38.30h3.58v2.77h-3.58zM843.33 -40.47h3.58v2.77h-3.58z"/>
<path fill="#d9ff26" d="M902.83 -36.13h3.58v2.77h-3.58zM828.45 -55.66h3.58v2.77h-3.58z"/>
<path fill="#e9ff16" d="M864.15 -36.13h3.58v2.77h-3.58zM879.03 -36.13h3.58v2.77h-3.58zM893.90 -36.13h3.58v2.77h-3.58zM843.33 -42.64h3.58v2.77h-3.58zM831.43 -51.32h3.58v2.77h-3.58zM828.45 -53.49h3.58v2.77h-3.58z"/>
<path fill="#f9ff06" d="M899.85 -36.13h3.58v2.77h-3.58zM855.23 -38.30h3.58v2.77h-3.58zM840.35 -44.81h3.58v2.77h-3.58zM834.40 -49.15h3.58v2.77h-3.58z"/>
<path fill="#fff500" d="M870.10 -38.30h3.58v2.77h-3.58zM879.03 -38.30h3.58v2.77h-3.58zM914.73 -38.30h2.98v2.77h-2.98zM846.30 -40.47h3.58v2.77h-3.58zM849.28 -40.47h3.58v2.77h-3.58zM828.45 -57.83h3.58v2.77h-3.58z"/>
<path fill="#ffe500" d="M867.12 -38.30h3.58v2.77h-3.58zM884.98 -38.30h3.58v2.77h-3.58zM896.88 -38.30h3.58v2.77h-3.58zM902.83 -38.30h3.58v2.77h-3.58zM911.75 -38.30h3.58v2.77h-3.58zM837.38 -46.98h3.58v2.77h-3.58z"/>
<path fill="#ffd500" d="M858.20 -38.30h3.58v2.77h-3.58zM890.93 -38.30h3.58v2.77h-3.58zM893.90 -38.30h3.58v2.77h-3.58zM846.30 -42.64h3.58v2.77h-3.58zM831.43 -53.49h3.58v2.77h-3.58z"/>
<path fill="#ffc400" d="M861.18 -38.30h3.58v2.77h-3.58zM887.95 -38.30h3.58v2.77h-3.58zM899.85 -38.30h3.58v2.77h-3.58zM905.80 -38.30h3.58v2.77h-3.58zM834.40 -51.32h3.58v2.77h-3.58zM828.45 -60.00h3.58v2.77h-3.58z"/>
<path fill="#ffb400" d="M864.15 -38.30h3.58v2.77h-3.58zM873.08 -38.30h3.58v2.77h-3.58zM876.05 -38.30h3.58v2.77h-3.58zM882.00 -38.30h3.58v2.77h-3.58zM908.78 -38.30h3.58v2.77h-3.58z"/>
<path fill="#ffa400" d="M843.33 -44.81h3.58v2.77h-3.58zM831.43 -57.83h3.58v2.77h-3.58z"/>
<path fill="#ff9400" d="M852.25 -40.47h3.58v2.77h-3.58zM864.15 -40.47h3.58v2.77h-3.58zM873.08 -40.47h3.58v2.77h-3.58zM890.93 -40.47h3.58v2.77h-3.58zM896.88 -40.47h3.58v2.77h-3.58zM899.85 -40.47h3.58v2.77h-3.58zM905.80 -40.47h3.58v2.77h-3.58zM908.78 -40.47h3.58v2.77h-3.58zM846.30 -44.81h3.58v2.77h-3.58zM837.38 -49.15h3.58v2.77h-3.58zM831.43 -55.66h3.58v2.77h-3.58zM831.43 -60.00h3.58v2.77h-3.58z"/>
<path fill="#ff8400" d="M855.23 -40.47h3.58v2.77h-3.58zM861.18 -40.47h3.58v2.77h-3.58zM876.05 -40.47h3.58v2.77h-3.58zM884.98 -40.47h3.58v2.77h-3.58zM902.83 -40.47h3.58v2.77h-3.58zM911.75 -40.47h3.58v2.77h-3.58zM849.28 -42.64h3.58v2.77h-3.58zM840.35 -46.98h3.58v2.77h-3.58zM834.40 -53.49h3.58v2.77h-3.58z"/>
<path fill="#ff7300" d="M858.20 -40.47h3.58v2.77h-3.58zM867.12 -40.47h3.58v2.77h-3.58zM870.10 -40.47h3.58v2.77h-3.58zM879.03 -40.47h3.58v2.77h-3.58zM882.00 -40.47h3.58v2.77h-3.58zM893.90 -40.47h3.58v2.77h-3.58zM852.25 -42.64h3.58v2.77h-3.58z"/>
<path fill="#ff6300" d="M887.95 -40.47h3.58v2.77h-3.58zM914.73 -40.47h2.98v2.77h-2.98zM843.33 -46.98h3.58v2.77h-3.58zM840.35 -49.15h3.58v2.77h-3.58z"/>
<path fill="#ff5300" d="M837.38 -51.32h3.58v2.77h-3.58zM834.40 -55.66h3.58v2.77h-3.58z"/>
<path fill="#ff4300" d="M855.23 -42.64h3.58v2.77h-3.58zM858.20 -42.64h3.58v2.77h-3.58zM867.12 -42.64h3.58v2.77h-3.58zM908.78 -42.64h3.58v2.77h-3.58zM849.28 -44.81h3.58v2.77h-3.58z"/>
<path fill="#ff3300" d="M861.18 -42.64h3.58v2.77h-3.58zM864.15 -42.64h3.58v2.77h-3.58zM873.08 -42.64h3.58v2.77h-3.58zM876.05 -42.64h3.58v2.77h-3.58zM879.03 -42.64h3.58v2.77h-3.58zM882.00 -42.64h3.58v2.77h-3.58zM887.95 -42.64h3.58v2.77h-3.58zM893.90 -42.64h3.58v2.77h-3.58zM896.88 -42.64h3.58v2.77h-3.58zM899.85 -42.64h3.58v2.77h-3.58zM902.83 -42.64h3.58v2.77h-3.58zM846.30 -46.98h3.58v2.77h-3.58zM837.38 -53.49h3.58v2.77h-3.58z"/>
<path fill="#ff2200" d="M870.10 -42.64h3.58v2.77h-3.58zM884.98 -42.64h3.58v2.77h-3.58zM890.93 -42.64h3.58v2.77h-3.58zM905.80 -42.64h3.58v2.77h-3.58zM911.75 -42.64h3.58v2.77h-3.58zM914.73 -42.64h2.98v2.77h-2.98zM843.33 -49.15h3.58v2.77h-3.58zM840.35 -51.32h3.58v2.77h-3.58zM834.40 -57.83h3.58v2.77h-3.58zM834.40 -60.00h3.58v2.77h-3.58z"/>
<path fill="#ff1200" d="M852.25 -44.81h3.58v2.77h-3.58zM837.38 -55.66h3.58v2.77h-3.58z"/>
<path fill="#ff0200" d="M849.28 -46.98h3.58v2.77h-3.58zM846.30 -49.15h3.58v2.77h-3.58zM843.33 -51.32h3.58v2.77h-3.58zM837.38 -57.83h3.58v2.77h-3.58z"/>
<path fill="#f10000" d="M855.23 -44.81h3.58v2.77h-3.58zM884.98 -44.81h3.58v2.77h-3.58zM887.95 -44.81h3.58v2.77h-3.58zM899.85 -44.81h3.58v2.77h-3.58zM905.80 -44.81h3.58v2.77h-3.58zM840.35 -53.49h3.58v2.77h-3.58z"/>
<path fill="#e10000" d="M858.20 -44.81h3.58v2.77h-3.58zM861.18 -44.81h3.58v2.77h-3.58zM864.15 -44.81h3.58v2.77h-3.58zM867.12 -44.81h3.58v2.77h-3.58zM870.10 -44.81h3.58v2.77h-3.58zM873.08 -44.81h3.58v2.77h-3.58zM876.05 -44.81h3.58v2.77h-3.58zM879.03 -44.81h3.58v2.77h-3.58zM890.93 -44.81h3.58v2.77h-3.58zM896.88 -44.81h3.58v2.77h-3.58zM908.78 -44.81h3.58v2.77h-3.58zM911.75 -44.81h3.58v2.77h-3.58zM914.73 -44.81h2.98v2.77h-2.98zM837.38 -60.00h3.58v2.77h-3.58z"/>
<path fill="#d00000" d="M882.00 -44.81h3.58v2.77h-3.58zM893.90 -44.81h3.58v2.77h-3.58zM902.83 -44.81h3.58v2.77h-3.58zM852.25 -46.98h3.58v2.77h-3.58zM843.33 -53.49h3.58v2.77h-3.58zM840.35 -55.66h3.58v2.77h-3.58z"/>
<path fill="#c00000" d="M846.30 -51.32h3.58v2.77h-3.58z"/>
<path fill="#b00000" d="M855.23 -46.98h3.58v2.77h-3.58zM858.20 -46.98h3.58v2.77h-3.58zM861.18 -46.98h3.58v2.77h-3.58zM864.15 -46.98h3.58v2.77h-3.58zM867.12 -46.98h3.58v2.77h-3.58zM870.10 -46.98h3.58v2.77h-3.58zM873.08 -46.98h3.58v2.77h-3.58zM876.05 -46.98h3.58v2.77h-3.58zM879.03 -46.98h3.58v2.77h-3.58zM882.00 -46.98h3.58v2.77h-3.58zM884.98 -46.98h3.58v2.77h-3.58zM887.95 -46.98h3.58v2.77h-3.58zM893.90 -46.98h3.58v2.77h-3.58zM896.88 -46.98h3.58v2.77h-3.58zM899.85 -46.98h3.58v2.77h-3.58zM902.83 -46.98h3.58v2.77h-3.58zM905.80 -46.98h3.58v2.77h-3.58zM908.78 -46.98h3.58v2.77h-3.58zM911.75 -46.98h3.58v2.77h-3.58zM849.28 -49.15h3.58v2.77h-3.58zM843.33 -55.66h3.58v2.77h-3.58zM840.35 -57.83h3.58v2.77h-3.58zM840.35 -60.00h3.58v2.77h-3.58z"/>
<path fill="#a00000" d="M890.93 -46.98h3.58v2.77h-3.58zM914.73 -46.98h2.98v2.77h-2.98zM852.25 -49.15h3.58v2.77h-3.58zM849.28 -51.32h3.58v2.77h-3.58zM846.30 -53.49h3.58v2.77h-3.58z"/>
<path fill="#900000" d="M855.23 -49.15h3.58v2.77h-3.58zM858.20 -49.15h3.58v2.77h-3.58zM861.18 -49.15h3.58v2.77h-3.58zM864.15 -49.15h3.58v2.77h-3.58zM867.12 -49.15h3.58v2.77h-3.58zM870.10 -49.15h3.58v2.77h-3.58zM873.08 -49.15h3.58v2.77h-3.58zM876.05 -49.15h3.58v2.77h-3.58zM879.03 -49.15h3.58v2.77h-3.58zM882.00 -49.15h3.58v2.77h-3.58zM884.98 -49.15h3.58v2.77h-3.58zM887.95 -49.15h3.58v2.77h-3.58zM890.93 -49.15h3.58v2.77h-3.58zM893.90 -49.15h3.58v2.77h-3.58zM896.88 -49.15h3.58v2.77h-3.58zM899.85 -49.15h3.58v2.77h-3.58zM902.83 -49.15h3.58v2.77h-3.58zM905.80 -49.15h3.58v2.77h-3.58zM908.78 -49.15h3.58v2.77h-3.58zM911.75 -49.15h3.58v2.77h-3.58zM914.73 -49.15h2.98v2.77h-2.98zM852.25 -51.32h3.58v2.77h-3.58zM849.28 -53.49h3.58v2.77h-3.58zM846.30 -55.66h3.58v2.77h-3.58zM843.33 -57.83h3.58v2.77h-3.58zM843.33 -60.00h3.58v2.77h-3.58z"/>
<path fill="#800000" d="M855.23 -51.32h3.58v2.77h-3.58zM858.20 -51.32h3.58v2.77h-3.58zM861.18 -51.32h3.58v2.77h-3.58zM864.15 -51.32h3.58v2.77h-3.58zM867.12 -51.32h3.58v2.77h-3.58zM870.10 -51.32h3.58v2.77h-3.58zM873.08 -51.32h3.58v2.77h-3.58zM876.05 -51.32h3.58v2.77h-3.58zM879.03 -51.32h3.58v2.77h-3.58zM882.00 -51.32h3.58v2.77h-3.58zM884.98 -51.32h3.58v2.77h-3.58zM887.95 -51.32h3.58v2.77h-3.58zM890.93 -51.32h3.58v2.77h-3.58zM893.90 -51.32h3.58v2.77h-3.58zM896.88 -51.32h3.58v2.77h-3.58zM899.85 -51.32h3.58v2.77h-3.58zM902.83 -51.32h3.58v2.77h-3.58zM905.80 -51.32h3.58v2.77h-3.58zM908.78 -51.32h3.58v2.77h-3.58zM911.75 -51.32h3.58v2.77h-3.58zM914.73 -51.32h2.98v2.77h-2.98zM852.25 -53.49h3.58v2.77h-3.58zM855.23 -53.49h3.58v2.77h-3.58zM858.20 -53.49h3.58v2.77h-3.58zM861.18 -53.49h3.58v2.77h-3.58zM864.15 -53.49h3.58v2.77h-3.58zM867.12 -53.49h3.58v2.77h-3.58zM870.10 -53.49h3.58v2.77h-3.58zM873.08 -53.49h3.58v2.77h-3.58zM876.05 -53.49h3.58v2.77h-3.58zM879.03 -53.49h3.58v2.77h-3.58zM882.00 -53.49h3.58v2.77h-3.58zM884.98 -53.49h3.58v2.77h-3.58zM887.95 -53.49h3.58v2.77h-3.58zM890.93 -53.49h3.58v2.77h-3.58zM893.90 -53.49h3.58v2.77h-3.58zM896.88 -53.49h3.58v2.77h-3.58zM899.85 -53.49h3.58v2.77h-3.58zM902.83 -53.49h3.58v2.77h-3.58zM905.80 -53.49h3.58v2.77h-3.58zM908.78 -53.49h3.58v2.77h-3.58zM911.75 -53.49h3.58v2.77h-3.58zM914.73 -53.49h2.98v2.77h-2.98zM849.28 -55.66h3.58v2.77h-3.58zM852.25 -55.66h3.58v2.77h-3.58zM855.23 -55.66h3.58v2.77h-3.58zM858.20 -55.66h3.58v2.77h-3.58zM861.18 -55.66h3.58v2.77h-3.58zM864.15 -55.66h3.58v2.77h-3.58zM867.12 -55.66h3.58v2.77h-3.58zM870.10 -55.66h3.58v2.77h-3.58zM873.08 -55.66h3.58v2.77h-3.58zM876.05 -55.66h3.58v2.77h-3.58zM879.03 -55.66h3.58v2.77h-3.58zM882.00 -55.66h3.58v2.77h-3.58zM884.98 -55.66h3.58v2.77h-3.58zM887.95 -55.66h3.58v2.77h-3.58zM890.93 -55.66h3.58v2.77h-3.58zM893.90 -55.66h3.58v2.77h-3.58zM896.88 -55.66h3.58v2.77h-3.58zM899.85 -55.66h3.58v2.77h-3.58zM902.83 -55.66h3.58v2.77h-3.58zM905.80 -55.66h3.58v2.77h-3.58zM908.78 -55.66h3.58v2.77h-3.58zM911.75 -55.66h3.58v2.77h-3.58zM914.73 -55.66h2.98v2.77h-2.98zM846.30 -57.83h3.58v2.77h-3.58zM849.28 -57.83h3.58v2.77h-3.58zM852.25 -57.83h3.58v2.77h-3.58zM855.23 -57.83h3.58v2.77h-3.58zM858.20 -57.83h3.58v2.77h-3.58zM861.18 -57.83h3.58v2.77h-3.58zM864.15 -57.83h3.58v2.77h-3.58zM867.12 -57.83h3.58v2.77h-3.58zM870.10 -57.83h3.58v2.77h-3.58zM873.08 -57.83h3.58v2.77h-3.58zM876.05 -57.83h3.58v2.77h-3.58zM879.03 -57.83h3.58v2.77h-3.58zM882.00 -57.83h3.58v2.77h-3.58zM884.98 -57.83h3.58v2.77h-3.58zM887.95 -57.83h3.58v2.77h-3.58zM890.93 -57.83h3.58v2.77h-3.58zM893.90 -57.83h3.58v2.77h-3.58zM896.88 -57.83h3.58v2.77h-3.58zM899.85 -57.83h3.58v2.77h-3.58zM902.83 -57.83h3.58v2.77h-3.58zM905.80 -57.83h3.58v2.77h-3.58zM908.78 -57.83h3.58v2.77h-3.58zM911.75 -57.83h3.58v2.77h-3.58zM914.73 -57.83h2.98v2.77h-2.98zM846.30 -60.00h3.58v2.77h-3.58zM849.28 -60.00h3.58v2.77h-3.58zM852.25 -60.00h3.58v2.77h-3.58zM855.23 -60.00h3.58v2.77h-3.58zM858.20 -60.00h3.58v2.77h-3.58zM861.18 -60.00h3.58v2.77h-3.58zM864.15 -60.00h3.58v2.77h-3.58zM867.12 -60.00h3.58v2.77h-3.58zM870.10 -60.00h3.58v2.77h-3.58zM873.08 -60.00h3.58v2.77h-3.58zM876.05 -60.00h3.58v2.77h-3.58zM879.03 -60.00h3.58v2.77h-3.58zM882.00 -60.00h3.58v2.77h-3.58zM884.98 -60.00h3.58v2.77h-3.58zM887.95 -60.00h3.58v2.77h-3.58zM890.93 -60.00h3.58v2.77h-3.58zM893.90 -60.00h3.58v2.77h-3.58zM896.88 -60.00h3.58v2.77h-3.58zM899.85 -60.00h3.58v2.77h-3.58zM902.83 -60.00h3.58v2.77h-3.58zM905.80 -60.00h3.58v2.77h-3.58zM908.78 -60.00h3.58v2.77h-3.58zM911.75 -60.00h3.58v2.77h-3.58zM914.73 -60.00h2.98v2.77h-2.98z"/>
<text x="827" y="41.6" font-size="10.5" fill="#2b2b2b" text-anchor="middle">10</text>
<text x="793.2" y="9.9" font-size="10.5" fill="#2b2b2b" text-anchor="end">10</text>
<text x="856.7" y="41.6" font-size="10.5" fill="#2b2b2b" text-anchor="middle">20</text>
<text x="793.2" y="-11.8" font-size="10.5" fill="#2b2b2b" text-anchor="end">20</text>
<text x="886.5" y="41.6" font-size="10.5" fill="#2b2b2b" text-anchor="middle">30</text>
<text x="793.2" y="-33.5" font-size="10.5" fill="#2b2b2b" text-anchor="end">30</text>
<text x="916.2" y="41.6" font-size="10.5" fill="#2b2b2b" text-anchor="middle">40</text>
<text x="793.2" y="-55.2" font-size="10.5" fill="#2b2b2b" text-anchor="end">40</text>
<text x="857.7" y="60.2" font-size="12.4" fill="#2b2b2b" text-anchor="middle">Input Layer Neuron</text>
<text x="771.2" y="-17.1" font-size="12.4" fill="#2b2b2b" text-anchor="middle" transform="rotate(-90 771.2 -17.1)">Output Layer Neuron</text>
<rect x="948.7" y="-60" width="22" height="86.8" fill="url(#jet)" stroke="#262626" stroke-width="0.8"/>
<text x="976.7" y="-56.3" font-size="10.5" fill="#2b2b2b" text-anchor="start">1</text>
<text x="976.7" y="-12.9" font-size="10.5" fill="#2b2b2b" text-anchor="start">0.5</text>
<text x="976.7" y="30.5" font-size="10.5" fill="#2b2b2b" text-anchor="start">0</text>
<text x="1008.7" y="-16.6" font-size="12.45" fill="#2b2b2b" text-anchor="middle" transform="rotate(-90 1008.7 -16.6)">Connection Probability</text>
<rect x="798.7" y="100.8" width="119" height="86.8" fill="#000080"/>
<path fill="#000090" d="M870.10 170.24h3.58v2.77h-3.58zM882.00 170.24h3.58v2.77h-3.58zM884.98 170.24h3.58v2.77h-3.58zM911.75 170.24h3.58v2.77h-3.58zM855.23 168.07h3.58v2.77h-3.58zM858.20 168.07h3.58v2.77h-3.58zM861.18 168.07h3.58v2.77h-3.58zM879.03 168.07h3.58v2.77h-3.58zM887.95 168.07h3.58v2.77h-3.58zM890.93 168.07h3.58v2.77h-3.58zM893.90 168.07h3.58v2.77h-3.58zM896.88 168.07h3.58v2.77h-3.58zM899.85 168.07h3.58v2.77h-3.58zM905.80 168.07h3.58v2.77h-3.58zM914.73 168.07h2.98v2.77h-2.98zM849.28 165.90h3.58v2.77h-3.58zM852.25 165.90h3.58v2.77h-3.58zM855.23 165.90h3.58v2.77h-3.58zM858.20 165.90h3.58v2.77h-3.58zM861.18 165.90h3.58v2.77h-3.58zM864.15 165.90h3.58v2.77h-3.58zM867.12 165.90h3.58v2.77h-3.58zM870.10 165.90h3.58v2.77h-3.58zM876.05 165.90h3.58v2.77h-3.58zM879.03 165.90h3.58v2.77h-3.58zM882.00 165.90h3.58v2.77h-3.58zM887.95 165.90h3.58v2.77h-3.58zM893.90 165.90h3.58v2.77h-3.58zM896.88 165.90h3.58v2.77h-3.58zM899.85 165.90h3.58v2.77h-3.58zM902.83 165.90h3.58v2.77h-3.58zM905.80 165.90h3.58v2.77h-3.58zM908.78 165.90h3.58v2.77h-3.58zM914.73 165.90h2.98v2.77h-2.98zM840.35 163.73h3.58v2.77h-3.58zM846.30 163.73h3.58v2.77h-3.58zM849.28 163.73h3.58v2.77h-3.58zM852.25 163.73h3.58v2.77h-3.58zM855.23 163.73h3.58v2.77h-3.58zM858.20 163.73h3.58v2.77h-3.58zM861.18 163.73h3.58v2.77h-3.58zM864.15 163.73h3.58v2.77h-3.58zM867.12 163.73h3.58v2.77h-3.58zM870.10 163.73h3.58v2.77h-3.58zM873.08 163.73h3.58v2.77h-3.58zM876.05 163.73h3.58v2.77h-3.58zM879.03 163.73h3.58v2.77h-3.58zM882.00 163.73h3.58v2.77h-3.58zM884.98 163.73h3.58v2.77h-3.58zM887.95 163.73h3.58v2.77h-3.58zM890.93 163.73h3.58v2.77h-3.58zM893.90 163.73h3.58v2.77h-3.58zM896.88 163.73h3.58v2.77h-3.58zM899.85 163.73h3.58v2.77h-3.58zM902.83 163.73h3.58v2.77h-3.58zM905.80 163.73h3.58v2.77h-3.58zM908.78 163.73h3.58v2.77h-3.58zM911.75 163.73h3.58v2.77h-3.58zM914.73 163.73h2.98v2.77h-2.98zM846.30 161.56h3.58v2.77h-3.58zM849.28 161.56h3.58v2.77h-3.58zM852.25 161.56h3.58v2.77h-3.58zM855.23 161.56h3.58v2.77h-3.58zM858.20 161.56h3.58v2.77h-3.58zM861.18 161.56h3.58v2.77h-3.58zM864.15 161.56h3.58v2.77h-3.58zM867.12 161.56h3.58v2.77h-3.58zM870.10 161.56h3.58v2.77h-3.58zM873.08 161.56h3.58v2.77h-3.58zM876.05 161.56h3.58v2.77h-3.58zM879.03 161.56h3.58v2.77h-3.58zM882.00 161.56h3.58v2.77h-3.58zM884.98 161.56h3.58v2.77h-3.58zM887.95 161.56h3.58v2.77h-3.58zM890.93 161.56h3.58v2.77h-3.58zM893.90 161.56h3.58v2.77h-3.58zM896.88 161.56h3.58v2.77h-3.58zM899.85 161.56h3.58v2.77h-3.58zM902.83 161.56h3.58v2.77h-3.58zM905.80 161.56h3.58v2.77h-3.58zM908.78 161.56h3.58v2.77h-3.58zM911.75 161.56h3.58v2.77h-3.58zM914.73 161.56h2.98v2.77h-2.98zM840.35 159.39h3.58v2.77h-3.58zM843.33 159.39h3.58v2.77h-3.58zM846.30 159.39h3.58v2.77h-3.58zM849.28 159.39h3.58v2.77h-3.58zM852.25 159.39h3.58v2.77h-3.58zM855.23 159.39h3.58v2.77h-3.58zM858.20 159.39h3.58v2.77h-3.58zM864.15 159.39h3.58v2.77h-3.58zM867.12 159.39h3.58v2.77h-3.58zM870.10 159.39h3.58v2.77h-3.58zM873.08 159.39h3.58v2.77h-3.58zM876.05 159.39h3.58v2.77h-3.58zM879.03 159.39h3.58v2.77h-3.58zM882.00 159.39h3.58v2.77h-3.58zM887.95 159.39h3.58v2.77h-3.58zM890.93 159.39h3.58v2.77h-3.58zM893.90 159.39h3.58v2.77h-3.58zM896.88 159.39h3.58v2.77h-3.58zM902.83 159.39h3.58v2.77h-3.58zM905.80 159.39h3.58v2.77h-3.58zM908.78 159.39h3.58v2.77h-3.58zM911.75 159.39h3.58v2.77h-3.58zM914.73 159.39h2.98v2.77h-2.98zM831.43 157.22h3.58v2.77h-3.58zM834.40 157.22h3.58v2.77h-3.58zM837.38 157.22h3.58v2.77h-3.58zM840.35 157.22h3.58v2.77h-3.58zM843.33 157.22h3.58v2.77h-3.58zM846.30 157.22h3.58v2.77h-3.58zM849.28 157.22h3.58v2.77h-3.58zM852.25 157.22h3.58v2.77h-3.58zM858.20 157.22h3.58v2.77h-3.58zM864.15 157.22h3.58v2.77h-3.58zM870.10 157.22h3.58v2.77h-3.58zM873.08 157.22h3.58v2.77h-3.58zM876.05 157.22h3.58v2.77h-3.58zM879.03 157.22h3.58v2.77h-3.58zM882.00 157.22h3.58v2.77h-3.58zM884.98 157.22h3.58v2.77h-3.58zM887.95 157.22h3.58v2.77h-3.58zM905.80 157.22h3.58v2.77h-3.58zM911.75 157.22h3.58v2.77h-3.58zM914.73 157.22h2.98v2.77h-2.98zM831.43 155.05h3.58v2.77h-3.58zM834.40 155.05h3.58v2.77h-3.58zM837.38 155.05h3.58v2.77h-3.58zM840.35 155.05h3.58v2.77h-3.58zM843.33 155.05h3.58v2.77h-3.58zM846.30 155.05h3.58v2.77h-3.58zM828.45 152.88h3.58v2.77h-3.58zM831.43 152.88h3.58v2.77h-3.58zM834.40 152.88h3.58v2.77h-3.58zM837.38 152.88h3.58v2.77h-3.58zM840.35 152.88h3.58v2.77h-3.58zM843.33 152.88h3.58v2.77h-3.58zM825.48 150.71h3.58v2.77h-3.58zM828.45 150.71h3.58v2.77h-3.58zM831.43 150.71h3.58v2.77h-3.58zM834.40 150.71h3.58v2.77h-3.58zM837.38 150.71h3.58v2.77h-3.58zM822.50 148.54h3.58v2.77h-3.58zM828.45 148.54h3.58v2.77h-3.58zM831.43 148.54h3.58v2.77h-3.58zM834.40 148.54h3.58v2.77h-3.58zM822.50 146.37h3.58v2.77h-3.58zM825.48 146.37h3.58v2.77h-3.58zM828.45 146.37h3.58v2.77h-3.58zM831.43 146.37h3.58v2.77h-3.58zM816.55 144.20h3.58v2.77h-3.58zM822.50 144.20h3.58v2.77h-3.58zM825.48 144.20h3.58v2.77h-3.58zM828.45 144.20h3.58v2.77h-3.58zM816.55 142.03h3.58v2.77h-3.58zM819.53 142.03h3.58v2.77h-3.58zM822.50 142.03h3.58v2.77h-3.58zM825.48 142.03h3.58v2.77h-3.58zM816.55 139.86h3.58v2.77h-3.58zM819.53 139.86h3.58v2.77h-3.58zM822.50 139.86h3.58v2.77h-3.58zM825.48 139.86h3.58v2.77h-3.58zM807.62 137.69h3.58v2.77h-3.58zM810.60 137.69h3.58v2.77h-3.58zM813.58 137.69h3.58v2.77h-3.58zM816.55 137.69h3.58v2.77h-3.58zM819.53 137.69h3.58v2.77h-3.58zM822.50 137.69h3.58v2.77h-3.58zM825.48 137.69h3.58v2.77h-3.58zM807.62 135.52h3.58v2.77h-3.58zM810.60 135.52h3.58v2.77h-3.58zM813.58 135.52h3.58v2.77h-3.58zM816.55 135.52h3.58v2.77h-3.58zM819.53 135.52h3.58v2.77h-3.58zM810.60 133.35h3.58v2.77h-3.58zM813.58 133.35h3.58v2.77h-3.58zM816.55 133.35h3.58v2.77h-3.58zM810.60 131.18h3.58v2.77h-3.58zM813.58 131.18h3.58v2.77h-3.58zM816.55 131.18h3.58v2.77h-3.58zM819.53 131.18h3.58v2.77h-3.58zM804.65 129.01h3.58v2.77h-3.58zM807.62 129.01h3.58v2.77h-3.58zM810.60 129.01h3.58v2.77h-3.58zM813.58 129.01h3.58v2.77h-3.58zM801.68 126.84h3.58v2.77h-3.58zM807.62 126.84h3.58v2.77h-3.58zM810.60 126.84h3.58v2.77h-3.58zM801.68 124.67h3.58v2.77h-3.58zM807.62 124.67h3.58v2.77h-3.58zM810.60 124.67h3.58v2.77h-3.58zM801.68 122.50h3.58v2.77h-3.58zM804.65 122.50h3.58v2.77h-3.58zM807.62 122.50h3.58v2.77h-3.58zM810.60 122.50h3.58v2.77h-3.58zM801.68 120.33h3.58v2.77h-3.58zM804.65 120.33h3.58v2.77h-3.58zM807.62 120.33h3.58v2.77h-3.58zM810.60 120.33h3.58v2.77h-3.58zM798.70 118.16h3.58v2.77h-3.58zM801.68 118.16h3.58v2.77h-3.58zM804.65 118.16h3.58v2.77h-3.58zM798.70 115.99h3.58v2.77h-3.58zM801.68 115.99h3.58v2.77h-3.58zM804.65 115.99h3.58v2.77h-3.58zM798.70 113.82h3.58v2.77h-3.58zM801.68 113.82h3.58v2.77h-3.58zM804.65 113.82h3.58v2.77h-3.58zM798.70 111.65h3.58v2.77h-3.58zM801.68 111.65h3.58v2.77h-3.58zM804.65 111.65h3.58v2.77h-3.58zM798.70 109.48h3.58v2.77h-3.58zM801.68 109.48h3.58v2.77h-3.58zM798.70 107.31h3.58v2.77h-3.58zM801.68 107.31h3.58v2.77h-3.58zM798.70 105.14h3.58v2.77h-3.58zM801.68 105.14h3.58v2.77h-3.58zM798.70 102.97h3.58v2.77h-3.58zM801.68 102.97h3.58v2.77h-3.58zM798.70 100.80h3.58v2.77h-3.58zM801.68 100.80h3.58v2.77h-3.58z"/>
<path fill="#0000a0" d="M861.18 159.39h3.58v2.77h-3.58zM884.98 159.39h3.58v2.77h-3.58zM899.85 159.39h3.58v2.77h-3.58zM855.23 157.22h3.58v2.77h-3.58zM861.18 157.22h3.58v2.77h-3.58zM867.12 157.22h3.58v2.77h-3.58zM890.93 157.22h3.58v2.77h-3.58zM893.90 157.22h3.58v2.77h-3.58zM896.88 157.22h3.58v2.77h-3.58zM899.85 157.22h3.58v2.77h-3.58zM902.83 157.22h3.58v2.77h-3.58zM908.78 157.22h3.58v2.77h-3.58zM849.28 155.05h3.58v2.77h-3.58zM852.25 155.05h3.58v2.77h-3.58zM855.23 155.05h3.58v2.77h-3.58zM858.20 155.05h3.58v2.77h-3.58zM861.18 155.05h3.58v2.77h-3.58zM864.15 155.05h3.58v2.77h-3.58zM867.12 155.05h3.58v2.77h-3.58zM870.10 155.05h3.58v2.77h-3.58zM873.08 155.05h3.58v2.77h-3.58zM876.05 155.05h3.58v2.77h-3.58zM879.03 155.05h3.58v2.77h-3.58zM882.00 155.05h3.58v2.77h-3.58zM884.98 155.05h3.58v2.77h-3.58zM887.95 155.05h3.58v2.77h-3.58zM890.93 155.05h3.58v2.77h-3.58zM893.90 155.05h3.58v2.77h-3.58zM896.88 155.05h3.58v2.77h-3.58zM899.85 155.05h3.58v2.77h-3.58zM902.83 155.05h3.58v2.77h-3.58zM905.80 155.05h3.58v2.77h-3.58zM908.78 155.05h3.58v2.77h-3.58zM911.75 155.05h3.58v2.77h-3.58zM914.73 155.05h2.98v2.77h-2.98zM846.30 152.88h3.58v2.77h-3.58zM849.28 152.88h3.58v2.77h-3.58zM852.25 152.88h3.58v2.77h-3.58zM861.18 152.88h3.58v2.77h-3.58zM876.05 152.88h3.58v2.77h-3.58zM882.00 152.88h3.58v2.77h-3.58zM896.88 152.88h3.58v2.77h-3.58zM902.83 152.88h3.58v2.77h-3.58zM840.35 150.71h3.58v2.77h-3.58zM843.33 150.71h3.58v2.77h-3.58zM846.30 150.71h3.58v2.77h-3.58zM837.38 148.54h3.58v2.77h-3.58zM840.35 148.54h3.58v2.77h-3.58zM834.40 146.37h3.58v2.77h-3.58zM837.38 146.37h3.58v2.77h-3.58zM840.35 146.37h3.58v2.77h-3.58zM831.43 144.20h3.58v2.77h-3.58zM834.40 144.20h3.58v2.77h-3.58zM828.45 142.03h3.58v2.77h-3.58zM831.43 142.03h3.58v2.77h-3.58zM828.45 139.86h3.58v2.77h-3.58zM828.45 137.69h3.58v2.77h-3.58zM822.50 135.52h3.58v2.77h-3.58zM825.48 135.52h3.58v2.77h-3.58zM828.45 135.52h3.58v2.77h-3.58zM819.53 133.35h3.58v2.77h-3.58zM822.50 133.35h3.58v2.77h-3.58zM825.48 133.35h3.58v2.77h-3.58zM816.55 129.01h3.58v2.77h-3.58zM813.58 126.84h3.58v2.77h-3.58zM816.55 126.84h3.58v2.77h-3.58zM813.58 124.67h3.58v2.77h-3.58zM816.55 124.67h3.58v2.77h-3.58zM813.58 122.50h3.58v2.77h-3.58zM816.55 122.50h3.58v2.77h-3.58zM813.58 120.33h3.58v2.77h-3.58zM807.62 118.16h3.58v2.77h-3.58zM810.60 118.16h3.58v2.77h-3.58zM807.62 115.99h3.58v2.77h-3.58zM810.60 115.99h3.58v2.77h-3.58zM807.62 113.82h3.58v2.77h-3.58zM810.60 113.82h3.58v2.77h-3.58zM807.62 111.65h3.58v2.77h-3.58zM810.60 111.65h3.58v2.77h-3.58zM804.65 109.48h3.58v2.77h-3.58zM807.62 109.48h3.58v2.77h-3.58zM804.65 107.31h3.58v2.77h-3.58zM807.62 107.31h3.58v2.77h-3.58zM804.65 105.14h3.58v2.77h-3.58zM804.65 102.97h3.58v2.77h-3.58zM804.65 100.80h3.58v2.77h-3.58z"/>
<path fill="#0000b0" d="M855.23 152.88h3.58v2.77h-3.58zM858.20 152.88h3.58v2.77h-3.58zM864.15 152.88h3.58v2.77h-3.58zM867.12 152.88h3.58v2.77h-3.58zM870.10 152.88h3.58v2.77h-3.58zM873.08 152.88h3.58v2.77h-3.58zM879.03 152.88h3.58v2.77h-3.58zM884.98 152.88h3.58v2.77h-3.58zM887.95 152.88h3.58v2.77h-3.58zM890.93 152.88h3.58v2.77h-3.58zM893.90 152.88h3.58v2.77h-3.58zM899.85 152.88h3.58v2.77h-3.58zM905.80 152.88h3.58v2.77h-3.58zM908.78 152.88h3.58v2.77h-3.58zM911.75 152.88h3.58v2.77h-3.58zM914.73 152.88h2.98v2.77h-2.98zM849.28 150.71h3.58v2.77h-3.58zM852.25 150.71h3.58v2.77h-3.58zM855.23 150.71h3.58v2.77h-3.58zM858.20 150.71h3.58v2.77h-3.58zM861.18 150.71h3.58v2.77h-3.58zM864.15 150.71h3.58v2.77h-3.58zM867.12 150.71h3.58v2.77h-3.58zM870.10 150.71h3.58v2.77h-3.58zM873.08 150.71h3.58v2.77h-3.58zM876.05 150.71h3.58v2.77h-3.58zM879.03 150.71h3.58v2.77h-3.58zM887.95 150.71h3.58v2.77h-3.58zM890.93 150.71h3.58v2.77h-3.58zM893.90 150.71h3.58v2.77h-3.58zM896.88 150.71h3.58v2.77h-3.58zM899.85 150.71h3.58v2.77h-3.58zM905.80 150.71h3.58v2.77h-3.58zM908.78 150.71h3.58v2.77h-3.58zM911.75 150.71h3.58v2.77h-3.58zM843.33 148.54h3.58v2.77h-3.58zM846.30 148.54h3.58v2.77h-3.58zM849.28 148.54h3.58v2.77h-3.58zM852.25 148.54h3.58v2.77h-3.58zM884.98 148.54h3.58v2.77h-3.58zM899.85 148.54h3.58v2.77h-3.58zM843.33 146.37h3.58v2.77h-3.58zM837.38 144.20h3.58v2.77h-3.58zM840.35 144.20h3.58v2.77h-3.58zM834.40 142.03h3.58v2.77h-3.58zM837.38 142.03h3.58v2.77h-3.58zM831.43 139.86h3.58v2.77h-3.58zM834.40 139.86h3.58v2.77h-3.58zM831.43 137.69h3.58v2.77h-3.58zM822.50 131.18h3.58v2.77h-3.58zM825.48 131.18h3.58v2.77h-3.58zM819.53 129.01h3.58v2.77h-3.58zM822.50 129.01h3.58v2.77h-3.58zM819.53 126.84h3.58v2.77h-3.58zM822.50 126.84h3.58v2.77h-3.58zM819.53 124.67h3.58v2.77h-3.58zM822.50 124.67h3.58v2.77h-3.58zM816.55 120.33h3.58v2.77h-3.58zM813.58 118.16h3.58v2.77h-3.58zM816.55 118.16h3.58v2.77h-3.58zM813.58 115.99h3.58v2.77h-3.58zM813.58 113.82h3.58v2.77h-3.58zM810.60 109.48h3.58v2.77h-3.58zM810.60 107.31h3.58v2.77h-3.58zM807.62 105.14h3.58v2.77h-3.58zM807.62 102.97h3.58v2.77h-3.58zM807.62 100.80h3.58v2.77h-3.58z"/>
<path fill="#0000c0" d="M882.00 150.71h3.58v2.77h-3.58zM884.98 150.71h3.58v2.77h-3.58zM902.83 150.71h3.58v2.77h-3.58zM914.73 150.71h2.98v2.77h-2.98zM855.23 148.54h3.58v2.77h-3.58zM858.20 148.54h3.58v2.77h-3.58zM861.18 148.54h3.58v2.77h-3.58zM864.15 148.54h3.58v2.77h-3.58zM867.12 148.54h3.58v2.77h-3.58zM870.10 148.54h3.58v2.77h-3.58zM873.08 148.54h3.58v2.77h-3.58zM879.03 148.54h3.58v2.77h-3.58zM882.00 148.54h3.58v2.77h-3.58zM887.95 148.54h3.58v2.77h-3.58zM890.93 148.54h3.58v2.77h-3.58zM893.90 148.54h3.58v2.77h-3.58zM896.88 148.54h3.58v2.77h-3.58zM902.83 148.54h3.58v2.77h-3.58zM905.80 148.54h3.58v2.77h-3.58zM908.78 148.54h3.58v2.77h-3.58zM911.75 148.54h3.58v2.77h-3.58zM914.73 148.54h2.98v2.77h-2.98zM846.30 146.37h3.58v2.77h-3.58zM849.28 146.37h3.58v2.77h-3.58zM855.23 146.37h3.58v2.77h-3.58zM858.20 146.37h3.58v2.77h-3.58zM870.10 146.37h3.58v2.77h-3.58zM887.95 146.37h3.58v2.77h-3.58zM893.90 146.37h3.58v2.77h-3.58zM899.85 146.37h3.58v2.77h-3.58zM843.33 144.20h3.58v2.77h-3.58zM846.30 144.20h3.58v2.77h-3.58zM843.33 142.03h3.58v2.77h-3.58zM837.38 139.86h3.58v2.77h-3.58zM834.40 137.69h3.58v2.77h-3.58zM837.38 137.69h3.58v2.77h-3.58zM831.43 135.52h3.58v2.77h-3.58zM828.45 133.35h3.58v2.77h-3.58zM831.43 131.18h3.58v2.77h-3.58zM825.48 129.01h3.58v2.77h-3.58zM819.53 122.50h3.58v2.77h-3.58zM822.50 122.50h3.58v2.77h-3.58zM819.53 118.16h3.58v2.77h-3.58zM816.55 115.99h3.58v2.77h-3.58zM816.55 113.82h3.58v2.77h-3.58zM813.58 111.65h3.58v2.77h-3.58zM816.55 111.65h3.58v2.77h-3.58zM813.58 109.48h3.58v2.77h-3.58zM810.60 105.14h3.58v2.77h-3.58zM810.60 102.97h3.58v2.77h-3.58zM810.60 100.80h3.58v2.77h-3.58z"/>
<path fill="#0000d0" d="M876.05 148.54h3.58v2.77h-3.58zM852.25 146.37h3.58v2.77h-3.58zM864.15 146.37h3.58v2.77h-3.58zM873.08 146.37h3.58v2.77h-3.58zM876.05 146.37h3.58v2.77h-3.58zM882.00 146.37h3.58v2.77h-3.58zM884.98 146.37h3.58v2.77h-3.58zM890.93 146.37h3.58v2.77h-3.58zM896.88 146.37h3.58v2.77h-3.58zM902.83 146.37h3.58v2.77h-3.58zM905.80 146.37h3.58v2.77h-3.58zM908.78 146.37h3.58v2.77h-3.58zM911.75 146.37h3.58v2.77h-3.58zM914.73 146.37h2.98v2.77h-2.98zM849.28 144.20h3.58v2.77h-3.58zM855.23 144.20h3.58v2.77h-3.58zM861.18 144.20h3.58v2.77h-3.58zM864.15 144.20h3.58v2.77h-3.58zM873.08 144.20h3.58v2.77h-3.58zM890.93 144.20h3.58v2.77h-3.58zM911.75 144.20h3.58v2.77h-3.58zM840.35 142.03h3.58v2.77h-3.58zM846.30 142.03h3.58v2.77h-3.58zM840.35 139.86h3.58v2.77h-3.58zM834.40 135.52h3.58v2.77h-3.58zM831.43 133.35h3.58v2.77h-3.58zM828.45 131.18h3.58v2.77h-3.58zM828.45 129.01h3.58v2.77h-3.58zM825.48 126.84h3.58v2.77h-3.58zM819.53 120.33h3.58v2.77h-3.58zM822.50 120.33h3.58v2.77h-3.58zM819.53 115.99h3.58v2.77h-3.58zM816.55 109.48h3.58v2.77h-3.58zM813.58 107.31h3.58v2.77h-3.58zM813.58 105.14h3.58v2.77h-3.58z"/>
<path fill="#0000e1" d="M861.18 146.37h3.58v2.77h-3.58zM867.12 146.37h3.58v2.77h-3.58zM879.03 146.37h3.58v2.77h-3.58zM852.25 144.20h3.58v2.77h-3.58zM858.20 144.20h3.58v2.77h-3.58zM879.03 144.20h3.58v2.77h-3.58zM884.98 144.20h3.58v2.77h-3.58zM887.95 144.20h3.58v2.77h-3.58zM896.88 144.20h3.58v2.77h-3.58zM902.83 144.20h3.58v2.77h-3.58zM905.80 144.20h3.58v2.77h-3.58zM908.78 144.20h3.58v2.77h-3.58zM876.05 142.03h3.58v2.77h-3.58zM843.33 139.86h3.58v2.77h-3.58zM843.33 137.69h3.58v2.77h-3.58zM837.38 135.52h3.58v2.77h-3.58zM840.35 135.52h3.58v2.77h-3.58zM831.43 129.01h3.58v2.77h-3.58zM828.45 126.84h3.58v2.77h-3.58zM825.48 124.67h3.58v2.77h-3.58zM819.53 113.82h3.58v2.77h-3.58zM819.53 111.65h3.58v2.77h-3.58zM816.55 107.31h3.58v2.77h-3.58zM813.58 102.97h3.58v2.77h-3.58zM816.55 102.97h3.58v2.77h-3.58zM813.58 100.80h3.58v2.77h-3.58z"/>
<path fill="#0000f1" d="M867.12 144.20h3.58v2.77h-3.58zM870.10 144.20h3.58v2.77h-3.58zM876.05 144.20h3.58v2.77h-3.58zM882.00 144.20h3.58v2.77h-3.58zM893.90 144.20h3.58v2.77h-3.58zM899.85 144.20h3.58v2.77h-3.58zM914.73 144.20h2.98v2.77h-2.98zM849.28 142.03h3.58v2.77h-3.58zM905.80 142.03h3.58v2.77h-3.58zM908.78 142.03h3.58v2.77h-3.58zM846.30 139.86h3.58v2.77h-3.58zM849.28 139.86h3.58v2.77h-3.58zM840.35 137.69h3.58v2.77h-3.58zM834.40 133.35h3.58v2.77h-3.58zM837.38 133.35h3.58v2.77h-3.58zM840.35 133.35h3.58v2.77h-3.58zM834.40 131.18h3.58v2.77h-3.58zM828.45 124.67h3.58v2.77h-3.58zM825.48 122.50h3.58v2.77h-3.58zM828.45 122.50h3.58v2.77h-3.58zM822.50 118.16h3.58v2.77h-3.58zM822.50 115.99h3.58v2.77h-3.58zM822.50 113.82h3.58v2.77h-3.58zM819.53 109.48h3.58v2.77h-3.58zM819.53 107.31h3.58v2.77h-3.58zM816.55 105.14h3.58v2.77h-3.58z"/>
<path fill="#0002ff" d="M852.25 142.03h3.58v2.77h-3.58zM855.23 142.03h3.58v2.77h-3.58zM858.20 142.03h3.58v2.77h-3.58zM861.18 142.03h3.58v2.77h-3.58zM864.15 142.03h3.58v2.77h-3.58zM867.12 142.03h3.58v2.77h-3.58zM870.10 142.03h3.58v2.77h-3.58zM879.03 142.03h3.58v2.77h-3.58zM882.00 142.03h3.58v2.77h-3.58zM884.98 142.03h3.58v2.77h-3.58zM887.95 142.03h3.58v2.77h-3.58zM890.93 142.03h3.58v2.77h-3.58zM896.88 142.03h3.58v2.77h-3.58zM899.85 142.03h3.58v2.77h-3.58zM902.83 142.03h3.58v2.77h-3.58zM911.75 142.03h3.58v2.77h-3.58zM914.73 142.03h2.98v2.77h-2.98zM858.20 139.86h3.58v2.77h-3.58zM864.15 139.86h3.58v2.77h-3.58zM867.12 139.86h3.58v2.77h-3.58zM896.88 139.86h3.58v2.77h-3.58zM843.33 135.52h3.58v2.77h-3.58zM837.38 131.18h3.58v2.77h-3.58zM834.40 129.01h3.58v2.77h-3.58zM831.43 126.84h3.58v2.77h-3.58zM825.48 120.33h3.58v2.77h-3.58zM825.48 118.16h3.58v2.77h-3.58zM822.50 111.65h3.58v2.77h-3.58zM819.53 105.14h3.58v2.77h-3.58z"/>
<path fill="#0012ff" d="M873.08 142.03h3.58v2.77h-3.58zM893.90 142.03h3.58v2.77h-3.58zM852.25 139.86h3.58v2.77h-3.58zM855.23 139.86h3.58v2.77h-3.58zM861.18 139.86h3.58v2.77h-3.58zM870.10 139.86h3.58v2.77h-3.58zM873.08 139.86h3.58v2.77h-3.58zM882.00 139.86h3.58v2.77h-3.58zM884.98 139.86h3.58v2.77h-3.58zM887.95 139.86h3.58v2.77h-3.58zM890.93 139.86h3.58v2.77h-3.58zM893.90 139.86h3.58v2.77h-3.58zM899.85 139.86h3.58v2.77h-3.58zM902.83 139.86h3.58v2.77h-3.58zM905.80 139.86h3.58v2.77h-3.58zM914.73 139.86h2.98v2.77h-2.98zM846.30 137.69h3.58v2.77h-3.58zM849.28 137.69h3.58v2.77h-3.58zM837.38 129.01h3.58v2.77h-3.58zM834.40 126.84h3.58v2.77h-3.58zM825.48 115.99h3.58v2.77h-3.58zM819.53 102.97h3.58v2.77h-3.58zM816.55 100.80h3.58v2.77h-3.58z"/>
<path fill="#0022ff" d="M876.05 139.86h3.58v2.77h-3.58zM879.03 139.86h3.58v2.77h-3.58zM908.78 139.86h3.58v2.77h-3.58zM911.75 139.86h3.58v2.77h-3.58zM873.08 137.69h3.58v2.77h-3.58zM882.00 137.69h3.58v2.77h-3.58zM887.95 137.69h3.58v2.77h-3.58zM893.90 137.69h3.58v2.77h-3.58zM899.85 137.69h3.58v2.77h-3.58zM843.33 133.35h3.58v2.77h-3.58zM831.43 124.67h3.58v2.77h-3.58zM831.43 122.50h3.58v2.77h-3.58zM828.45 120.33h3.58v2.77h-3.58zM828.45 118.16h3.58v2.77h-3.58zM819.53 100.80h3.58v2.77h-3.58z"/>
<path fill="#0033ff" d="M852.25 137.69h3.58v2.77h-3.58zM855.23 137.69h3.58v2.77h-3.58zM858.20 137.69h3.58v2.77h-3.58zM861.18 137.69h3.58v2.77h-3.58zM902.83 137.69h3.58v2.77h-3.58zM911.75 137.69h3.58v2.77h-3.58zM914.73 137.69h2.98v2.77h-2.98zM846.30 135.52h3.58v2.77h-3.58zM846.30 133.35h3.58v2.77h-3.58zM840.35 131.18h3.58v2.77h-3.58zM837.38 126.84h3.58v2.77h-3.58zM834.40 124.67h3.58v2.77h-3.58zM831.43 120.33h3.58v2.77h-3.58zM828.45 115.99h3.58v2.77h-3.58zM825.48 111.65h3.58v2.77h-3.58zM822.50 109.48h3.58v2.77h-3.58z"/>
<path fill="#0043ff" d="M864.15 137.69h3.58v2.77h-3.58zM870.10 137.69h3.58v2.77h-3.58zM876.05 137.69h3.58v2.77h-3.58zM879.03 137.69h3.58v2.77h-3.58zM890.93 137.69h3.58v2.77h-3.58zM905.80 137.69h3.58v2.77h-3.58zM852.25 135.52h3.58v2.77h-3.58zM858.20 135.52h3.58v2.77h-3.58zM861.18 135.52h3.58v2.77h-3.58zM873.08 135.52h3.58v2.77h-3.58zM882.00 135.52h3.58v2.77h-3.58zM899.85 135.52h3.58v2.77h-3.58zM908.78 135.52h3.58v2.77h-3.58zM849.28 133.35h3.58v2.77h-3.58zM834.40 122.50h3.58v2.77h-3.58zM825.48 113.82h3.58v2.77h-3.58zM822.50 107.31h3.58v2.77h-3.58zM822.50 102.97h3.58v2.77h-3.58zM822.50 100.80h3.58v2.77h-3.58z"/>
<path fill="#0053ff" d="M867.12 137.69h3.58v2.77h-3.58zM884.98 137.69h3.58v2.77h-3.58zM896.88 137.69h3.58v2.77h-3.58zM908.78 137.69h3.58v2.77h-3.58zM849.28 135.52h3.58v2.77h-3.58zM855.23 135.52h3.58v2.77h-3.58zM870.10 135.52h3.58v2.77h-3.58zM876.05 135.52h3.58v2.77h-3.58zM879.03 135.52h3.58v2.77h-3.58zM884.98 135.52h3.58v2.77h-3.58zM887.95 135.52h3.58v2.77h-3.58zM896.88 135.52h3.58v2.77h-3.58zM914.73 135.52h2.98v2.77h-2.98zM831.43 118.16h3.58v2.77h-3.58zM828.45 113.82h3.58v2.77h-3.58zM822.50 105.14h3.58v2.77h-3.58z"/>
<path fill="#0063ff" d="M864.15 135.52h3.58v2.77h-3.58zM867.12 135.52h3.58v2.77h-3.58zM893.90 135.52h3.58v2.77h-3.58zM902.83 133.35h3.58v2.77h-3.58zM905.80 133.35h3.58v2.77h-3.58zM843.33 131.18h3.58v2.77h-3.58zM846.30 131.18h3.58v2.77h-3.58zM840.35 129.01h3.58v2.77h-3.58zM840.35 126.84h3.58v2.77h-3.58zM834.40 120.33h3.58v2.77h-3.58zM825.48 109.48h3.58v2.77h-3.58zM825.48 105.14h3.58v2.77h-3.58z"/>
<path fill="#0073ff" d="M890.93 135.52h3.58v2.77h-3.58zM902.83 135.52h3.58v2.77h-3.58zM905.80 135.52h3.58v2.77h-3.58zM911.75 135.52h3.58v2.77h-3.58zM852.25 133.35h3.58v2.77h-3.58zM861.18 133.35h3.58v2.77h-3.58zM884.98 133.35h3.58v2.77h-3.58zM899.85 133.35h3.58v2.77h-3.58zM911.75 133.35h3.58v2.77h-3.58zM843.33 129.01h3.58v2.77h-3.58zM837.38 124.67h3.58v2.77h-3.58zM825.48 107.31h3.58v2.77h-3.58z"/>
<path fill="#0084ff" d="M890.93 133.35h3.58v2.77h-3.58zM893.90 133.35h3.58v2.77h-3.58zM849.28 131.18h3.58v2.77h-3.58zM846.30 129.01h3.58v2.77h-3.58zM837.38 122.50h3.58v2.77h-3.58zM831.43 113.82h3.58v2.77h-3.58zM828.45 111.65h3.58v2.77h-3.58zM828.45 109.48h3.58v2.77h-3.58z"/>
<path fill="#0094ff" d="M858.20 133.35h3.58v2.77h-3.58zM864.15 133.35h3.58v2.77h-3.58zM873.08 133.35h3.58v2.77h-3.58zM876.05 133.35h3.58v2.77h-3.58zM879.03 133.35h3.58v2.77h-3.58zM882.00 133.35h3.58v2.77h-3.58zM896.88 133.35h3.58v2.77h-3.58zM908.78 133.35h3.58v2.77h-3.58zM908.78 131.18h3.58v2.77h-3.58zM840.35 124.67h3.58v2.77h-3.58zM840.35 122.50h3.58v2.77h-3.58zM837.38 120.33h3.58v2.77h-3.58z"/>
<path fill="#00a4ff" d="M855.23 133.35h3.58v2.77h-3.58zM867.12 133.35h3.58v2.77h-3.58zM870.10 133.35h3.58v2.77h-3.58zM887.95 133.35h3.58v2.77h-3.58zM914.73 133.35h2.98v2.77h-2.98zM852.25 131.18h3.58v2.77h-3.58zM864.15 131.18h3.58v2.77h-3.58zM882.00 131.18h3.58v2.77h-3.58zM887.95 131.18h3.58v2.77h-3.58zM831.43 115.99h3.58v2.77h-3.58zM825.48 102.97h3.58v2.77h-3.58z"/>
<path fill="#00b4ff" d="M855.23 131.18h3.58v2.77h-3.58zM858.20 131.18h3.58v2.77h-3.58zM861.18 131.18h3.58v2.77h-3.58zM876.05 131.18h3.58v2.77h-3.58zM914.73 131.18h2.98v2.77h-2.98zM843.33 126.84h3.58v2.77h-3.58zM834.40 118.16h3.58v2.77h-3.58zM834.40 115.99h3.58v2.77h-3.58zM825.48 100.80h3.58v2.77h-3.58z"/>
<path fill="#00c4ff" d="M870.10 131.18h3.58v2.77h-3.58zM879.03 131.18h3.58v2.77h-3.58zM884.98 131.18h3.58v2.77h-3.58zM890.93 131.18h3.58v2.77h-3.58zM893.90 131.18h3.58v2.77h-3.58zM899.85 131.18h3.58v2.77h-3.58zM902.83 131.18h3.58v2.77h-3.58zM905.80 131.18h3.58v2.77h-3.58zM858.20 129.01h3.58v2.77h-3.58zM843.33 124.67h3.58v2.77h-3.58zM831.43 111.65h3.58v2.77h-3.58zM831.43 109.48h3.58v2.77h-3.58zM828.45 107.31h3.58v2.77h-3.58z"/>
<path fill="#00d4ff" d="M867.12 131.18h3.58v2.77h-3.58zM873.08 131.18h3.58v2.77h-3.58zM896.88 131.18h3.58v2.77h-3.58zM911.75 131.18h3.58v2.77h-3.58zM849.28 129.01h3.58v2.77h-3.58zM855.23 129.01h3.58v2.77h-3.58zM867.12 129.01h3.58v2.77h-3.58zM876.05 129.01h3.58v2.77h-3.58zM887.95 129.01h3.58v2.77h-3.58zM908.78 129.01h3.58v2.77h-3.58zM846.30 124.67h3.58v2.77h-3.58zM828.45 102.97h3.58v2.77h-3.58z"/>
<path fill="#00e5ff" d="M864.15 129.01h3.58v2.77h-3.58zM870.10 129.01h3.58v2.77h-3.58zM879.03 129.01h3.58v2.77h-3.58zM882.00 129.01h3.58v2.77h-3.58zM884.98 129.01h3.58v2.77h-3.58zM899.85 129.01h3.58v2.77h-3.58zM846.30 126.84h3.58v2.77h-3.58zM843.33 122.50h3.58v2.77h-3.58zM840.35 120.33h3.58v2.77h-3.58zM828.45 105.14h3.58v2.77h-3.58zM828.45 100.80h3.58v2.77h-3.58z"/>
<path fill="#00f5ff" d="M852.25 129.01h3.58v2.77h-3.58zM893.90 129.01h3.58v2.77h-3.58zM902.83 129.01h3.58v2.77h-3.58zM914.73 129.01h2.98v2.77h-2.98zM852.25 126.84h3.58v2.77h-3.58zM837.38 118.16h3.58v2.77h-3.58zM834.40 111.65h3.58v2.77h-3.58z"/>
<path fill="#06fff9" d="M873.08 129.01h3.58v2.77h-3.58zM890.93 129.01h3.58v2.77h-3.58zM896.88 129.01h3.58v2.77h-3.58zM905.80 129.01h3.58v2.77h-3.58zM911.75 129.01h3.58v2.77h-3.58zM849.28 126.84h3.58v2.77h-3.58zM858.20 126.84h3.58v2.77h-3.58zM861.18 126.84h3.58v2.77h-3.58zM876.05 126.84h3.58v2.77h-3.58zM884.98 126.84h3.58v2.77h-3.58zM899.85 126.84h3.58v2.77h-3.58zM902.83 126.84h3.58v2.77h-3.58zM911.75 126.84h3.58v2.77h-3.58zM849.28 124.67h3.58v2.77h-3.58zM846.30 122.50h3.58v2.77h-3.58zM834.40 113.82h3.58v2.77h-3.58zM831.43 107.31h3.58v2.77h-3.58z"/>
<path fill="#16ffe9" d="M861.18 129.01h3.58v2.77h-3.58zM879.03 126.84h3.58v2.77h-3.58zM887.95 126.84h3.58v2.77h-3.58zM843.33 120.33h3.58v2.77h-3.58zM834.40 109.48h3.58v2.77h-3.58zM831.43 102.97h3.58v2.77h-3.58z"/>
<path fill="#26ffd9" d="M864.15 126.84h3.58v2.77h-3.58zM873.08 126.84h3.58v2.77h-3.58zM882.00 126.84h3.58v2.77h-3.58zM890.93 126.84h3.58v2.77h-3.58zM896.88 126.84h3.58v2.77h-3.58zM905.80 126.84h3.58v2.77h-3.58zM837.38 115.99h3.58v2.77h-3.58zM837.38 113.82h3.58v2.77h-3.58z"/>
<path fill="#37ffc8" d="M867.12 126.84h3.58v2.77h-3.58zM870.10 126.84h3.58v2.77h-3.58zM893.90 126.84h3.58v2.77h-3.58zM914.73 126.84h2.98v2.77h-2.98zM852.25 124.67h3.58v2.77h-3.58zM882.00 124.67h3.58v2.77h-3.58zM905.80 124.67h3.58v2.77h-3.58zM911.75 124.67h3.58v2.77h-3.58zM849.28 122.50h3.58v2.77h-3.58zM840.35 118.16h3.58v2.77h-3.58zM837.38 111.65h3.58v2.77h-3.58zM831.43 105.14h3.58v2.77h-3.58z"/>
<path fill="#47ffb8" d="M855.23 126.84h3.58v2.77h-3.58zM908.78 126.84h3.58v2.77h-3.58zM873.08 124.67h3.58v2.77h-3.58zM876.05 124.67h3.58v2.77h-3.58zM890.93 124.67h3.58v2.77h-3.58zM846.30 120.33h3.58v2.77h-3.58z"/>
<path fill="#57ffa8" d="M858.20 124.67h3.58v2.77h-3.58zM864.15 124.67h3.58v2.77h-3.58zM870.10 124.67h3.58v2.77h-3.58zM896.88 124.67h3.58v2.77h-3.58zM834.40 107.31h3.58v2.77h-3.58zM834.40 105.14h3.58v2.77h-3.58zM831.43 100.80h3.58v2.77h-3.58z"/>
<path fill="#67ff98" d="M855.23 124.67h3.58v2.77h-3.58zM861.18 124.67h3.58v2.77h-3.58zM879.03 124.67h3.58v2.77h-3.58zM884.98 124.67h3.58v2.77h-3.58zM902.83 124.67h3.58v2.77h-3.58zM908.78 124.67h3.58v2.77h-3.58zM840.35 115.99h3.58v2.77h-3.58zM837.38 109.48h3.58v2.77h-3.58z"/>
<path fill="#77ff88" d="M887.95 124.67h3.58v2.77h-3.58zM893.90 124.67h3.58v2.77h-3.58zM849.28 120.33h3.58v2.77h-3.58zM834.40 102.97h3.58v2.77h-3.58z"/>
<path fill="#88ff77" d="M867.12 124.67h3.58v2.77h-3.58zM899.85 124.67h3.58v2.77h-3.58zM914.73 124.67h2.98v2.77h-2.98zM867.12 122.50h3.58v2.77h-3.58zM870.10 122.50h3.58v2.77h-3.58zM873.08 122.50h3.58v2.77h-3.58zM876.05 122.50h3.58v2.77h-3.58zM879.03 122.50h3.58v2.77h-3.58zM884.98 122.50h3.58v2.77h-3.58zM843.33 118.16h3.58v2.77h-3.58zM837.38 107.31h3.58v2.77h-3.58z"/>
<path fill="#98ff67" d="M852.25 122.50h3.58v2.77h-3.58zM882.00 122.50h3.58v2.77h-3.58zM905.80 122.50h3.58v2.77h-3.58zM846.30 118.16h3.58v2.77h-3.58zM840.35 113.82h3.58v2.77h-3.58z"/>
<path fill="#a8ff57" d="M858.20 122.50h3.58v2.77h-3.58zM893.90 122.50h3.58v2.77h-3.58zM896.88 122.50h3.58v2.77h-3.58zM843.33 115.99h3.58v2.77h-3.58z"/>
<path fill="#b8ff47" d="M864.15 122.50h3.58v2.77h-3.58zM890.93 122.50h3.58v2.77h-3.58zM899.85 122.50h3.58v2.77h-3.58zM902.83 122.50h3.58v2.77h-3.58zM911.75 122.50h3.58v2.77h-3.58z"/>
<path fill="#c8ff37" d="M855.23 122.50h3.58v2.77h-3.58zM861.18 122.50h3.58v2.77h-3.58zM887.95 122.50h3.58v2.77h-3.58zM908.78 122.50h3.58v2.77h-3.58zM914.73 122.50h2.98v2.77h-2.98zM852.25 120.33h3.58v2.77h-3.58zM905.80 120.33h3.58v2.77h-3.58zM843.33 113.82h3.58v2.77h-3.58zM837.38 105.14h3.58v2.77h-3.58zM834.40 100.80h3.58v2.77h-3.58z"/>
<path fill="#d9ff26" d="M855.23 120.33h3.58v2.77h-3.58zM887.95 120.33h3.58v2.77h-3.58zM896.88 120.33h3.58v2.77h-3.58zM899.85 120.33h3.58v2.77h-3.58zM840.35 111.65h3.58v2.77h-3.58zM840.35 109.48h3.58v2.77h-3.58zM837.38 102.97h3.58v2.77h-3.58z"/>
<path fill="#e9ff16" d="M867.12 120.33h3.58v2.77h-3.58zM876.05 120.33h3.58v2.77h-3.58zM882.00 120.33h3.58v2.77h-3.58zM893.90 120.33h3.58v2.77h-3.58zM914.73 120.33h2.98v2.77h-2.98zM843.33 111.65h3.58v2.77h-3.58z"/>
<path fill="#f9ff06" d="M864.15 120.33h3.58v2.77h-3.58zM908.78 120.33h3.58v2.77h-3.58zM840.35 107.31h3.58v2.77h-3.58z"/>
<path fill="#fff500" d="M858.20 120.33h3.58v2.77h-3.58zM870.10 120.33h3.58v2.77h-3.58zM873.08 120.33h3.58v2.77h-3.58zM884.98 120.33h3.58v2.77h-3.58zM849.28 118.16h3.58v2.77h-3.58zM852.25 118.16h3.58v2.77h-3.58zM846.30 115.99h3.58v2.77h-3.58zM837.38 100.80h3.58v2.77h-3.58z"/>
<path fill="#ffe500" d="M861.18 120.33h3.58v2.77h-3.58zM879.03 120.33h3.58v2.77h-3.58zM890.93 120.33h3.58v2.77h-3.58zM902.83 120.33h3.58v2.77h-3.58zM911.75 120.33h3.58v2.77h-3.58zM870.10 118.16h3.58v2.77h-3.58zM908.78 118.16h3.58v2.77h-3.58zM914.73 118.16h2.98v2.77h-2.98zM849.28 115.99h3.58v2.77h-3.58z"/>
<path fill="#ffd500" d="M858.20 118.16h3.58v2.77h-3.58zM861.18 118.16h3.58v2.77h-3.58zM879.03 118.16h3.58v2.77h-3.58zM887.95 118.16h3.58v2.77h-3.58zM905.80 118.16h3.58v2.77h-3.58zM911.75 118.16h3.58v2.77h-3.58zM840.35 105.14h3.58v2.77h-3.58z"/>
<path fill="#ffc400" d="M855.23 118.16h3.58v2.77h-3.58zM864.15 118.16h3.58v2.77h-3.58zM902.83 118.16h3.58v2.77h-3.58z"/>
<path fill="#ffb400" d="M873.08 118.16h3.58v2.77h-3.58zM882.00 118.16h3.58v2.77h-3.58zM884.98 118.16h3.58v2.77h-3.58zM852.25 115.99h3.58v2.77h-3.58zM846.30 113.82h3.58v2.77h-3.58zM843.33 109.48h3.58v2.77h-3.58z"/>
<path fill="#ffa400" d="M867.12 118.16h3.58v2.77h-3.58zM876.05 118.16h3.58v2.77h-3.58zM890.93 118.16h3.58v2.77h-3.58zM896.88 118.16h3.58v2.77h-3.58zM899.85 118.16h3.58v2.77h-3.58z"/>
<path fill="#ff9400" d="M893.90 118.16h3.58v2.77h-3.58zM858.20 115.99h3.58v2.77h-3.58zM861.18 115.99h3.58v2.77h-3.58zM864.15 115.99h3.58v2.77h-3.58zM867.12 115.99h3.58v2.77h-3.58zM879.03 115.99h3.58v2.77h-3.58zM887.95 115.99h3.58v2.77h-3.58zM893.90 115.99h3.58v2.77h-3.58zM840.35 102.97h3.58v2.77h-3.58z"/>
<path fill="#ff8400" d="M873.08 115.99h3.58v2.77h-3.58zM882.00 115.99h3.58v2.77h-3.58zM896.88 115.99h3.58v2.77h-3.58zM908.78 115.99h3.58v2.77h-3.58zM911.75 115.99h3.58v2.77h-3.58zM914.73 115.99h2.98v2.77h-2.98zM849.28 113.82h3.58v2.77h-3.58zM846.30 111.65h3.58v2.77h-3.58z"/>
<path fill="#ff7300" d="M876.05 115.99h3.58v2.77h-3.58zM890.93 115.99h3.58v2.77h-3.58zM899.85 115.99h3.58v2.77h-3.58zM843.33 107.31h3.58v2.77h-3.58zM840.35 100.80h3.58v2.77h-3.58z"/>
<path fill="#ff6300" d="M855.23 115.99h3.58v2.77h-3.58zM870.10 115.99h3.58v2.77h-3.58zM884.98 115.99h3.58v2.77h-3.58zM902.83 115.99h3.58v2.77h-3.58zM905.80 115.99h3.58v2.77h-3.58zM843.33 105.14h3.58v2.77h-3.58z"/>
<path fill="#ff5300" d="M852.25 113.82h3.58v2.77h-3.58zM870.10 113.82h3.58v2.77h-3.58zM879.03 113.82h3.58v2.77h-3.58zM882.00 113.82h3.58v2.77h-3.58zM887.95 113.82h3.58v2.77h-3.58zM843.33 102.97h3.58v2.77h-3.58z"/>
<path fill="#ff4300" d="M864.15 113.82h3.58v2.77h-3.58zM873.08 113.82h3.58v2.77h-3.58zM884.98 113.82h3.58v2.77h-3.58zM902.83 113.82h3.58v2.77h-3.58zM905.80 113.82h3.58v2.77h-3.58zM908.78 113.82h3.58v2.77h-3.58zM914.73 113.82h2.98v2.77h-2.98zM849.28 111.65h3.58v2.77h-3.58zM846.30 109.48h3.58v2.77h-3.58z"/>
<path fill="#ff3300" d="M855.23 113.82h3.58v2.77h-3.58zM858.20 113.82h3.58v2.77h-3.58zM861.18 113.82h3.58v2.77h-3.58zM867.12 113.82h3.58v2.77h-3.58zM876.05 113.82h3.58v2.77h-3.58zM890.93 113.82h3.58v2.77h-3.58zM893.90 113.82h3.58v2.77h-3.58zM896.88 113.82h3.58v2.77h-3.58zM899.85 113.82h3.58v2.77h-3.58zM911.75 113.82h3.58v2.77h-3.58zM852.25 111.65h3.58v2.77h-3.58zM849.28 109.48h3.58v2.77h-3.58z"/>
<path fill="#ff2200" d="M867.12 111.65h3.58v2.77h-3.58zM884.98 111.65h3.58v2.77h-3.58zM893.90 111.65h3.58v2.77h-3.58zM896.88 111.65h3.58v2.77h-3.58zM911.75 111.65h3.58v2.77h-3.58zM846.30 107.31h3.58v2.77h-3.58zM846.30 105.14h3.58v2.77h-3.58zM843.33 100.80h3.58v2.77h-3.58z"/>
<path fill="#ff1200" d="M858.20 111.65h3.58v2.77h-3.58zM864.15 111.65h3.58v2.77h-3.58zM870.10 111.65h3.58v2.77h-3.58zM873.08 111.65h3.58v2.77h-3.58zM876.05 111.65h3.58v2.77h-3.58zM887.95 111.65h3.58v2.77h-3.58zM890.93 111.65h3.58v2.77h-3.58zM899.85 111.65h3.58v2.77h-3.58zM902.83 111.65h3.58v2.77h-3.58zM905.80 111.65h3.58v2.77h-3.58zM914.73 111.65h2.98v2.77h-2.98zM849.28 107.31h3.58v2.77h-3.58zM846.30 102.97h3.58v2.77h-3.58z"/>
<path fill="#ff0200" d="M855.23 111.65h3.58v2.77h-3.58zM861.18 111.65h3.58v2.77h-3.58zM879.03 111.65h3.58v2.77h-3.58zM882.00 111.65h3.58v2.77h-3.58zM908.78 111.65h3.58v2.77h-3.58zM855.23 109.48h3.58v2.77h-3.58zM864.15 109.48h3.58v2.77h-3.58zM876.05 109.48h3.58v2.77h-3.58zM887.95 109.48h3.58v2.77h-3.58z"/>
<path fill="#f10000" d="M852.25 109.48h3.58v2.77h-3.58zM858.20 109.48h3.58v2.77h-3.58zM861.18 109.48h3.58v2.77h-3.58zM879.03 109.48h3.58v2.77h-3.58zM882.00 109.48h3.58v2.77h-3.58zM884.98 109.48h3.58v2.77h-3.58zM890.93 109.48h3.58v2.77h-3.58zM896.88 109.48h3.58v2.77h-3.58z"/>
<path fill="#e10000" d="M867.12 109.48h3.58v2.77h-3.58zM870.10 109.48h3.58v2.77h-3.58zM873.08 109.48h3.58v2.77h-3.58zM893.90 109.48h3.58v2.77h-3.58zM899.85 109.48h3.58v2.77h-3.58zM902.83 109.48h3.58v2.77h-3.58zM905.80 109.48h3.58v2.77h-3.58zM908.78 109.48h3.58v2.77h-3.58zM911.75 109.48h3.58v2.77h-3.58zM914.73 109.48h2.98v2.77h-2.98zM855.23 107.31h3.58v2.77h-3.58zM858.20 107.31h3.58v2.77h-3.58zM861.18 107.31h3.58v2.77h-3.58zM867.12 107.31h3.58v2.77h-3.58zM879.03 107.31h3.58v2.77h-3.58zM887.95 107.31h3.58v2.77h-3.58zM893.90 107.31h3.58v2.77h-3.58zM896.88 107.31h3.58v2.77h-3.58zM902.83 107.31h3.58v2.77h-3.58zM849.28 105.14h3.58v2.77h-3.58zM846.30 100.80h3.58v2.77h-3.58z"/>
<path fill="#d00000" d="M852.25 107.31h3.58v2.77h-3.58zM864.15 107.31h3.58v2.77h-3.58zM870.10 107.31h3.58v2.77h-3.58zM873.08 107.31h3.58v2.77h-3.58zM876.05 107.31h3.58v2.77h-3.58zM882.00 107.31h3.58v2.77h-3.58zM884.98 107.31h3.58v2.77h-3.58zM890.93 107.31h3.58v2.77h-3.58zM899.85 107.31h3.58v2.77h-3.58zM905.80 107.31h3.58v2.77h-3.58zM908.78 107.31h3.58v2.77h-3.58zM911.75 107.31h3.58v2.77h-3.58zM914.73 107.31h2.98v2.77h-2.98zM879.03 105.14h3.58v2.77h-3.58zM911.75 105.14h3.58v2.77h-3.58zM914.73 105.14h2.98v2.77h-2.98zM849.28 102.97h3.58v2.77h-3.58zM849.28 100.80h3.58v2.77h-3.58z"/>
<path fill="#c00000" d="M852.25 105.14h3.58v2.77h-3.58zM855.23 105.14h3.58v2.77h-3.58zM867.12 105.14h3.58v2.77h-3.58zM870.10 105.14h3.58v2.77h-3.58zM873.08 105.14h3.58v2.77h-3.58zM876.05 105.14h3.58v2.77h-3.58zM882.00 105.14h3.58v2.77h-3.58zM887.95 105.14h3.58v2.77h-3.58zM890.93 105.14h3.58v2.77h-3.58zM896.88 105.14h3.58v2.77h-3.58zM902.83 105.14h3.58v2.77h-3.58zM905.80 105.14h3.58v2.77h-3.58zM908.78 105.14h3.58v2.77h-3.58zM852.25 102.97h3.58v2.77h-3.58zM852.25 100.80h3.58v2.77h-3.58z"/>
<path fill="#b00000" d="M858.20 105.14h3.58v2.77h-3.58zM861.18 105.14h3.58v2.77h-3.58zM864.15 105.14h3.58v2.77h-3.58zM884.98 105.14h3.58v2.77h-3.58zM893.90 105.14h3.58v2.77h-3.58zM899.85 105.14h3.58v2.77h-3.58zM855.23 102.97h3.58v2.77h-3.58zM858.20 102.97h3.58v2.77h-3.58zM861.18 102.97h3.58v2.77h-3.58zM864.15 102.97h3.58v2.77h-3.58zM870.10 102.97h3.58v2.77h-3.58zM876.05 102.97h3.58v2.77h-3.58zM879.03 102.97h3.58v2.77h-3.58zM882.00 102.97h3.58v2.77h-3.58zM884.98 102.97h3.58v2.77h-3.58zM890.93 102.97h3.58v2.77h-3.58zM893.90 102.97h3.58v2.77h-3.58zM896.88 102.97h3.58v2.77h-3.58zM899.85 102.97h3.58v2.77h-3.58zM902.83 102.97h3.58v2.77h-3.58zM905.80 102.97h3.58v2.77h-3.58zM908.78 102.97h3.58v2.77h-3.58zM911.75 102.97h3.58v2.77h-3.58zM870.10 100.80h3.58v2.77h-3.58zM873.08 100.80h3.58v2.77h-3.58zM893.90 100.80h3.58v2.77h-3.58zM896.88 100.80h3.58v2.77h-3.58z"/>
<path fill="#a00000" d="M867.12 102.97h3.58v2.77h-3.58zM873.08 102.97h3.58v2.77h-3.58zM887.95 102.97h3.58v2.77h-3.58zM914.73 102.97h2.98v2.77h-2.98zM855.23 100.80h3.58v2.77h-3.58zM858.20 100.80h3.58v2.77h-3.58zM861.18 100.80h3.58v2.77h-3.58zM864.15 100.80h3.58v2.77h-3.58zM867.12 100.80h3.58v2.77h-3.58zM876.05 100.80h3.58v2.77h-3.58zM879.03 100.80h3.58v2.77h-3.58zM882.00 100.80h3.58v2.77h-3.58zM884.98 100.80h3.58v2.77h-3.58zM887.95 100.80h3.58v2.77h-3.58zM890.93 100.80h3.58v2.77h-3.58zM899.85 100.80h3.58v2.77h-3.58zM902.83 100.80h3.58v2.77h-3.58zM905.80 100.80h3.58v2.77h-3.58zM908.78 100.80h3.58v2.77h-3.58zM911.75 100.80h3.58v2.77h-3.58zM914.73 100.80h2.98v2.77h-2.98z"/>
<text x="827" y="202.4" font-size="10.5" fill="#2b2b2b" text-anchor="middle">10</text>
<text x="793.2" y="170.7" font-size="10.5" fill="#2b2b2b" text-anchor="end">10</text>
<text x="856.7" y="202.4" font-size="10.5" fill="#2b2b2b" text-anchor="middle">20</text>
<text x="793.2" y="149" font-size="10.5" fill="#2b2b2b" text-anchor="end">20</text>
<text x="886.5" y="202.4" font-size="10.5" fill="#2b2b2b" text-anchor="middle">30</text>
<text x="793.2" y="127.3" font-size="10.5" fill="#2b2b2b" text-anchor="end">30</text>
<text x="916.2" y="202.4" font-size="10.5" fill="#2b2b2b" text-anchor="middle">40</text>
<text x="793.2" y="105.6" font-size="10.5" fill="#2b2b2b" text-anchor="end">40</text>
<text x="857.7" y="221" font-size="12.4" fill="#2b2b2b" text-anchor="middle">Input Layer Neuron</text>
<text x="771.2" y="143.7" font-size="12.4" fill="#2b2b2b" text-anchor="middle" transform="rotate(-90 771.2 143.7)">Output Layer Neuron</text>
<rect x="948.7" y="100.8" width="22" height="86.8" fill="url(#jet)" stroke="#262626" stroke-width="0.8"/>
<text x="976.7" y="104.5" font-size="10.5" fill="#2b2b2b" text-anchor="start">1</text>
<text x="976.7" y="147.9" font-size="10.5" fill="#2b2b2b" text-anchor="start">0.5</text>
<text x="976.7" y="191.3" font-size="10.5" fill="#2b2b2b" text-anchor="start">0</text>
<text x="1008.7" y="144.2" font-size="12.45" fill="#2b2b2b" text-anchor="middle" transform="rotate(-90 1008.7 144.2)">Connection Probability</text>
<text x="857.7" y="91.8" font-size="14.8" fill="#2b2b2b" text-anchor="middle">Firing Rate + Hebbian</text>
<rect x="798.7" y="262" width="119" height="86.8" fill="#000080"/>
<path fill="#000090" d="M852.25 301.06h3.58v2.77h-3.58zM858.20 301.06h3.58v2.77h-3.58zM861.18 301.06h3.58v2.77h-3.58zM864.15 301.06h3.58v2.77h-3.58zM870.10 301.06h3.58v2.77h-3.58zM876.05 301.06h3.58v2.77h-3.58zM884.98 301.06h3.58v2.77h-3.58zM887.95 301.06h3.58v2.77h-3.58zM911.75 301.06h3.58v2.77h-3.58zM843.33 298.89h3.58v2.77h-3.58zM846.30 298.89h3.58v2.77h-3.58zM840.35 296.72h3.58v2.77h-3.58zM831.43 292.38h3.58v2.77h-3.58zM828.45 290.21h3.58v2.77h-3.58zM825.48 288.04h3.58v2.77h-3.58zM822.50 285.87h3.58v2.77h-3.58zM819.53 283.70h3.58v2.77h-3.58zM816.55 281.53h3.58v2.77h-3.58zM813.58 277.19h3.58v2.77h-3.58zM810.60 275.02h3.58v2.77h-3.58zM807.62 270.68h3.58v2.77h-3.58zM804.65 266.34h3.58v2.77h-3.58zM804.65 264.17h3.58v2.77h-3.58z"/>
<path fill="#0000a0" d="M855.23 301.06h3.58v2.77h-3.58zM867.12 301.06h3.58v2.77h-3.58zM873.08 301.06h3.58v2.77h-3.58zM879.03 301.06h3.58v2.77h-3.58zM882.00 301.06h3.58v2.77h-3.58zM890.93 301.06h3.58v2.77h-3.58zM893.90 301.06h3.58v2.77h-3.58zM896.88 301.06h3.58v2.77h-3.58zM899.85 301.06h3.58v2.77h-3.58zM902.83 301.06h3.58v2.77h-3.58zM905.80 301.06h3.58v2.77h-3.58zM908.78 301.06h3.58v2.77h-3.58zM914.73 301.06h2.98v2.77h-2.98zM849.28 298.89h3.58v2.77h-3.58zM843.33 296.72h3.58v2.77h-3.58zM837.38 294.55h3.58v2.77h-3.58zM834.40 292.38h3.58v2.77h-3.58zM831.43 290.21h3.58v2.77h-3.58zM822.50 283.70h3.58v2.77h-3.58zM816.55 279.36h3.58v2.77h-3.58zM810.60 272.85h3.58v2.77h-3.58zM807.62 268.51h3.58v2.77h-3.58zM804.65 262.00h3.58v2.77h-3.58z"/>
<path fill="#0000b0" d="M852.25 298.89h3.58v2.77h-3.58zM855.23 298.89h3.58v2.77h-3.58zM846.30 296.72h3.58v2.77h-3.58zM840.35 294.55h3.58v2.77h-3.58zM828.45 288.04h3.58v2.77h-3.58zM825.48 285.87h3.58v2.77h-3.58zM819.53 281.53h3.58v2.77h-3.58zM816.55 277.19h3.58v2.77h-3.58zM807.62 266.34h3.58v2.77h-3.58z"/>
<path fill="#0000c0" d="M861.18 298.89h3.58v2.77h-3.58zM864.15 298.89h3.58v2.77h-3.58zM870.10 298.89h3.58v2.77h-3.58zM873.08 298.89h3.58v2.77h-3.58zM882.00 298.89h3.58v2.77h-3.58zM887.95 298.89h3.58v2.77h-3.58zM896.88 298.89h3.58v2.77h-3.58zM902.83 298.89h3.58v2.77h-3.58zM905.80 298.89h3.58v2.77h-3.58zM914.73 298.89h2.98v2.77h-2.98zM849.28 296.72h3.58v2.77h-3.58zM837.38 292.38h3.58v2.77h-3.58zM813.58 275.02h3.58v2.77h-3.58zM810.60 270.68h3.58v2.77h-3.58zM807.62 264.17h3.58v2.77h-3.58z"/>
<path fill="#0000d0" d="M858.20 298.89h3.58v2.77h-3.58zM867.12 298.89h3.58v2.77h-3.58zM876.05 298.89h3.58v2.77h-3.58zM879.03 298.89h3.58v2.77h-3.58zM884.98 298.89h3.58v2.77h-3.58zM890.93 298.89h3.58v2.77h-3.58zM893.90 298.89h3.58v2.77h-3.58zM899.85 298.89h3.58v2.77h-3.58zM908.78 298.89h3.58v2.77h-3.58zM911.75 298.89h3.58v2.77h-3.58zM843.33 294.55h3.58v2.77h-3.58zM834.40 290.21h3.58v2.77h-3.58zM819.53 279.36h3.58v2.77h-3.58zM813.58 272.85h3.58v2.77h-3.58zM810.60 268.51h3.58v2.77h-3.58zM807.62 262.00h3.58v2.77h-3.58z"/>
<path fill="#0000e1" d="M852.25 296.72h3.58v2.77h-3.58zM846.30 294.55h3.58v2.77h-3.58zM831.43 288.04h3.58v2.77h-3.58zM828.45 285.87h3.58v2.77h-3.58zM825.48 283.70h3.58v2.77h-3.58zM822.50 281.53h3.58v2.77h-3.58zM816.55 275.02h3.58v2.77h-3.58z"/>
<path fill="#0000f1" d="M855.23 296.72h3.58v2.77h-3.58zM908.78 296.72h3.58v2.77h-3.58zM840.35 292.38h3.58v2.77h-3.58zM837.38 290.21h3.58v2.77h-3.58zM819.53 277.19h3.58v2.77h-3.58zM813.58 270.68h3.58v2.77h-3.58zM810.60 266.34h3.58v2.77h-3.58zM810.60 264.17h3.58v2.77h-3.58z"/>
<path fill="#0002ff" d="M858.20 296.72h3.58v2.77h-3.58zM861.18 296.72h3.58v2.77h-3.58zM864.15 296.72h3.58v2.77h-3.58zM870.10 296.72h3.58v2.77h-3.58zM876.05 296.72h3.58v2.77h-3.58zM887.95 296.72h3.58v2.77h-3.58zM890.93 296.72h3.58v2.77h-3.58zM899.85 296.72h3.58v2.77h-3.58zM911.75 296.72h3.58v2.77h-3.58zM825.48 281.53h3.58v2.77h-3.58zM810.60 262.00h3.58v2.77h-3.58z"/>
<path fill="#0012ff" d="M867.12 296.72h3.58v2.77h-3.58zM873.08 296.72h3.58v2.77h-3.58zM879.03 296.72h3.58v2.77h-3.58zM882.00 296.72h3.58v2.77h-3.58zM884.98 296.72h3.58v2.77h-3.58zM893.90 296.72h3.58v2.77h-3.58zM896.88 296.72h3.58v2.77h-3.58zM902.83 296.72h3.58v2.77h-3.58zM905.80 296.72h3.58v2.77h-3.58zM914.73 296.72h2.98v2.77h-2.98zM843.33 292.38h3.58v2.77h-3.58zM834.40 288.04h3.58v2.77h-3.58zM828.45 283.70h3.58v2.77h-3.58zM822.50 279.36h3.58v2.77h-3.58zM813.58 268.51h3.58v2.77h-3.58z"/>
<path fill="#0022ff" d="M849.28 294.55h3.58v2.77h-3.58zM831.43 285.87h3.58v2.77h-3.58zM834.40 285.87h3.58v2.77h-3.58zM825.48 279.36h3.58v2.77h-3.58zM819.53 275.02h3.58v2.77h-3.58zM816.55 272.85h3.58v2.77h-3.58z"/>
<path fill="#0033ff" d="M852.25 294.55h3.58v2.77h-3.58zM861.18 294.55h3.58v2.77h-3.58zM896.88 294.55h3.58v2.77h-3.58zM914.73 294.55h2.98v2.77h-2.98zM846.30 292.38h3.58v2.77h-3.58zM840.35 290.21h3.58v2.77h-3.58zM837.38 288.04h3.58v2.77h-3.58zM813.58 264.17h3.58v2.77h-3.58z"/>
<path fill="#0043ff" d="M855.23 294.55h3.58v2.77h-3.58zM858.20 294.55h3.58v2.77h-3.58zM867.12 294.55h3.58v2.77h-3.58zM870.10 294.55h3.58v2.77h-3.58zM876.05 294.55h3.58v2.77h-3.58zM890.93 294.55h3.58v2.77h-3.58zM899.85 294.55h3.58v2.77h-3.58zM905.80 294.55h3.58v2.77h-3.58zM828.45 281.53h3.58v2.77h-3.58zM822.50 277.19h3.58v2.77h-3.58zM819.53 272.85h3.58v2.77h-3.58zM816.55 270.68h3.58v2.77h-3.58zM813.58 266.34h3.58v2.77h-3.58zM813.58 262.00h3.58v2.77h-3.58z"/>
<path fill="#0053ff" d="M884.98 294.55h3.58v2.77h-3.58zM887.95 294.55h3.58v2.77h-3.58zM902.83 294.55h3.58v2.77h-3.58zM908.78 294.55h3.58v2.77h-3.58zM911.75 294.55h3.58v2.77h-3.58zM849.28 292.38h3.58v2.77h-3.58zM843.33 290.21h3.58v2.77h-3.58zM816.55 268.51h3.58v2.77h-3.58z"/>
<path fill="#0063ff" d="M864.15 294.55h3.58v2.77h-3.58zM873.08 294.55h3.58v2.77h-3.58zM879.03 294.55h3.58v2.77h-3.58zM882.00 294.55h3.58v2.77h-3.58zM893.90 294.55h3.58v2.77h-3.58zM840.35 288.04h3.58v2.77h-3.58zM837.38 285.87h3.58v2.77h-3.58zM831.43 283.70h3.58v2.77h-3.58zM825.48 277.19h3.58v2.77h-3.58zM822.50 275.02h3.58v2.77h-3.58z"/>
<path fill="#0073ff" d="M834.40 283.70h3.58v2.77h-3.58zM831.43 281.53h3.58v2.77h-3.58zM828.45 279.36h3.58v2.77h-3.58zM816.55 264.17h3.58v2.77h-3.58z"/>
<path fill="#0084ff" d="M852.25 292.38h3.58v2.77h-3.58zM867.12 292.38h3.58v2.77h-3.58zM914.73 292.38h2.98v2.77h-2.98zM846.30 290.21h3.58v2.77h-3.58zM816.55 266.34h3.58v2.77h-3.58z"/>
<path fill="#0094ff" d="M876.05 292.38h3.58v2.77h-3.58zM879.03 292.38h3.58v2.77h-3.58zM882.00 292.38h3.58v2.77h-3.58zM890.93 292.38h3.58v2.77h-3.58zM893.90 292.38h3.58v2.77h-3.58zM896.88 292.38h3.58v2.77h-3.58zM899.85 292.38h3.58v2.77h-3.58zM911.75 292.38h3.58v2.77h-3.58zM843.33 288.04h3.58v2.77h-3.58zM822.50 272.85h3.58v2.77h-3.58zM819.53 270.68h3.58v2.77h-3.58z"/>
<path fill="#00a4ff" d="M855.23 292.38h3.58v2.77h-3.58zM873.08 292.38h3.58v2.77h-3.58zM884.98 292.38h3.58v2.77h-3.58zM887.95 292.38h3.58v2.77h-3.58zM908.78 292.38h3.58v2.77h-3.58zM840.35 285.87h3.58v2.77h-3.58z"/>
<path fill="#00b4ff" d="M858.20 292.38h3.58v2.77h-3.58zM861.18 292.38h3.58v2.77h-3.58zM905.80 292.38h3.58v2.77h-3.58zM837.38 283.70h3.58v2.77h-3.58zM834.40 281.53h3.58v2.77h-3.58zM822.50 270.68h3.58v2.77h-3.58z"/>
<path fill="#00c4ff" d="M864.15 292.38h3.58v2.77h-3.58zM870.10 292.38h3.58v2.77h-3.58zM902.83 292.38h3.58v2.77h-3.58zM849.28 290.21h3.58v2.77h-3.58zM825.48 275.02h3.58v2.77h-3.58zM816.55 262.00h3.58v2.77h-3.58z"/>
<path fill="#00d4ff" d="M843.33 285.87h3.58v2.77h-3.58zM819.53 268.51h3.58v2.77h-3.58z"/>
<path fill="#00e5ff" d="M864.15 290.21h3.58v2.77h-3.58zM873.08 290.21h3.58v2.77h-3.58zM887.95 290.21h3.58v2.77h-3.58zM890.93 290.21h3.58v2.77h-3.58zM896.88 290.21h3.58v2.77h-3.58zM911.75 290.21h3.58v2.77h-3.58zM849.28 288.04h3.58v2.77h-3.58zM840.35 283.70h3.58v2.77h-3.58zM828.45 277.19h3.58v2.77h-3.58zM825.48 272.85h3.58v2.77h-3.58zM819.53 266.34h3.58v2.77h-3.58z"/>
<path fill="#00f5ff" d="M852.25 290.21h3.58v2.77h-3.58zM858.20 290.21h3.58v2.77h-3.58zM893.90 290.21h3.58v2.77h-3.58zM899.85 290.21h3.58v2.77h-3.58zM846.30 288.04h3.58v2.77h-3.58zM831.43 279.36h3.58v2.77h-3.58zM819.53 262.00h3.58v2.77h-3.58z"/>
<path fill="#06fff9" d="M876.05 290.21h3.58v2.77h-3.58zM914.73 290.21h2.98v2.77h-2.98zM846.30 285.87h3.58v2.77h-3.58zM825.48 270.68h3.58v2.77h-3.58z"/>
<path fill="#16ffe9" d="M855.23 290.21h3.58v2.77h-3.58zM867.12 290.21h3.58v2.77h-3.58zM879.03 290.21h3.58v2.77h-3.58zM882.00 290.21h3.58v2.77h-3.58zM884.98 290.21h3.58v2.77h-3.58zM905.80 290.21h3.58v2.77h-3.58zM908.78 290.21h3.58v2.77h-3.58zM828.45 275.02h3.58v2.77h-3.58zM822.50 268.51h3.58v2.77h-3.58zM819.53 264.17h3.58v2.77h-3.58z"/>
<path fill="#26ffd9" d="M861.18 290.21h3.58v2.77h-3.58zM870.10 290.21h3.58v2.77h-3.58zM902.83 290.21h3.58v2.77h-3.58zM852.25 288.04h3.58v2.77h-3.58zM831.43 277.19h3.58v2.77h-3.58zM828.45 272.85h3.58v2.77h-3.58z"/>
<path fill="#37ffc8" d="M855.23 288.04h3.58v2.77h-3.58zM887.95 288.04h3.58v2.77h-3.58zM843.33 283.70h3.58v2.77h-3.58zM837.38 281.53h3.58v2.77h-3.58zM834.40 279.36h3.58v2.77h-3.58z"/>
<path fill="#47ffb8" d="M864.15 288.04h3.58v2.77h-3.58zM890.93 288.04h3.58v2.77h-3.58zM905.80 288.04h3.58v2.77h-3.58zM914.73 288.04h2.98v2.77h-2.98zM822.50 264.17h3.58v2.77h-3.58zM822.50 262.00h3.58v2.77h-3.58z"/>
<path fill="#57ffa8" d="M858.20 288.04h3.58v2.77h-3.58zM873.08 288.04h3.58v2.77h-3.58zM879.03 288.04h3.58v2.77h-3.58zM822.50 266.34h3.58v2.77h-3.58z"/>
<path fill="#67ff98" d="M861.18 288.04h3.58v2.77h-3.58zM867.12 288.04h3.58v2.77h-3.58zM870.10 288.04h3.58v2.77h-3.58zM911.75 288.04h3.58v2.77h-3.58zM849.28 285.87h3.58v2.77h-3.58z"/>
<path fill="#77ff88" d="M908.78 288.04h3.58v2.77h-3.58zM840.35 281.53h3.58v2.77h-3.58zM834.40 277.19h3.58v2.77h-3.58zM831.43 275.02h3.58v2.77h-3.58zM828.45 270.68h3.58v2.77h-3.58z"/>
<path fill="#88ff77" d="M876.05 288.04h3.58v2.77h-3.58zM882.00 288.04h3.58v2.77h-3.58zM884.98 288.04h3.58v2.77h-3.58zM893.90 288.04h3.58v2.77h-3.58zM896.88 288.04h3.58v2.77h-3.58zM899.85 288.04h3.58v2.77h-3.58zM902.83 288.04h3.58v2.77h-3.58zM825.48 268.51h3.58v2.77h-3.58z"/>
<path fill="#98ff67" d="M846.30 283.70h3.58v2.77h-3.58zM837.38 279.36h3.58v2.77h-3.58z"/>
<path fill="#a8ff57" d="M852.25 285.87h3.58v2.77h-3.58zM855.23 285.87h3.58v2.77h-3.58zM867.12 285.87h3.58v2.77h-3.58zM873.08 285.87h3.58v2.77h-3.58zM876.05 285.87h3.58v2.77h-3.58zM896.88 285.87h3.58v2.77h-3.58zM840.35 279.36h3.58v2.77h-3.58zM831.43 272.85h3.58v2.77h-3.58zM825.48 266.34h3.58v2.77h-3.58zM825.48 262.00h3.58v2.77h-3.58z"/>
<path fill="#b8ff47" d="M858.20 285.87h3.58v2.77h-3.58zM861.18 285.87h3.58v2.77h-3.58zM870.10 285.87h3.58v2.77h-3.58zM884.98 285.87h3.58v2.77h-3.58zM887.95 285.87h3.58v2.77h-3.58zM890.93 285.87h3.58v2.77h-3.58zM908.78 285.87h3.58v2.77h-3.58zM849.28 283.70h3.58v2.77h-3.58zM837.38 277.19h3.58v2.77h-3.58zM834.40 275.02h3.58v2.77h-3.58zM825.48 264.17h3.58v2.77h-3.58z"/>
<path fill="#c8ff37" d="M882.00 285.87h3.58v2.77h-3.58zM905.80 285.87h3.58v2.77h-3.58zM911.75 285.87h3.58v2.77h-3.58zM914.73 285.87h2.98v2.77h-2.98zM852.25 283.70h3.58v2.77h-3.58zM843.33 281.53h3.58v2.77h-3.58z"/>
<path fill="#d9ff26" d="M902.83 285.87h3.58v2.77h-3.58zM828.45 266.34h3.58v2.77h-3.58z"/>
<path fill="#e9ff16" d="M864.15 285.87h3.58v2.77h-3.58zM879.03 285.87h3.58v2.77h-3.58zM893.90 285.87h3.58v2.77h-3.58zM843.33 279.36h3.58v2.77h-3.58zM831.43 270.68h3.58v2.77h-3.58zM828.45 268.51h3.58v2.77h-3.58z"/>
<path fill="#f9ff06" d="M899.85 285.87h3.58v2.77h-3.58zM855.23 283.70h3.58v2.77h-3.58zM840.35 277.19h3.58v2.77h-3.58zM834.40 272.85h3.58v2.77h-3.58z"/>
<path fill="#fff500" d="M870.10 283.70h3.58v2.77h-3.58zM879.03 283.70h3.58v2.77h-3.58zM914.73 283.70h2.98v2.77h-2.98zM846.30 281.53h3.58v2.77h-3.58zM849.28 281.53h3.58v2.77h-3.58zM828.45 264.17h3.58v2.77h-3.58z"/>
<path fill="#ffe500" d="M867.12 283.70h3.58v2.77h-3.58zM884.98 283.70h3.58v2.77h-3.58zM896.88 283.70h3.58v2.77h-3.58zM902.83 283.70h3.58v2.77h-3.58zM911.75 283.70h3.58v2.77h-3.58zM837.38 275.02h3.58v2.77h-3.58z"/>
<path fill="#ffd500" d="M858.20 283.70h3.58v2.77h-3.58zM890.93 283.70h3.58v2.77h-3.58zM893.90 283.70h3.58v2.77h-3.58zM846.30 279.36h3.58v2.77h-3.58zM831.43 268.51h3.58v2.77h-3.58z"/>
<path fill="#ffc400" d="M861.18 283.70h3.58v2.77h-3.58zM887.95 283.70h3.58v2.77h-3.58zM899.85 283.70h3.58v2.77h-3.58zM905.80 283.70h3.58v2.77h-3.58zM834.40 270.68h3.58v2.77h-3.58zM828.45 262.00h3.58v2.77h-3.58z"/>
<path fill="#ffb400" d="M864.15 283.70h3.58v2.77h-3.58zM873.08 283.70h3.58v2.77h-3.58zM876.05 283.70h3.58v2.77h-3.58zM882.00 283.70h3.58v2.77h-3.58zM908.78 283.70h3.58v2.77h-3.58z"/>
<path fill="#ffa400" d="M843.33 277.19h3.58v2.77h-3.58zM831.43 264.17h3.58v2.77h-3.58z"/>
<path fill="#ff9400" d="M852.25 281.53h3.58v2.77h-3.58zM864.15 281.53h3.58v2.77h-3.58zM873.08 281.53h3.58v2.77h-3.58zM890.93 281.53h3.58v2.77h-3.58zM896.88 281.53h3.58v2.77h-3.58zM899.85 281.53h3.58v2.77h-3.58zM905.80 281.53h3.58v2.77h-3.58zM908.78 281.53h3.58v2.77h-3.58zM846.30 277.19h3.58v2.77h-3.58zM837.38 272.85h3.58v2.77h-3.58zM831.43 266.34h3.58v2.77h-3.58zM831.43 262.00h3.58v2.77h-3.58z"/>
<path fill="#ff8400" d="M855.23 281.53h3.58v2.77h-3.58zM861.18 281.53h3.58v2.77h-3.58zM876.05 281.53h3.58v2.77h-3.58zM884.98 281.53h3.58v2.77h-3.58zM902.83 281.53h3.58v2.77h-3.58zM911.75 281.53h3.58v2.77h-3.58zM849.28 279.36h3.58v2.77h-3.58zM840.35 275.02h3.58v2.77h-3.58zM834.40 268.51h3.58v2.77h-3.58z"/>
<path fill="#ff7300" d="M858.20 281.53h3.58v2.77h-3.58zM867.12 281.53h3.58v2.77h-3.58zM870.10 281.53h3.58v2.77h-3.58zM879.03 281.53h3.58v2.77h-3.58zM882.00 281.53h3.58v2.77h-3.58zM893.90 281.53h3.58v2.77h-3.58zM852.25 279.36h3.58v2.77h-3.58z"/>
<path fill="#ff6300" d="M887.95 281.53h3.58v2.77h-3.58zM914.73 281.53h2.98v2.77h-2.98zM843.33 275.02h3.58v2.77h-3.58zM840.35 272.85h3.58v2.77h-3.58z"/>
<path fill="#ff5300" d="M837.38 270.68h3.58v2.77h-3.58zM834.40 266.34h3.58v2.77h-3.58z"/>
<path fill="#ff4300" d="M855.23 279.36h3.58v2.77h-3.58zM858.20 279.36h3.58v2.77h-3.58zM867.12 279.36h3.58v2.77h-3.58zM908.78 279.36h3.58v2.77h-3.58zM849.28 277.19h3.58v2.77h-3.58z"/>
<path fill="#ff3300" d="M861.18 279.36h3.58v2.77h-3.58zM864.15 279.36h3.58v2.77h-3.58zM873.08 279.36h3.58v2.77h-3.58zM876.05 279.36h3.58v2.77h-3.58zM879.03 279.36h3.58v2.77h-3.58zM882.00 279.36h3.58v2.77h-3.58zM887.95 279.36h3.58v2.77h-3.58zM893.90 279.36h3.58v2.77h-3.58zM896.88 279.36h3.58v2.77h-3.58zM899.85 279.36h3.58v2.77h-3.58zM902.83 279.36h3.58v2.77h-3.58zM846.30 275.02h3.58v2.77h-3.58zM837.38 268.51h3.58v2.77h-3.58z"/>
<path fill="#ff2200" d="M870.10 279.36h3.58v2.77h-3.58zM884.98 279.36h3.58v2.77h-3.58zM890.93 279.36h3.58v2.77h-3.58zM905.80 279.36h3.58v2.77h-3.58zM911.75 279.36h3.58v2.77h-3.58zM914.73 279.36h2.98v2.77h-2.98zM843.33 272.85h3.58v2.77h-3.58zM840.35 270.68h3.58v2.77h-3.58zM834.40 264.17h3.58v2.77h-3.58zM834.40 262.00h3.58v2.77h-3.58z"/>
<path fill="#ff1200" d="M852.25 277.19h3.58v2.77h-3.58zM837.38 266.34h3.58v2.77h-3.58z"/>
<path fill="#ff0200" d="M849.28 275.02h3.58v2.77h-3.58zM846.30 272.85h3.58v2.77h-3.58zM843.33 270.68h3.58v2.77h-3.58zM837.38 264.17h3.58v2.77h-3.58z"/>
<path fill="#f10000" d="M855.23 277.19h3.58v2.77h-3.58zM884.98 277.19h3.58v2.77h-3.58zM887.95 277.19h3.58v2.77h-3.58zM899.85 277.19h3.58v2.77h-3.58zM905.80 277.19h3.58v2.77h-3.58zM840.35 268.51h3.58v2.77h-3.58z"/>
<path fill="#e10000" d="M858.20 277.19h3.58v2.77h-3.58zM861.18 277.19h3.58v2.77h-3.58zM864.15 277.19h3.58v2.77h-3.58zM867.12 277.19h3.58v2.77h-3.58zM870.10 277.19h3.58v2.77h-3.58zM873.08 277.19h3.58v2.77h-3.58zM876.05 277.19h3.58v2.77h-3.58zM879.03 277.19h3.58v2.77h-3.58zM890.93 277.19h3.58v2.77h-3.58zM896.88 277.19h3.58v2.77h-3.58zM908.78 277.19h3.58v2.77h-3.58zM911.75 277.19h3.58v2.77h-3.58zM914.73 277.19h2.98v2.77h-2.98zM837.38 262.00h3.58v2.77h-3.58z"/>
<path fill="#d00000" d="M882.00 277.19h3.58v2.77h-3.58zM893.90 277.19h3.58v2.77h-3.58zM902.83 277.19h3.58v2.77h-3.58zM852.25 275.02h3.58v2.77h-3.58zM843.33 268.51h3.58v2.77h-3.58zM840.35 266.34h3.58v2.77h-3.58z"/>
<path fill="#c00000" d="M846.30 270.68h3.58v2.77h-3.58z"/>
<path fill="#b00000" d="M855.23 275.02h3.58v2.77h-3.58zM858.20 275.02h3.58v2.77h-3.58zM861.18 275.02h3.58v2.77h-3.58zM864.15 275.02h3.58v2.77h-3.58zM867.12 275.02h3.58v2.77h-3.58zM870.10 275.02h3.58v2.77h-3.58zM873.08 275.02h3.58v2.77h-3.58zM876.05 275.02h3.58v2.77h-3.58zM879.03 275.02h3.58v2.77h-3.58zM882.00 275.02h3.58v2.77h-3.58zM884.98 275.02h3.58v2.77h-3.58zM887.95 275.02h3.58v2.77h-3.58zM893.90 275.02h3.58v2.77h-3.58zM896.88 275.02h3.58v2.77h-3.58zM899.85 275.02h3.58v2.77h-3.58zM902.83 275.02h3.58v2.77h-3.58zM905.80 275.02h3.58v2.77h-3.58zM908.78 275.02h3.58v2.77h-3.58zM911.75 275.02h3.58v2.77h-3.58zM849.28 272.85h3.58v2.77h-3.58zM843.33 266.34h3.58v2.77h-3.58zM840.35 264.17h3.58v2.77h-3.58zM840.35 262.00h3.58v2.77h-3.58z"/>
<path fill="#a00000" d="M890.93 275.02h3.58v2.77h-3.58zM914.73 275.02h2.98v2.77h-2.98zM852.25 272.85h3.58v2.77h-3.58zM849.28 270.68h3.58v2.77h-3.58zM846.30 268.51h3.58v2.77h-3.58z"/>
<path fill="#900000" d="M855.23 272.85h3.58v2.77h-3.58zM858.20 272.85h3.58v2.77h-3.58zM861.18 272.85h3.58v2.77h-3.58zM864.15 272.85h3.58v2.77h-3.58zM867.12 272.85h3.58v2.77h-3.58zM870.10 272.85h3.58v2.77h-3.58zM873.08 272.85h3.58v2.77h-3.58zM876.05 272.85h3.58v2.77h-3.58zM879.03 272.85h3.58v2.77h-3.58zM882.00 272.85h3.58v2.77h-3.58zM884.98 272.85h3.58v2.77h-3.58zM887.95 272.85h3.58v2.77h-3.58zM890.93 272.85h3.58v2.77h-3.58zM893.90 272.85h3.58v2.77h-3.58zM896.88 272.85h3.58v2.77h-3.58zM899.85 272.85h3.58v2.77h-3.58zM902.83 272.85h3.58v2.77h-3.58zM905.80 272.85h3.58v2.77h-3.58zM908.78 272.85h3.58v2.77h-3.58zM911.75 272.85h3.58v2.77h-3.58zM914.73 272.85h2.98v2.77h-2.98zM852.25 270.68h3.58v2.77h-3.58zM849.28 268.51h3.58v2.77h-3.58zM846.30 266.34h3.58v2.77h-3.58zM843.33 264.17h3.58v2.77h-3.58zM843.33 262.00h3.58v2.77h-3.58z"/>
<path fill="#800000" d="M855.23 270.68h3.58v2.77h-3.58zM858.20 270.68h3.58v2.77h-3.58zM861.18 270.68h3.58v2.77h-3.58zM864.15 270.68h3.58v2.77h-3.58zM867.12 270.68h3.58v2.77h-3.58zM870.10 270.68h3.58v2.77h-3.58zM873.08 270.68h3.58v2.77h-3.58zM876.05 270.68h3.58v2.77h-3.58zM879.03 270.68h3.58v2.77h-3.58zM882.00 270.68h3.58v2.77h-3.58zM884.98 270.68h3.58v2.77h-3.58zM887.95 270.68h3.58v2.77h-3.58zM890.93 270.68h3.58v2.77h-3.58zM893.90 270.68h3.58v2.77h-3.58zM896.88 270.68h3.58v2.77h-3.58zM899.85 270.68h3.58v2.77h-3.58zM902.83 270.68h3.58v2.77h-3.58zM905.80 270.68h3.58v2.77h-3.58zM908.78 270.68h3.58v2.77h-3.58zM911.75 270.68h3.58v2.77h-3.58zM914.73 270.68h2.98v2.77h-2.98zM852.25 268.51h3.58v2.77h-3.58zM855.23 268.51h3.58v2.77h-3.58zM858.20 268.51h3.58v2.77h-3.58zM861.18 268.51h3.58v2.77h-3.58zM864.15 268.51h3.58v2.77h-3.58zM867.12 268.51h3.58v2.77h-3.58zM870.10 268.51h3.58v2.77h-3.58zM873.08 268.51h3.58v2.77h-3.58zM876.05 268.51h3.58v2.77h-3.58zM879.03 268.51h3.58v2.77h-3.58zM882.00 268.51h3.58v2.77h-3.58zM884.98 268.51h3.58v2.77h-3.58zM887.95 268.51h3.58v2.77h-3.58zM890.93 268.51h3.58v2.77h-3.58zM893.90 268.51h3.58v2.77h-3.58zM896.88 268.51h3.58v2.77h-3.58zM899.85 268.51h3.58v2.77h-3.58zM902.83 268.51h3.58v2.77h-3.58zM905.80 268.51h3.58v2.77h-3.58zM908.78 268.51h3.58v2.77h-3.58zM911.75 268.51h3.58v2.77h-3.58zM914.73 268.51h2.98v2.77h-2.98zM849.28 266.34h3.58v2.77h-3.58zM852.25 266.34h3.58v2.77h-3.58zM855.23 266.34h3.58v2.77h-3.58zM858.20 266.34h3.58v2.77h-3.58zM861.18 266.34h3.58v2.77h-3.58zM864.15 266.34h3.58v2.77h-3.58zM867.12 266.34h3.58v2.77h-3.58zM870.10 266.34h3.58v2.77h-3.58zM873.08 266.34h3.58v2.77h-3.58zM876.05 266.34h3.58v2.77h-3.58zM879.03 266.34h3.58v2.77h-3.58zM882.00 266.34h3.58v2.77h-3.58zM884.98 266.34h3.58v2.77h-3.58zM887.95 266.34h3.58v2.77h-3.58zM890.93 266.34h3.58v2.77h-3.58zM893.90 266.34h3.58v2.77h-3.58zM896.88 266.34h3.58v2.77h-3.58zM899.85 266.34h3.58v2.77h-3.58zM902.83 266.34h3.58v2.77h-3.58zM905.80 266.34h3.58v2.77h-3.58zM908.78 266.34h3.58v2.77h-3.58zM911.75 266.34h3.58v2.77h-3.58zM914.73 266.34h2.98v2.77h-2.98zM846.30 264.17h3.58v2.77h-3.58zM849.28 264.17h3.58v2.77h-3.58zM852.25 264.17h3.58v2.77h-3.58zM855.23 264.17h3.58v2.77h-3.58zM858.20 264.17h3.58v2.77h-3.58zM861.18 264.17h3.58v2.77h-3.58zM864.15 264.17h3.58v2.77h-3.58zM867.12 264.17h3.58v2.77h-3.58zM870.10 264.17h3.58v2.77h-3.58zM873.08 264.17h3.58v2.77h-3.58zM876.05 264.17h3.58v2.77h-3.58zM879.03 264.17h3.58v2.77h-3.58zM882.00 264.17h3.58v2.77h-3.58zM884.98 264.17h3.58v2.77h-3.58zM887.95 264.17h3.58v2.77h-3.58zM890.93 264.17h3.58v2.77h-3.58zM893.90 264.17h3.58v2.77h-3.58zM896.88 264.17h3.58v2.77h-3.58zM899.85 264.17h3.58v2.77h-3.58zM902.83 264.17h3.58v2.77h-3.58zM905.80 264.17h3.58v2.77h-3.58zM908.78 264.17h3.58v2.77h-3.58zM911.75 264.17h3.58v2.77h-3.58zM914.73 264.17h2.98v2.77h-2.98zM846.30 262.00h3.58v2.77h-3.58zM849.28 262.00h3.58v2.77h-3.58zM852.25 262.00h3.58v2.77h-3.58zM855.23 262.00h3.58v2.77h-3.58zM858.20 262.00h3.58v2.77h-3.58zM861.18 262.00h3.58v2.77h-3.58zM864.15 262.00h3.58v2.77h-3.58zM867.12 262.00h3.58v2.77h-3.58zM870.10 262.00h3.58v2.77h-3.58zM873.08 262.00h3.58v2.77h-3.58zM876.05 262.00h3.58v2.77h-3.58zM879.03 262.00h3.58v2.77h-3.58zM882.00 262.00h3.58v2.77h-3.58zM884.98 262.00h3.58v2.77h-3.58zM887.95 262.00h3.58v2.77h-3.58zM890.93 262.00h3.58v2.77h-3.58zM893.90 262.00h3.58v2.77h-3.58zM896.88 262.00h3.58v2.77h-3.58zM899.85 262.00h3.58v2.77h-3.58zM902.83 262.00h3.58v2.77h-3.58zM905.80 262.00h3.58v2.77h-3.58zM908.78 262.00h3.58v2.77h-3.58zM911.75 262.00h3.58v2.77h-3.58zM914.73 262.00h2.98v2.77h-2.98z"/>
<text x="827" y="363.6" font-size="10.5" fill="#2b2b2b" text-anchor="middle">10</text>
<text x="793.2" y="331.9" font-size="10.5" fill="#2b2b2b" text-anchor="end">10</text>
<text x="856.7" y="363.6" font-size="10.5" fill="#2b2b2b" text-anchor="middle">20</text>
<text x="793.2" y="310.2" font-size="10.5" fill="#2b2b2b" text-anchor="end">20</text>
<text x="886.5" y="363.6" font-size="10.5" fill="#2b2b2b" text-anchor="middle">30</text>
<text x="793.2" y="288.5" font-size="10.5" fill="#2b2b2b" text-anchor="end">30</text>
<text x="916.2" y="363.6" font-size="10.5" fill="#2b2b2b" text-anchor="middle">40</text>
<text x="793.2" y="266.8" font-size="10.5" fill="#2b2b2b" text-anchor="end">40</text>
<text x="857.7" y="382.2" font-size="12.4" fill="#2b2b2b" text-anchor="middle">Input Layer Neuron</text>
<text x="771.2" y="304.9" font-size="12.4" fill="#2b2b2b" text-anchor="middle" transform="rotate(-90 771.2 304.9)">Output Layer Neuron</text>
<rect x="948.7" y="262" width="22" height="86.8" fill="url(#jet)" stroke="#262626" stroke-width="0.8"/>
<text x="976.7" y="265.7" font-size="10.5" fill="#2b2b2b" text-anchor="start">1</text>
<text x="976.7" y="309.1" font-size="10.5" fill="#2b2b2b" text-anchor="start">0.5</text>
<text x="976.7" y="352.5" font-size="10.5" fill="#2b2b2b" text-anchor="start">0</text>
<text x="1008.7" y="305.4" font-size="12.45" fill="#2b2b2b" text-anchor="middle" transform="rotate(-90 1008.7 305.4)">Connection Probability</text>
<text x="857.7" y="253" font-size="14.8" fill="#2b2b2b" text-anchor="middle">Degree + Hebbian</text>
<line x1="656" y1="143.5" x2="684" y2="143.5" stroke="#000" stroke-width="4.2"/>
<rect x="684.3" y="98.8" width="37" height="88.8" fill="#fff" stroke="#000" stroke-width="4"/>
<text x="710.5" y="143.5" font-size="24.5" fill="#000" text-anchor="middle" transform="rotate(-90 710.5 143.5)">Rewire</text>
<line x1="723.3" y1="143.5" x2="742" y2="143.5" stroke="#000" stroke-width="4"/>
<polygon points="751,143.5 736,151.5 739.8,143.5 736,135.5" fill="#000"/>
<line x1="721.5" y1="99.5" x2="764" y2="56.7" stroke="#000" stroke-width="4"/>
<polygon points="770.3,50.3 765.4,66.6 762.4,58.3 754.1,55.3" fill="#000"/>
<line x1="721.5" y1="187.3" x2="764.1" y2="231.5" stroke="#000" stroke-width="4"/>
<polygon points="770.3,238 754.1,232.7 762.5,229.9 765.7,221.6" fill="#000"/>
<text transform="translate(28,412) scale(0.88,1)" font-size="38.8" fill="#000" stroke="#000" stroke-width="0.4">C</text>
<text x="197" y="414" font-size="16.65" fill="#2b2b2b" text-anchor="middle">Degree vs. Synergy Correlation</text>
<line x1="57.7" y1="423" x2="57.7" y2="600" stroke="#2b2b2b" stroke-width="1"/>
<line x1="57.7" y1="434" x2="61" y2="434" stroke="#2b2b2b" stroke-width="1"/>
<text x="51" y="437.8" font-size="10.8" fill="#2b2b2b" text-anchor="end">0.5</text>
<line x1="57.7" y1="462.7" x2="61" y2="462.7" stroke="#2b2b2b" stroke-width="1"/>
<text x="51" y="466.5" font-size="10.8" fill="#2b2b2b" text-anchor="end">0.4</text>
<line x1="57.7" y1="491.5" x2="61" y2="491.5" stroke="#2b2b2b" stroke-width="1"/>
<text x="51" y="495.3" font-size="10.8" fill="#2b2b2b" text-anchor="end">0.3</text>
<line x1="57.7" y1="520.2" x2="61" y2="520.2" stroke="#2b2b2b" stroke-width="1"/>
<text x="51" y="524" font-size="10.8" fill="#2b2b2b" text-anchor="end">0.2</text>
<line x1="57.7" y1="549" x2="61" y2="549" stroke="#2b2b2b" stroke-width="1"/>
<text x="51" y="552.8" font-size="10.8" fill="#2b2b2b" text-anchor="end">0.1</text>
<line x1="57.7" y1="577.7" x2="61" y2="577.7" stroke="#2b2b2b" stroke-width="1"/>
<text x="51" y="581.5" font-size="10.8" fill="#2b2b2b" text-anchor="end">0</text>
<text x="18.5" y="530" font-size="12.3" fill="#2b2b2b" text-anchor="middle" transform="rotate(-90 18.5 530)">Degree vs. Synergy Correlation</text>
<circle cx="174.9" cy="509.9" r="2.2" fill="#b4d6f2"/>
<circle cx="193.9" cy="582.7" r="2.2" fill="#f9e6bc"/>
<circle cx="157" cy="498.9" r="2.2" fill="#b9e5bf"/>
<circle cx="186.6" cy="567.2" r="2.2" fill="#f9e6bc"/>
<circle cx="256.7" cy="566.6" r="2.2" fill="#f6bfc2"/>
<circle cx="198.8" cy="588.9" r="2.2" fill="#f9e6bc"/>
<circle cx="255" cy="536.4" r="2.2" fill="#f6bfc2"/>
<circle cx="261.8" cy="548.8" r="2.2" fill="#f6bfc2"/>
<circle cx="201.9" cy="549.6" r="2.2" fill="#f9e6bc"/>
<circle cx="274.9" cy="556.1" r="2.2" fill="#f6bfc2"/>
<circle cx="148.8" cy="501.2" r="2.2" fill="#b4d6f2"/>
<circle cx="147.5" cy="493.3" r="2.2" fill="#b4d6f2"/>
<circle cx="175.5" cy="489.6" r="2.2" fill="#b9e5bf"/>
<circle cx="170.8" cy="503.1" r="2.2" fill="#b4d6f2"/>
<circle cx="191.5" cy="497.7" r="2.2" fill="#b4d6f2"/>
<circle cx="270.1" cy="558.6" r="2.2" fill="#f6bfc2"/>
<circle cx="157.3" cy="576" r="2.2" fill="#f9e6bc"/>
<circle cx="140.4" cy="542.3" r="2.2" fill="#f9e6bc"/>
<circle cx="172.8" cy="504.8" r="2.2" fill="#b9e5bf"/>
<circle cx="217.9" cy="574.3" r="2.2" fill="#f9e6bc"/>
<circle cx="176.7" cy="544" r="2.2" fill="#f9e6bc"/>
<circle cx="135.2" cy="509.6" r="2.2" fill="#b4d6f2"/>
<circle cx="187" cy="494.6" r="2.2" fill="#b4d6f2"/>
<circle cx="200.3" cy="507.1" r="2.2" fill="#b9e5bf"/>
<circle cx="212.1" cy="506.3" r="2.2" fill="#b9e5bf"/>
<circle cx="176.1" cy="510.5" r="2.2" fill="#b9e5bf"/>
<circle cx="172.5" cy="560.3" r="2.2" fill="#f9e6bc"/>
<circle cx="157.6" cy="547.5" r="2.2" fill="#f9e6bc"/>
<circle cx="290.3" cy="563.9" r="2.2" fill="#f6bfc2"/>
<circle cx="309.4" cy="574" r="2.2" fill="#f6bfc2"/>
<circle cx="186.8" cy="512" r="2.2" fill="#b4d6f2"/>
<circle cx="154.2" cy="496.2" r="2.2" fill="#b4d6f2"/>
<circle cx="192.5" cy="585" r="2.2" fill="#f9e6bc"/>
<circle cx="161.4" cy="492.3" r="2.2" fill="#b4d6f2"/>
<circle cx="294.3" cy="570.1" r="2.2" fill="#f6bfc2"/>
<circle cx="204.9" cy="516.7" r="2.2" fill="#b4d6f2"/>
<circle cx="265.3" cy="547.9" r="2.2" fill="#f6bfc2"/>
<circle cx="314.6" cy="594.5" r="2.2" fill="#f6bfc2"/>
<circle cx="288.8" cy="538.8" r="2.2" fill="#f6bfc2"/>
<circle cx="206.1" cy="582.6" r="2.2" fill="#f9e6bc"/>
<circle cx="166.8" cy="561.4" r="2.2" fill="#f9e6bc"/>
<circle cx="152.6" cy="513.8" r="2.2" fill="#b4d6f2"/>
<circle cx="278.1" cy="540.6" r="2.2" fill="#f6bfc2"/>
<circle cx="142.1" cy="506.2" r="2.2" fill="#b4d6f2"/>
<circle cx="224.1" cy="598.4" r="2.2" fill="#f9e6bc"/>
<circle cx="189.1" cy="560.6" r="2.2" fill="#f9e6bc"/>
<circle cx="163.9" cy="512.8" r="2.2" fill="#b4d6f2"/>
<circle cx="192.7" cy="580.3" r="2.2" fill="#f9e6bc"/>
<circle cx="290.6" cy="555.6" r="2.2" fill="#f6bfc2"/>
<circle cx="210" cy="477.1" r="2.2" fill="#b9e5bf"/>
<circle cx="160.9" cy="491.5" r="2.2" fill="#b4d6f2"/>
<circle cx="224.9" cy="530" r="2.2" fill="#b9e5bf"/>
<circle cx="203.7" cy="521.6" r="2.2" fill="#b9e5bf"/>
<circle cx="299" cy="594" r="2.2" fill="#f6bfc2"/>
<circle cx="171" cy="487.5" r="2.2" fill="#b4d6f2"/>
<circle cx="122.7" cy="471" r="2.2" fill="#b9e5bf"/>
<circle cx="143" cy="495.8" r="2.2" fill="#b4d6f2"/>
<circle cx="251.9" cy="571.7" r="2.2" fill="#f6bfc2"/>
<circle cx="190" cy="552.9" r="2.2" fill="#b4d6f2"/>
<circle cx="269.6" cy="576.9" r="2.2" fill="#f6bfc2"/>
<circle cx="258.5" cy="557.4" r="2.2" fill="#f6bfc2"/>
<circle cx="146.6" cy="489.7" r="2.2" fill="#b9e5bf"/>
<circle cx="238.8" cy="577.4" r="2.2" fill="#f9e6bc"/>
<circle cx="178" cy="582.7" r="2.2" fill="#f9e6bc"/>
<circle cx="278.6" cy="572.5" r="2.2" fill="#f6bfc2"/>
<circle cx="133" cy="509" r="2.2" fill="#b4d6f2"/>
<circle cx="167.8" cy="485.1" r="2.2" fill="#b9e5bf"/>
<circle cx="157.7" cy="586.6" r="2.2" fill="#f9e6bc"/>
<circle cx="275.4" cy="553.9" r="2.2" fill="#f6bfc2"/>
<circle cx="166.5" cy="555.3" r="2.2" fill="#f9e6bc"/>
<circle cx="182.2" cy="570.9" r="2.2" fill="#f9e6bc"/>
<circle cx="173.9" cy="506" r="2.2" fill="#b9e5bf"/>
<circle cx="200.2" cy="572.2" r="2.2" fill="#f9e6bc"/>
<circle cx="289.7" cy="560.9" r="2.2" fill="#f6bfc2"/>
<circle cx="204.7" cy="502.3" r="2.2" fill="#b9e5bf"/>
<circle cx="163.8" cy="572.1" r="2.2" fill="#f9e6bc"/>
<circle cx="152.7" cy="515.6" r="2.2" fill="#b9e5bf"/>
<circle cx="133.9" cy="496.5" r="2.2" fill="#b9e5bf"/>
<circle cx="168.1" cy="484.2" r="2.2" fill="#b4d6f2"/>
<circle cx="192.1" cy="592.6" r="2.2" fill="#f9e6bc"/>
<circle cx="150.5" cy="502.8" r="2.2" fill="#b9e5bf"/>
<circle cx="268.3" cy="585.4" r="2.2" fill="#f6bfc2"/>
<circle cx="205.4" cy="515.7" r="2.2" fill="#b4d6f2"/>
<circle cx="117.2" cy="475.6" r="2.2" fill="#b4d6f2"/>
<circle cx="245.4" cy="532" r="2.2" fill="#f6bfc2"/>
<circle cx="218.6" cy="512.5" r="2.2" fill="#b9e5bf"/>
<circle cx="188.6" cy="509.8" r="2.2" fill="#b4d6f2"/>
<circle cx="261.5" cy="560.3" r="2.2" fill="#f6bfc2"/>
<circle cx="132.3" cy="493.6" r="2.2" fill="#b4d6f2"/>
<circle cx="277.1" cy="595.7" r="2.2" fill="#f6bfc2"/>
<circle cx="282.9" cy="563.6" r="2.2" fill="#f6bfc2"/>
<circle cx="168.2" cy="569.8" r="2.2" fill="#f9e6bc"/>
<circle cx="186.7" cy="543.8" r="2.2" fill="#f9e6bc"/>
<circle cx="285.6" cy="569.5" r="2.2" fill="#f6bfc2"/>
<circle cx="140.9" cy="480.4" r="2.2" fill="#b4d6f2"/>
<circle cx="233.6" cy="526.7" r="2.2" fill="#b4d6f2"/>
<circle cx="286.1" cy="570.6" r="2.2" fill="#f6bfc2"/>
<circle cx="304" cy="574" r="2.2" fill="#f6bfc2"/>
<circle cx="188.8" cy="589.3" r="2.2" fill="#f9e6bc"/>
<circle cx="293.1" cy="554.8" r="2.2" fill="#f6bfc2"/>
<circle cx="180.6" cy="567.9" r="2.2" fill="#f9e6bc"/>
<circle cx="284.9" cy="560.7" r="2.2" fill="#f6bfc2"/>
<circle cx="128.1" cy="498.5" r="2.2" fill="#b4d6f2"/>
<circle cx="287.2" cy="569.4" r="2.2" fill="#f6bfc2"/>
<circle cx="285.8" cy="561.6" r="2.2" fill="#f6bfc2"/>
<circle cx="166.6" cy="517.9" r="2.2" fill="#b4d6f2"/>
<circle cx="174.5" cy="501.3" r="2.2" fill="#b9e5bf"/>
<circle cx="178.1" cy="585.4" r="2.2" fill="#f9e6bc"/>
<circle cx="309.4" cy="581.7" r="2.2" fill="#f6bfc2"/>
<circle cx="193.8" cy="503.6" r="2.2" fill="#b9e5bf"/>
<circle cx="199.8" cy="587.4" r="2.2" fill="#f9e6bc"/>
<circle cx="289.8" cy="558" r="2.2" fill="#f6bfc2"/>
<circle cx="304.3" cy="556.5" r="2.2" fill="#f6bfc2"/>
<circle cx="189.4" cy="489.7" r="2.2" fill="#b4d6f2"/>
<circle cx="155.5" cy="496.6" r="2.2" fill="#b4d6f2"/>
<circle cx="142" cy="490.1" r="2.2" fill="#b9e5bf"/>
<circle cx="127.6" cy="555.3" r="2.2" fill="#f9e6bc"/>
<circle cx="158.7" cy="501.8" r="2.2" fill="#b4d6f2"/>
<circle cx="277.2" cy="579.9" r="2.2" fill="#f6bfc2"/>
<circle cx="138.4" cy="479.7" r="2.2" fill="#b4d6f2"/>
<circle cx="186.1" cy="496.7" r="2.2" fill="#b9e5bf"/>
<circle cx="183.6" cy="521.7" r="2.2" fill="#b4d6f2"/>
<circle cx="158.5" cy="474.1" r="2.2" fill="#b4d6f2"/>
<circle cx="191" cy="490.7" r="2.2" fill="#b9e5bf"/>
<circle cx="155.7" cy="501" r="2.2" fill="#b4d6f2"/>
<circle cx="191.5" cy="503.6" r="2.2" fill="#b9e5bf"/>
<circle cx="109.3" cy="494.9" r="2.2" fill="#b9e5bf"/>
<circle cx="194" cy="498.5" r="2.2" fill="#b4d6f2"/>
<circle cx="187.5" cy="514.4" r="2.2" fill="#b4d6f2"/>
<circle cx="143.2" cy="476.8" r="2.2" fill="#b4d6f2"/>
<circle cx="169.3" cy="598.3" r="2.2" fill="#f9e6bc"/>
<circle cx="253" cy="559.6" r="2.2" fill="#f9e6bc"/>
<circle cx="169.4" cy="520" r="2.2" fill="#b4d6f2"/>
<circle cx="178.3" cy="502.3" r="2.2" fill="#b4d6f2"/>
<circle cx="170.2" cy="493.3" r="2.2" fill="#b9e5bf"/>
<circle cx="283.4" cy="557.8" r="2.2" fill="#f6bfc2"/>
<circle cx="206.3" cy="566.7" r="2.2" fill="#f9e6bc"/>
<circle cx="214.1" cy="591.4" r="2.2" fill="#f9e6bc"/>
<circle cx="218.1" cy="520.8" r="2.2" fill="#b9e5bf"/>
<circle cx="133.1" cy="499" r="2.2" fill="#b4d6f2"/>
<circle cx="290.9" cy="586.7" r="2.2" fill="#f6bfc2"/>
<circle cx="297.1" cy="575.3" r="2.2" fill="#f6bfc2"/>
<circle cx="158.5" cy="494.8" r="2.2" fill="#b4d6f2"/>
<circle cx="126.2" cy="468.8" r="2.2" fill="#b4d6f2"/>
<circle cx="200.9" cy="510.8" r="2.2" fill="#b9e5bf"/>
<circle cx="237.1" cy="581.8" r="2.2" fill="#f9e6bc"/>
<circle cx="180.4" cy="579.7" r="2.2" fill="#f9e6bc"/>
<circle cx="196.1" cy="524.5" r="2.2" fill="#b9e5bf"/>
<circle cx="150.5" cy="515" r="2.2" fill="#b4d6f2"/>
<circle cx="242.1" cy="561.9" r="2.2" fill="#f6bfc2"/>
<circle cx="162.9" cy="480.5" r="2.2" fill="#b9e5bf"/>
<circle cx="274.6" cy="564" r="2.2" fill="#f6bfc2"/>
<circle cx="273" cy="541.4" r="2.2" fill="#f6bfc2"/>
<circle cx="309.3" cy="576.1" r="2.2" fill="#f6bfc2"/>
<circle cx="289.3" cy="578.3" r="2.2" fill="#f6bfc2"/>
<circle cx="113.9" cy="467.9" r="2.2" fill="#b9e5bf"/>
<circle cx="115.1" cy="467.7" r="2.2" fill="#b4d6f2"/>
<circle cx="268.1" cy="580.2" r="2.2" fill="#f6bfc2"/>
<circle cx="175.9" cy="506.9" r="2.2" fill="#b4d6f2"/>
<circle cx="274" cy="563.3" r="2.2" fill="#f6bfc2"/>
<circle cx="139.9" cy="496.9" r="2.2" fill="#b4d6f2"/>
<circle cx="137.3" cy="484" r="2.2" fill="#b4d6f2"/>
<circle cx="117.8" cy="479.4" r="2.2" fill="#b9e5bf"/>
<circle cx="169.3" cy="503.9" r="2.2" fill="#b4d6f2"/>
<circle cx="160.9" cy="518.7" r="2.2" fill="#b4d6f2"/>
<circle cx="103.3" cy="480" r="2.2" fill="#b9e5bf"/>
<circle cx="281.3" cy="567.6" r="2.2" fill="#f6bfc2"/>
<circle cx="133.8" cy="487.5" r="2.2" fill="#b9e5bf"/>
<circle cx="159.5" cy="582.8" r="2.2" fill="#f9e6bc"/>
<circle cx="139.1" cy="511.7" r="2.2" fill="#b9e5bf"/>
<circle cx="183" cy="492.3" r="2.2" fill="#b9e5bf"/>
<circle cx="162.5" cy="493.9" r="2.2" fill="#b4d6f2"/>
<circle cx="243.9" cy="558.2" r="2.2" fill="#f6bfc2"/>
<circle cx="161.3" cy="492.8" r="2.2" fill="#b4d6f2"/>
<circle cx="152.9" cy="494" r="2.2" fill="#b9e5bf"/>
<circle cx="208.5" cy="595.2" r="2.2" fill="#f9e6bc"/>
<circle cx="269" cy="537.1" r="2.2" fill="#f6bfc2"/>
<circle cx="171" cy="566.3" r="2.2" fill="#f9e6bc"/>
<circle cx="157.7" cy="512.7" r="2.2" fill="#b4d6f2"/>
<circle cx="177.6" cy="511.3" r="2.2" fill="#b4d6f2"/>
<circle cx="173.3" cy="566.6" r="2.2" fill="#f9e6bc"/>
<circle cx="235.8" cy="564.4" r="2.2" fill="#f9e6bc"/>
<circle cx="232.2" cy="528.6" r="2.2" fill="#b9e5bf"/>
<circle cx="93.4" cy="492.1" r="2.2" fill="#b4d6f2"/>
<circle cx="131.1" cy="504.5" r="2.2" fill="#b4d6f2"/>
<circle cx="251.3" cy="552.5" r="2.2" fill="#f6bfc2"/>
<circle cx="215.5" cy="527.4" r="2.2" fill="#b9e5bf"/>
<circle cx="172" cy="506.6" r="2.2" fill="#b4d6f2"/>
<circle cx="302.4" cy="599.5" r="2.2" fill="#f6bfc2"/>
<circle cx="200" cy="512.2" r="2.2" fill="#b9e5bf"/>
<circle cx="146.9" cy="480.2" r="2.2" fill="#b4d6f2"/>
<circle cx="199.9" cy="583.9" r="2.2" fill="#f9e6bc"/>
<circle cx="166.7" cy="505.6" r="2.2" fill="#b9e5bf"/>
<circle cx="257.2" cy="564" r="2.2" fill="#f6bfc2"/>
<circle cx="193.3" cy="568.2" r="2.2" fill="#f9e6bc"/>
<circle cx="250.3" cy="543.8" r="2.2" fill="#f6bfc2"/>
<circle cx="248.5" cy="594.8" r="2.2" fill="#f9e6bc"/>
<circle cx="209.8" cy="567.8" r="2.2" fill="#f9e6bc"/>
<circle cx="279.6" cy="591.4" r="2.2" fill="#f6bfc2"/>
<circle cx="307.6" cy="572.6" r="2.2" fill="#f6bfc2"/>
<circle cx="268.8" cy="562" r="2.2" fill="#f6bfc2"/>
<circle cx="139.1" cy="514.9" r="2.2" fill="#b4d6f2"/>
<circle cx="243.1" cy="598.5" r="2.2" fill="#f9e6bc"/>
<circle cx="168.4" cy="499.8" r="2.2" fill="#b9e5bf"/>
<circle cx="180.7" cy="497.5" r="2.2" fill="#b4d6f2"/>
<circle cx="118.2" cy="487.4" r="2.2" fill="#b4d6f2"/>
<circle cx="217" cy="556.6" r="2.2" fill="#f9e6bc"/>
<circle cx="169.3" cy="514.1" r="2.2" fill="#b4d6f2"/>
<circle cx="282.7" cy="579.4" r="2.2" fill="#f6bfc2"/>
<circle cx="196" cy="504.9" r="2.2" fill="#b9e5bf"/>
<circle cx="184" cy="494" r="2.2" fill="#b9e5bf"/>
<circle cx="184.8" cy="545.7" r="2.2" fill="#f9e6bc"/>
<circle cx="145.7" cy="499.5" r="2.2" fill="#b9e5bf"/>
<circle cx="226.8" cy="569.5" r="2.2" fill="#f9e6bc"/>
<circle cx="175.4" cy="516.5" r="2.2" fill="#b9e5bf"/>
<circle cx="161.5" cy="511.6" r="2.2" fill="#b4d6f2"/>
<circle cx="212.7" cy="565.5" r="2.2" fill="#f9e6bc"/>
<circle cx="294.2" cy="565.7" r="2.2" fill="#f6bfc2"/>
<circle cx="160.5" cy="558.7" r="2.2" fill="#f9e6bc"/>
<circle cx="176.9" cy="497" r="2.2" fill="#b4d6f2"/>
<circle cx="169.2" cy="577.2" r="2.2" fill="#f9e6bc"/>
<circle cx="218.2" cy="575.4" r="2.2" fill="#f9e6bc"/>
<circle cx="215.3" cy="508.9" r="2.2" fill="#b4d6f2"/>
<circle cx="314.8" cy="582.1" r="2.2" fill="#f6bfc2"/>
<circle cx="162.6" cy="489.6" r="2.2" fill="#b4d6f2"/>
<circle cx="175.2" cy="492.6" r="2.2" fill="#b4d6f2"/>
<circle cx="150" cy="497.2" r="2.2" fill="#b4d6f2"/>
<circle cx="229.8" cy="567.3" r="2.2" fill="#f9e6bc"/>
<circle cx="234.5" cy="592.5" r="2.2" fill="#f9e6bc"/>
<circle cx="174.5" cy="536" r="2.2" fill="#b4d6f2"/>
<circle cx="134.4" cy="498.9" r="2.2" fill="#b4d6f2"/>
<circle cx="179.5" cy="499.5" r="2.2" fill="#b9e5bf"/>
<circle cx="289.6" cy="569.7" r="2.2" fill="#f6bfc2"/>
<circle cx="171.6" cy="493.6" r="2.2" fill="#b9e5bf"/>
<circle cx="116.8" cy="459.9" r="2.2" fill="#b9e5bf"/>
<circle cx="186.2" cy="593.2" r="2.2" fill="#f9e6bc"/>
<circle cx="157.2" cy="480" r="2.2" fill="#b9e5bf"/>
<circle cx="144.4" cy="479.6" r="2.2" fill="#b4d6f2"/>
<circle cx="178" cy="499.6" r="2.2" fill="#b9e5bf"/>
<circle cx="195.7" cy="576.4" r="2.2" fill="#f9e6bc"/>
<circle cx="184.1" cy="501.9" r="2.2" fill="#b4d6f2"/>
<circle cx="156.4" cy="511.7" r="2.2" fill="#b4d6f2"/>
<circle cx="128" cy="488.1" r="2.2" fill="#b4d6f2"/>
<circle cx="272" cy="537.4" r="2.2" fill="#f6bfc2"/>
<circle cx="217.8" cy="597.1" r="2.2" fill="#f9e6bc"/>
<circle cx="204.2" cy="578" r="2.2" fill="#f9e6bc"/>
<circle cx="287.2" cy="557.5" r="2.2" fill="#f6bfc2"/>
<circle cx="180.3" cy="519.2" r="2.2" fill="#b4d6f2"/>
<circle cx="233" cy="596.7" r="2.2" fill="#f9e6bc"/>
<circle cx="183.2" cy="581.8" r="2.2" fill="#f9e6bc"/>
<circle cx="280.3" cy="554.4" r="2.2" fill="#f6bfc2"/>
<circle cx="308" cy="566.4" r="2.2" fill="#f6bfc2"/>
<circle cx="182.8" cy="565.6" r="2.2" fill="#f9e6bc"/>
<circle cx="146.7" cy="495.5" r="2.2" fill="#b9e5bf"/>
<circle cx="308.9" cy="575.9" r="2.2" fill="#f6bfc2"/>
<circle cx="206.1" cy="542.7" r="2.2" fill="#b4d6f2"/>
<circle cx="265.1" cy="549.6" r="2.2" fill="#f6bfc2"/>
<circle cx="163.2" cy="495.9" r="2.2" fill="#b9e5bf"/>
<circle cx="175.1" cy="495.2" r="2.2" fill="#b9e5bf"/>
<circle cx="175.6" cy="501.8" r="2.2" fill="#b4d6f2"/>
<circle cx="217.7" cy="521.5" r="2.2" fill="#b9e5bf"/>
<circle cx="146.8" cy="491.5" r="2.2" fill="#b9e5bf"/>
<circle cx="181.3" cy="506.3" r="2.2" fill="#b9e5bf"/>
<circle cx="131.5" cy="473.5" r="2.2" fill="#b9e5bf"/>
<circle cx="125.2" cy="507.5" r="2.2" fill="#b4d6f2"/>
<circle cx="263.6" cy="539.4" r="2.2" fill="#f6bfc2"/>
<circle cx="215.1" cy="572" r="2.2" fill="#f9e6bc"/>
<circle cx="158.9" cy="492.6" r="2.2" fill="#b4d6f2"/>
<circle cx="304.7" cy="558.9" r="2.2" fill="#f6bfc2"/>
<circle cx="169.8" cy="505.3" r="2.2" fill="#b9e5bf"/>
<circle cx="207.1" cy="588.5" r="2.2" fill="#f9e6bc"/>
<circle cx="191.7" cy="505.6" r="2.2" fill="#b4d6f2"/>
<circle cx="167" cy="509.3" r="2.2" fill="#b4d6f2"/>
<circle cx="160.2" cy="483.3" r="2.2" fill="#b4d6f2"/>
<circle cx="134.3" cy="502.3" r="2.2" fill="#b4d6f2"/>
<circle cx="276.2" cy="567.1" r="2.2" fill="#f6bfc2"/>
<circle cx="261" cy="531.4" r="2.2" fill="#f6bfc2"/>
<circle cx="253.6" cy="560.2" r="2.2" fill="#f6bfc2"/>
<circle cx="211.4" cy="477.8" r="2.2" fill="#b9e5bf"/>
<circle cx="171.5" cy="492.6" r="2.2" fill="#b9e5bf"/>
<circle cx="263.4" cy="562.9" r="2.2" fill="#f6bfc2"/>
<circle cx="181" cy="568.2" r="2.2" fill="#f9e6bc"/>
<circle cx="153.3" cy="509" r="2.2" fill="#b9e5bf"/>
<circle cx="286.5" cy="582" r="2.2" fill="#f6bfc2"/>
<circle cx="203.8" cy="528.4" r="2.2" fill="#b4d6f2"/>
<circle cx="286.6" cy="576" r="2.2" fill="#f6bfc2"/>
<circle cx="172" cy="521.2" r="2.2" fill="#b4d6f2"/>
<circle cx="272" cy="569.5" r="2.2" fill="#f6bfc2"/>
<circle cx="155.2" cy="498.4" r="2.2" fill="#b4d6f2"/>
<circle cx="146.9" cy="492.5" r="2.2" fill="#b4d6f2"/>
<circle cx="297.5" cy="566.1" r="2.2" fill="#f6bfc2"/>
<circle cx="293.2" cy="567.9" r="2.2" fill="#f6bfc2"/>
<circle cx="163.9" cy="494.7" r="2.2" fill="#b9e5bf"/>
<circle cx="298.6" cy="582.2" r="2.2" fill="#f6bfc2"/>
<circle cx="121.6" cy="452.7" r="2.2" fill="#b4d6f2"/>
<circle cx="180.9" cy="566.3" r="2.2" fill="#f9e6bc"/>
<circle cx="183" cy="500.5" r="2.2" fill="#b4d6f2"/>
<circle cx="189.5" cy="553.1" r="2.2" fill="#f9e6bc"/>
<circle cx="168" cy="590" r="2.2" fill="#f9e6bc"/>
<circle cx="296.6" cy="565.7" r="2.2" fill="#f6bfc2"/>
<circle cx="281.2" cy="561.1" r="2.2" fill="#f6bfc2"/>
<circle cx="156.6" cy="558.1" r="2.2" fill="#f9e6bc"/>
<circle cx="154.4" cy="480.7" r="2.2" fill="#b9e5bf"/>
<circle cx="306.1" cy="579.6" r="2.2" fill="#f6bfc2"/>
<circle cx="288.1" cy="560.8" r="2.2" fill="#f6bfc2"/>
<circle cx="145.2" cy="483.7" r="2.2" fill="#b4d6f2"/>
<circle cx="311.7" cy="565.8" r="2.2" fill="#f6bfc2"/>
<circle cx="181.8" cy="559.8" r="2.2" fill="#f9e6bc"/>
<circle cx="149.9" cy="493.4" r="2.2" fill="#b4d6f2"/>
<circle cx="172.9" cy="484.1" r="2.2" fill="#b4d6f2"/>
<circle cx="159.4" cy="567.4" r="2.2" fill="#f9e6bc"/>
<circle cx="260.1" cy="584.1" r="2.2" fill="#f9e6bc"/>
<circle cx="186" cy="555.6" r="2.2" fill="#f9e6bc"/>
<circle cx="190.8" cy="499.4" r="2.2" fill="#b4d6f2"/>
<circle cx="134.8" cy="487.3" r="2.2" fill="#b4d6f2"/>
<circle cx="209.1" cy="546.4" r="2.2" fill="#b9e5bf"/>
<circle cx="171.5" cy="501.1" r="2.2" fill="#b4d6f2"/>
<circle cx="276.1" cy="546.6" r="2.2" fill="#f6bfc2"/>
<circle cx="160" cy="573.5" r="2.2" fill="#f9e6bc"/>
<circle cx="216.2" cy="572.6" r="2.2" fill="#f9e6bc"/>
<circle cx="159.3" cy="495.3" r="2.2" fill="#b4d6f2"/>
<circle cx="258.4" cy="566.5" r="2.2" fill="#f6bfc2"/>
<circle cx="119.4" cy="474.8" r="2.2" fill="#b9e5bf"/>
<circle cx="251.1" cy="580.2" r="2.2" fill="#f9e6bc"/>
<circle cx="159.5" cy="519.9" r="2.2" fill="#b4d6f2"/>
<circle cx="283" cy="534.6" r="2.2" fill="#f6bfc2"/>
<circle cx="170.7" cy="472.2" r="2.2" fill="#b4d6f2"/>
<circle cx="197.3" cy="511" r="2.2" fill="#b4d6f2"/>
<circle cx="267.6" cy="537.1" r="2.2" fill="#f6bfc2"/>
<circle cx="178.7" cy="498.2" r="2.2" fill="#b4d6f2"/>
<circle cx="286" cy="555.3" r="2.2" fill="#f6bfc2"/>
<circle cx="260.7" cy="556.8" r="2.2" fill="#f6bfc2"/>
<circle cx="140" cy="485" r="2.2" fill="#b4d6f2"/>
<circle cx="221.5" cy="510.1" r="2.2" fill="#b4d6f2"/>
<circle cx="279.5" cy="550.4" r="2.2" fill="#f6bfc2"/>
<circle cx="145.6" cy="509.8" r="2.2" fill="#b9e5bf"/>
<circle cx="273" cy="588.7" r="2.2" fill="#f9e6bc"/>
<circle cx="177.1" cy="587.8" r="2.2" fill="#f9e6bc"/>
<circle cx="167" cy="498.8" r="2.2" fill="#b9e5bf"/>
<circle cx="301.1" cy="586.6" r="2.2" fill="#f6bfc2"/>
<circle cx="295.2" cy="580.5" r="2.2" fill="#f6bfc2"/>
<circle cx="198" cy="502.2" r="2.2" fill="#b9e5bf"/>
<circle cx="182.8" cy="576.7" r="2.2" fill="#f9e6bc"/>
<circle cx="183.4" cy="570" r="2.2" fill="#f9e6bc"/>
<circle cx="120.8" cy="470.1" r="2.2" fill="#b9e5bf"/>
<circle cx="211.5" cy="561.6" r="2.2" fill="#f9e6bc"/>
<circle cx="170.2" cy="509.1" r="2.2" fill="#b9e5bf"/>
<circle cx="199.6" cy="500" r="2.2" fill="#b9e5bf"/>
<circle cx="225.3" cy="587.2" r="2.2" fill="#f9e6bc"/>
<circle cx="257.2" cy="569.4" r="2.2" fill="#f9e6bc"/>
<circle cx="202.4" cy="518.7" r="2.2" fill="#b9e5bf"/>
<circle cx="80.4" cy="464.5" r="2.2" fill="#b4d6f2"/>
<circle cx="153.4" cy="552" r="2.2" fill="#f9e6bc"/>
<circle cx="170.3" cy="518.1" r="2.2" fill="#b9e5bf"/>
<circle cx="163.1" cy="483.5" r="2.2" fill="#b9e5bf"/>
<circle cx="245" cy="569.7" r="2.2" fill="#f9e6bc"/>
<circle cx="151" cy="554.2" r="2.2" fill="#f9e6bc"/>
<circle cx="191.5" cy="527" r="2.2" fill="#b4d6f2"/>
<circle cx="182.5" cy="526.5" r="2.2" fill="#b4d6f2"/>
<circle cx="130.4" cy="432.6" r="2.2" fill="#ababab"/>
<circle cx="110" cy="442.8" r="2.2" fill="#ababab"/>
<circle cx="105.8" cy="466" r="2.2" fill="#ababab"/>
<circle cx="185.6" cy="458.4" r="2.2" fill="#ababab"/>
<circle cx="172.4" cy="462.6" r="2.2" fill="#ababab"/>
<circle cx="175.4" cy="468" r="2.2" fill="#ababab"/>
<circle cx="130.4" cy="475.8" r="2.2" fill="#ababab"/>
<circle cx="168.5" cy="475.5" r="2.2" fill="#ababab"/>
<circle cx="188" cy="482.4" r="2.2" fill="#ababab"/>
<circle cx="196" cy="481.5" r="2.2" fill="#ababab"/>
<circle cx="216" cy="480" r="2.2" fill="#ababab"/>
<circle cx="246.8" cy="484" r="2.2" fill="#ababab"/>
<circle cx="197" cy="485.4" r="2.2" fill="#ababab"/>
<circle cx="98" cy="491.4" r="2.2" fill="#ababab"/>
<circle cx="220.4" cy="499.8" r="2.2" fill="#ababab"/>
<circle cx="80" cy="516" r="2.2" fill="#ababab"/>
<circle cx="116.6" cy="516.6" r="2.2" fill="#ababab"/>
<circle cx="141.2" cy="510" r="2.2" fill="#ababab"/>
<circle cx="153.8" cy="525" r="2.2" fill="#ababab"/>
<circle cx="141.5" cy="527.4" r="2.2" fill="#ababab"/>
<circle cx="157" cy="529.5" r="2.2" fill="#ababab"/>
<circle cx="69.5" cy="540.6" r="2.2" fill="#ababab"/>
<circle cx="187.4" cy="552" r="2.2" fill="#ababab"/>
<circle cx="139.4" cy="569" r="2.2" fill="#ababab"/>
<circle cx="320" cy="514.8" r="2.2" fill="#ababab"/>
<circle cx="213" cy="576" r="2.2" fill="#ababab"/>
<circle cx="220.4" cy="553.8" r="2.2" fill="#ababab"/>
<line x1="58" y1="577.7" x2="340" y2="577.7" stroke="#2b2b2b" stroke-width="1.8" stroke-dasharray="12 12.5" stroke-dashoffset="-1"/>
<line x1="177.2" y1="423" x2="177.2" y2="600" stroke="#2b2b2b" stroke-width="1.8" stroke-dasharray="12 12.5" stroke-dashoffset="-4.5"/>
<line x1="123.5" y1="499.5" x2="170" y2="499.5" stroke="#1f78e0" stroke-width="2.2"/>
<line x1="156.5" y1="481.5" x2="156.5" y2="517.5" stroke="#1f78e0" stroke-width="2.2"/>
<circle cx="156.5" cy="499.5" r="4.6" fill="#1f78e0"/>
<line x1="129.5" y1="499.5" x2="189.5" y2="499.5" stroke="#1a9a55" stroke-width="2.6"/>
<line x1="163" y1="484.5" x2="163" y2="516" stroke="#1a9a55" stroke-width="2.2"/>
<line x1="113" y1="504" x2="213.5" y2="504" stroke="#222" stroke-width="2.2"/>
<line x1="163.4" y1="468" x2="163.4" y2="538.5" stroke="#222" stroke-width="2.2"/>
<circle cx="163.4" cy="504" r="4.6" fill="#222"/>
<line x1="161" y1="578" x2="227" y2="578" stroke="#f2a900" stroke-width="2.2"/>
<line x1="195" y1="560.4" x2="195" y2="600" stroke="#f2a900" stroke-width="2.2"/>
<circle cx="195" cy="578" r="4.6" fill="#f2a900"/>
<line x1="253.4" y1="566" x2="296" y2="566" stroke="#e8141e" stroke-width="2.2"/>
<line x1="274.4" y1="550.5" x2="274.4" y2="582" stroke="#e8141e" stroke-width="2.2"/>
<circle cx="274.4" cy="566" r="4.6" fill="#e8141e"/>
<circle cx="85.3" cy="589.5" r="4.8" fill="#f00a0a"/>
<text x="99.6" y="594" font-size="12.3" fill="#2b2b2b" text-anchor="start">Heb</text>
<circle cx="85.3" cy="604" r="4.8" fill="#22c33c"/>
<text x="99.6" y="607.6" font-size="12.3" fill="#2b2b2b" text-anchor="start">FR+Heb</text>
<text transform="translate(362,412) scale(1.02,1)" font-size="38.8" fill="#000" stroke="#000" stroke-width="0.4">D</text>
<text x="534" y="413.6" font-size="16.65" fill="#2b2b2b" text-anchor="middle">Connection Mutual Information</text>
<line x1="395.5" y1="423.6" x2="395.5" y2="535" stroke="#2b2b2b" stroke-width="1"/>
<line x1="395.5" y1="535" x2="673" y2="535" stroke="#8c8c8c" stroke-width="0.8"/>
<line x1="395.5" y1="442" x2="398.5" y2="442" stroke="#2b2b2b" stroke-width="1"/>
<text x="389.5" y="445.8" font-size="10.8" fill="#2b2b2b" text-anchor="end">0.1</text>
<line x1="395.5" y1="460.6" x2="398.5" y2="460.6" stroke="#2b2b2b" stroke-width="1"/>
<text x="389.5" y="464.4" font-size="10.8" fill="#2b2b2b" text-anchor="end">0.08</text>
<line x1="395.5" y1="479.2" x2="398.5" y2="479.2" stroke="#2b2b2b" stroke-width="1"/>
<text x="389.5" y="483" font-size="10.8" fill="#2b2b2b" text-anchor="end">0.06</text>
<line x1="395.5" y1="497.8" x2="398.5" y2="497.8" stroke="#2b2b2b" stroke-width="1"/>
<text x="389.5" y="501.6" font-size="10.8" fill="#2b2b2b" text-anchor="end">0.04</text>
<line x1="395.5" y1="516.4" x2="398.5" y2="516.4" stroke="#2b2b2b" stroke-width="1"/>
<text x="389.5" y="520.2" font-size="10.8" fill="#2b2b2b" text-anchor="end">0.02</text>
<line x1="395.5" y1="535" x2="398.5" y2="535" stroke="#2b2b2b" stroke-width="1"/>
<text x="389.5" y="538.8" font-size="10.8" fill="#2b2b2b" text-anchor="end">0</text>
<text x="344.5" y="479" font-size="12.6" fill="#2b2b2b" text-anchor="middle" transform="rotate(-90 344.5 479)">MI(Pre; Post)</text>
<text x="357" y="479" font-size="12.6" fill="#2b2b2b" text-anchor="middle" transform="rotate(-90 357 479)">(bits)</text>
<line x1="395.5" y1="549" x2="395.5" y2="600" stroke="#2b2b2b" stroke-width="1"/>
<line x1="395.5" y1="549" x2="399.5" y2="549" stroke="#2b2b2b" stroke-width="1"/>
<text x="389.5" y="552.8" font-size="10.8" fill="#2b2b2b" text-anchor="end">5</text>
<line x1="395.5" y1="577" x2="399.5" y2="577" stroke="#2b2b2b" stroke-width="1"/>
<text x="389.5" y="580.8" font-size="10.8" fill="#2b2b2b" text-anchor="end">4.5</text>
<text x="347.5" y="546" font-size="12.6" fill="#2b2b2b" text-anchor="end" transform="rotate(-90 347.5 546)">H(Post | Signal)</text>
<text x="361.5" y="581" font-size="12.6" fill="#2b2b2b" text-anchor="end" transform="rotate(-90 361.5 581)">(bits)</text>
<path d="M493.3 441.5 L493.3 436.4 L411 436.4 L411 527 L656.5 527 L656.5 477" fill="none" stroke="#1a1a1a" stroke-width="2"/>
<path d="M411 478 L574.6 478 L574.6 473" fill="none" stroke="#1a1a1a" stroke-width="2"/>
<rect x="436" y="433.4" width="33" height="6" fill="#fff"/>
<circle cx="443.8" cy="436.4" r="3.1" fill="#1a1a1a"/>
<circle cx="452" cy="436.4" r="3.1" fill="#1a1a1a"/>
<circle cx="460.2" cy="436.4" r="3.1" fill="#1a1a1a"/>
<rect x="476" y="475" width="34" height="6" fill="#fff"/>
<circle cx="484.8" cy="478" r="3.1" fill="#1a1a1a"/>
<circle cx="493" cy="478" r="3.1" fill="#1a1a1a"/>
<circle cx="501.2" cy="478" r="3.1" fill="#1a1a1a"/>
<rect x="517" y="524" width="33" height="6" fill="#fff"/>
<circle cx="525.8" cy="527" r="3.1" fill="#1a1a1a"/>
<circle cx="534" cy="527" r="3.1" fill="#1a1a1a"/>
<circle cx="542.2" cy="527" r="3.1" fill="#1a1a1a"/>
<line x1="485.3" y1="445.6" x2="501.3" y2="445.6" stroke="#e8141e" stroke-width="2.2"/>
<line x1="485.3" y1="453.6" x2="501.3" y2="453.6" stroke="#e8141e" stroke-width="2.2"/>
<line x1="493.3" y1="445.6" x2="493.3" y2="453.6" stroke="#e8141e" stroke-width="2.2"/>
<circle cx="493.3" cy="449.6" r="4.2" fill="#e8141e"/>
<line x1="566.6" y1="459.8" x2="582.6" y2="459.8" stroke="#22c33c" stroke-width="2.2"/>
<line x1="566.6" y1="468.6" x2="582.6" y2="468.6" stroke="#22c33c" stroke-width="2.2"/>
<line x1="574.6" y1="459.8" x2="574.6" y2="468.6" stroke="#22c33c" stroke-width="2.2"/>
<circle cx="574.6" cy="464.4" r="4.2" fill="#22c33c"/>
<line x1="648.3" y1="459.8" x2="664.7" y2="459.8" stroke="#1a78e6" stroke-width="2.2"/>
<line x1="648.3" y1="471.6" x2="664.7" y2="471.6" stroke="#1a78e6" stroke-width="2.2"/>
<line x1="656.5" y1="459.8" x2="656.5" y2="471.6" stroke="#1a78e6" stroke-width="2.2"/>
<circle cx="656.5" cy="465.6" r="4.2" fill="#1a78e6"/>
<line x1="402.8" y1="514.2" x2="419.2" y2="514.2" stroke="#f5a800" stroke-width="2.2"/>
<line x1="402.8" y1="518.6" x2="419.2" y2="518.6" stroke="#f5a800" stroke-width="2.2"/>
<line x1="411" y1="514.2" x2="411" y2="518.6" stroke="#f5a800" stroke-width="2.2"/>
<circle cx="411" cy="516.4" r="4.6" fill="#f5a800"/>
<path d="M656.5 574.5 L656.5 563.6 L411 563.6 L411 600" fill="none" stroke="#1a1a1a" stroke-width="2"/>
<path d="M411 575.4 L574.6 575.4 L574.6 585" fill="none" stroke="#1a1a1a" stroke-width="2"/>
<rect x="517" y="560.6" width="33" height="6" fill="#fff"/>
<circle cx="525.8" cy="563.6" r="3.1" fill="#1a1a1a"/>
<circle cx="534" cy="563.6" r="3.1" fill="#1a1a1a"/>
<circle cx="542.2" cy="563.6" r="3.1" fill="#1a1a1a"/>
<rect x="476" y="572.4" width="34" height="6" fill="#fff"/>
<circle cx="484.8" cy="575.4" r="3.1" fill="#1a1a1a"/>
<circle cx="493" cy="575.4" r="3.1" fill="#1a1a1a"/>
<circle cx="501.2" cy="575.4" r="3.1" fill="#1a1a1a"/>
<line x1="648.3" y1="585.6" x2="664.7" y2="585.6" stroke="#1a78e6" stroke-width="2.2"/>
<line x1="656.5" y1="585.6" x2="656.5" y2="600" stroke="#1a78e6" stroke-width="2.2"/>
<circle cx="656.5" cy="601" r="4.2" fill="#1a78e6"/>
<line x1="566.5" y1="597.6" x2="582.5" y2="597.6" stroke="#22c33c" stroke-width="2.2"/>
<line x1="574.6" y1="597.6" x2="574.6" y2="600" stroke="#22c33c" stroke-width="2.2"/>
<text transform="translate(708,412) scale(0.77,1)" font-size="38.8" fill="#000" stroke="#000" stroke-width="0.4">E</text>
<text x="870.7" y="408.6" font-size="16.65" fill="#2b2b2b" text-anchor="middle">Explanatory Diagram</text>
<line x1="733.5" y1="600" x2="733.5" y2="430" stroke="#000" stroke-width="4"/>
<polygon points="733.5,423 727.5,436 733.5,433 739.5,436" fill="#000"/>
<text x="707" y="490.3" font-size="12.25" fill="#2b2b2b" text-anchor="end" transform="rotate(-90 707 490.3)">Better Preserve Neuron−to−</text>
<text x="720.5" y="476.8" font-size="12.25" fill="#2b2b2b" text-anchor="end" transform="rotate(-90 720.5 476.8)">Neuron Communication</text>
<text x="759.5" y="549.8" font-size="12.25" fill="#2b2b2b" text-anchor="end" transform="rotate(-90 759.5 549.8)" font-style="italic">Random Model</text>
<line x1="789.2" y1="600" x2="911.1" y2="460.8" stroke="#000" stroke-width="4.2"/>
<polygon points="917,454 912.4,469.9 909.6,462.5 901.9,460.7" fill="#000"/>
<line x1="805.8" y1="600" x2="920" y2="506.7" stroke="#000" stroke-width="4.2"/>
<polygon points="927,501 919.8,515.9 918.3,508.1 911,505.1" fill="#000"/>
<circle cx="928" cy="445.6" r="7" fill="#1a78e6"/>
<circle cx="934" cy="493.4" r="7" fill="#22c33c"/>
<text x="914.8" y="434.2" font-size="12.56" fill="#1a1a1a" text-anchor="middle">Degree + Hebbian Rewiring</text>
<text x="965.5" y="510" font-size="12.6" fill="#1a1a1a" text-anchor="middle" transform="rotate(75 965.5 510)">Firing Rate + Hebbian</text>
<text x="952" y="512.5" font-size="12.6" fill="#1a1a1a" text-anchor="middle" transform="rotate(75 952 512.5)">Rewiring</text>
</svg></body></html>
